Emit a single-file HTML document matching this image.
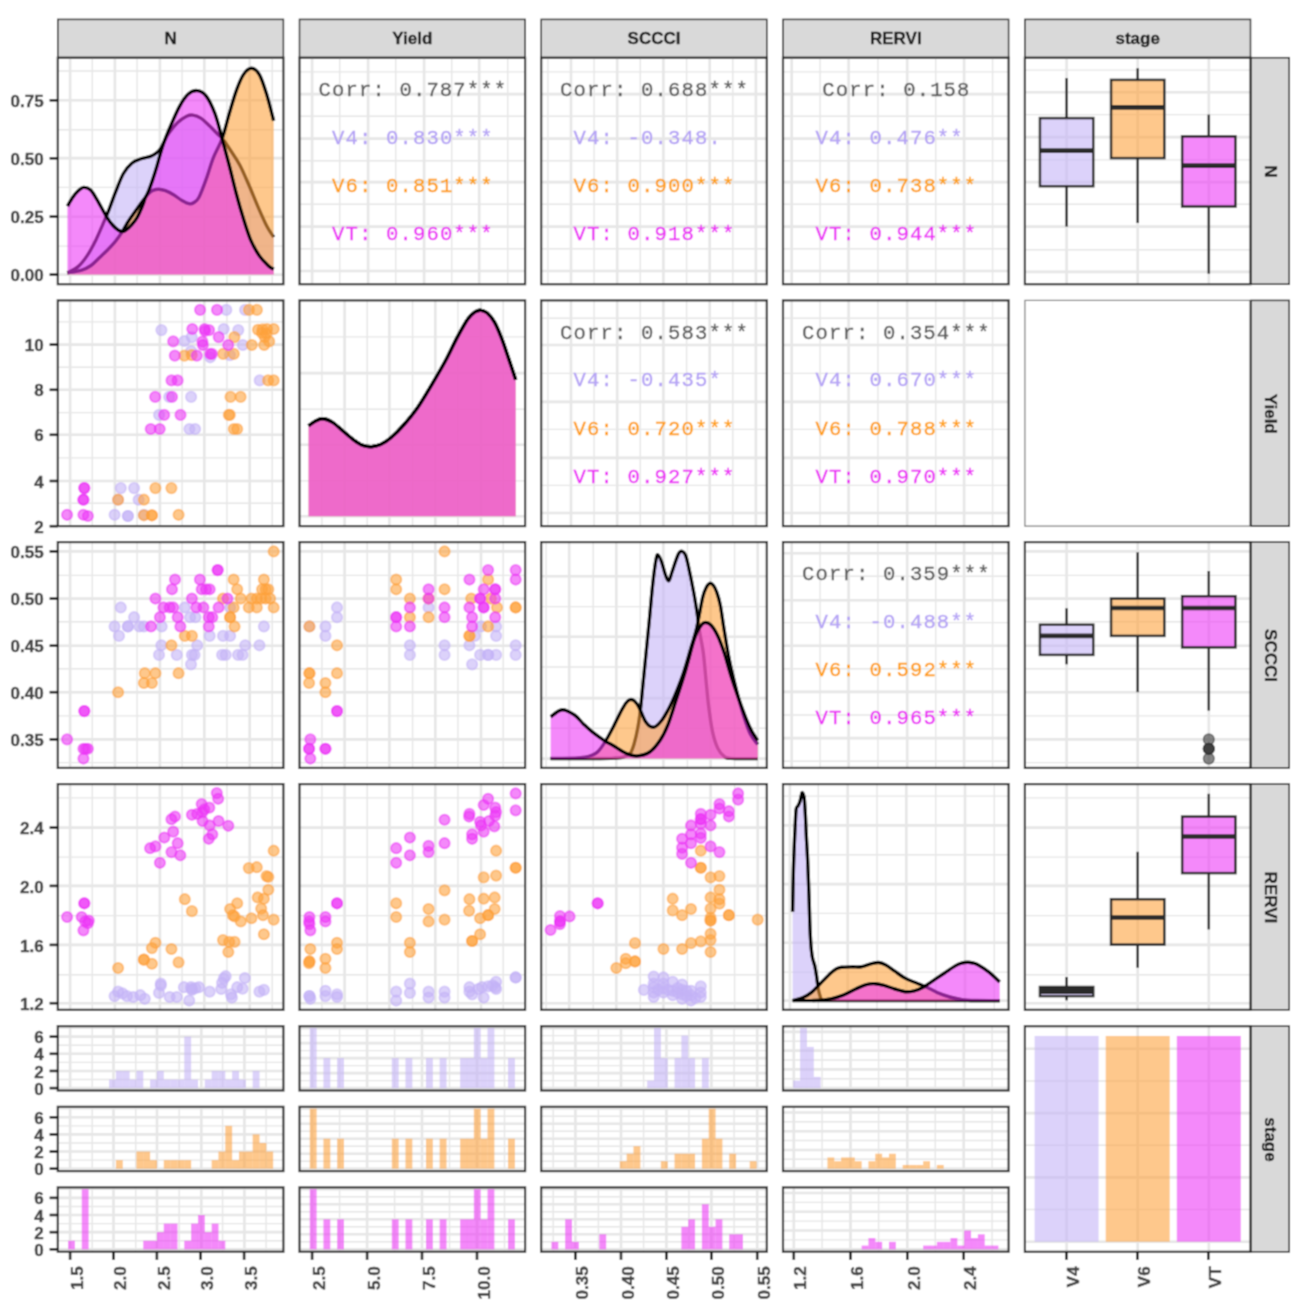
<!DOCTYPE html>
<html><head><meta charset="utf-8"><title>ggpairs</title>
<style>
html,body{margin:0;padding:0;background:#fff;overflow:hidden;}
svg{display:block;} #wrap{width:1308px;height:1305px;}
.st{font-family:"Liberation Sans",sans-serif;font-weight:bold;font-size:17px;fill:#1a1a1a;stroke:#1a1a1a;stroke-width:0.3px;}
.ax{font-family:"Liberation Sans",sans-serif;font-weight:bold;font-size:17px;fill:#444444;stroke:#444444;stroke-width:0.4px;}
.cr{font-family:"Liberation Mono",monospace;font-size:20.6px;letter-spacing:1.14px;white-space:pre;stroke-width:0.3px;}
</style></head><body><div id="wrap">
<svg width="1308" height="1305" viewBox="0 0 1308 1305">
<defs><filter id="bl" x="0" y="0" width="1308" height="1305" filterUnits="userSpaceOnUse"><feConvolveMatrix order="3" kernelMatrix="0.04938 0.12346 0.04938 0.12346 0.30864 0.12346 0.04938 0.12346 0.04938" edgeMode="duplicate" preserveAlpha="false"/></filter></defs>
<g filter="url(#bl)">
<rect x="0" y="0" width="1308" height="1305" fill="#ffffff"/>
<rect x="57.8" y="19.4" width="225.6" height="38.3" fill="#d9d9d9" stroke="#222222" stroke-width="1.5"/>
<text x="170.6" y="44.3" text-anchor="middle" class="st">N</text>
<rect x="299.5" y="19.4" width="225.6" height="38.3" fill="#d9d9d9" stroke="#222222" stroke-width="1.5"/>
<text x="412.3" y="44.3" text-anchor="middle" class="st">Yield</text>
<rect x="541.2" y="19.4" width="225.6" height="38.3" fill="#d9d9d9" stroke="#222222" stroke-width="1.5"/>
<text x="654" y="44.3" text-anchor="middle" class="st">SCCCI</text>
<rect x="783" y="19.4" width="225.6" height="38.3" fill="#d9d9d9" stroke="#222222" stroke-width="1.5"/>
<text x="895.8" y="44.3" text-anchor="middle" class="st">RERVI</text>
<rect x="1024.9" y="19.4" width="225.6" height="38.3" fill="#d9d9d9" stroke="#222222" stroke-width="1.5"/>
<text x="1137.7" y="44.3" text-anchor="middle" class="st">stage</text>
<rect x="1251.0" y="57.7" width="38.2" height="226.5" fill="#d9d9d9" stroke="#222222" stroke-width="1.5"/>
<text transform="translate(1264.5,171.45) rotate(90)" text-anchor="middle" class="st">N</text>
<rect x="1251.0" y="300.4" width="38.2" height="225.7" fill="#d9d9d9" stroke="#222222" stroke-width="1.5"/>
<text transform="translate(1264.5,413.75) rotate(90)" text-anchor="middle" class="st">Yield</text>
<rect x="1251.0" y="542.1" width="38.2" height="225.8" fill="#d9d9d9" stroke="#222222" stroke-width="1.5"/>
<text transform="translate(1264.5,655.5) rotate(90)" text-anchor="middle" class="st">SCCCI</text>
<rect x="1251.0" y="784.1" width="38.2" height="225.7" fill="#d9d9d9" stroke="#222222" stroke-width="1.5"/>
<text transform="translate(1264.5,897.45) rotate(90)" text-anchor="middle" class="st">RERVI</text>
<rect x="1251.0" y="1026.2" width="38.2" height="225.6" fill="#d9d9d9" stroke="#222222" stroke-width="1.5"/>
<text transform="translate(1264.5,1139.5) rotate(90)" text-anchor="middle" class="st">stage</text>
<line x1="92.3" y1="57.7" x2="92.3" y2="284.2" stroke="#e6e6e6" stroke-width="1.4"/>
<line x1="137.1" y1="57.7" x2="137.1" y2="284.2" stroke="#e6e6e6" stroke-width="1.4"/>
<line x1="182.1" y1="57.7" x2="182.1" y2="284.2" stroke="#e6e6e6" stroke-width="1.4"/>
<line x1="226.9" y1="57.7" x2="226.9" y2="284.2" stroke="#e6e6e6" stroke-width="1.4"/>
<line x1="272.2" y1="57.7" x2="272.2" y2="284.2" stroke="#e6e6e6" stroke-width="1.4"/>
<line x1="57.8" y1="71" x2="283.4" y2="71" stroke="#e6e6e6" stroke-width="1.4"/>
<line x1="57.8" y1="129.7" x2="283.4" y2="129.7" stroke="#e6e6e6" stroke-width="1.4"/>
<line x1="57.8" y1="187.4" x2="283.4" y2="187.4" stroke="#e6e6e6" stroke-width="1.4"/>
<line x1="57.8" y1="246.1" x2="283.4" y2="246.1" stroke="#e6e6e6" stroke-width="1.4"/>
<line x1="70.1" y1="57.7" x2="70.1" y2="284.2" stroke="#e6e6e6" stroke-width="2.6"/>
<line x1="114.9" y1="57.7" x2="114.9" y2="284.2" stroke="#e6e6e6" stroke-width="2.6"/>
<line x1="159.9" y1="57.7" x2="159.9" y2="284.2" stroke="#e6e6e6" stroke-width="2.6"/>
<line x1="204.3" y1="57.7" x2="204.3" y2="284.2" stroke="#e6e6e6" stroke-width="2.6"/>
<line x1="249.7" y1="57.7" x2="249.7" y2="284.2" stroke="#e6e6e6" stroke-width="2.6"/>
<line x1="57.8" y1="100.3" x2="283.4" y2="100.3" stroke="#e6e6e6" stroke-width="2.6"/>
<line x1="57.8" y1="158.1" x2="283.4" y2="158.1" stroke="#e6e6e6" stroke-width="2.6"/>
<line x1="57.8" y1="216.8" x2="283.4" y2="216.8" stroke="#e6e6e6" stroke-width="2.6"/>
<line x1="57.8" y1="274.6" x2="283.4" y2="274.6" stroke="#e6e6e6" stroke-width="2.6"/>
<path d="M67.4,274.6 L67.4,272.8 C69.18,271.77 74.83,269.42 78.1,266.6 C81.37,263.78 84.03,260.35 87,255.9 C89.97,251.45 93.23,245.23 95.9,239.9 C98.57,234.57 100.93,228.65 103,223.9 C105.07,219.15 106.23,216.65 108.3,211.4 C110.37,206.15 112.88,198.72 115.4,192.4 C117.92,186.08 120.67,178.37 123.4,173.5 C126.13,168.63 128.98,165.62 131.8,163.2 C134.62,160.78 137.2,160.15 140.3,159 C143.4,157.85 147.7,157.33 150.4,156.3 C153.1,155.27 154.82,154.08 156.5,152.8 C158.18,151.52 159.17,150.57 160.5,148.6 C161.83,146.63 163.12,143.57 164.5,141 C165.88,138.43 166.6,136.27 168.8,133.2 C171,130.13 174.73,125.42 177.7,122.6 C180.67,119.78 184.08,117.55 186.6,116.3 C189.12,115.05 190.43,114.8 192.8,115.1 C195.17,115.4 197.98,116.27 200.8,118.1 C203.62,119.93 207.03,123.58 209.7,126.1 C212.37,128.62 214.58,130.98 216.8,133.2 C219.02,135.42 220.63,136.43 223,139.4 C225.37,142.37 228.18,146.7 231,151 C233.82,155.3 236.93,159.57 239.9,165.2 C242.87,170.83 245.83,177.98 248.8,184.8 C251.77,191.62 254.73,199.28 257.7,206.1 C260.67,212.92 263.93,220.52 266.6,225.7 C269.27,230.88 272.52,235.28 273.7,237.2 L273.7,274.6 Z" fill="#c4b3f7" fill-opacity="0.59"/>
<path d="M67.4,272.8 C69.18,271.77 74.83,269.42 78.1,266.6 C81.37,263.78 84.03,260.35 87,255.9 C89.97,251.45 93.23,245.23 95.9,239.9 C98.57,234.57 100.93,228.65 103,223.9 C105.07,219.15 106.23,216.65 108.3,211.4 C110.37,206.15 112.88,198.72 115.4,192.4 C117.92,186.08 120.67,178.37 123.4,173.5 C126.13,168.63 128.98,165.62 131.8,163.2 C134.62,160.78 137.2,160.15 140.3,159 C143.4,157.85 147.7,157.33 150.4,156.3 C153.1,155.27 154.82,154.08 156.5,152.8 C158.18,151.52 159.17,150.57 160.5,148.6 C161.83,146.63 163.12,143.57 164.5,141 C165.88,138.43 166.6,136.27 168.8,133.2 C171,130.13 174.73,125.42 177.7,122.6 C180.67,119.78 184.08,117.55 186.6,116.3 C189.12,115.05 190.43,114.8 192.8,115.1 C195.17,115.4 197.98,116.27 200.8,118.1 C203.62,119.93 207.03,123.58 209.7,126.1 C212.37,128.62 214.58,130.98 216.8,133.2 C219.02,135.42 220.63,136.43 223,139.4 C225.37,142.37 228.18,146.7 231,151 C233.82,155.3 236.93,159.57 239.9,165.2 C242.87,170.83 245.83,177.98 248.8,184.8 C251.77,191.62 254.73,199.28 257.7,206.1 C260.67,212.92 263.93,220.52 266.6,225.7 C269.27,230.88 272.52,235.28 273.7,237.2" fill="none" stroke="#000" stroke-width="3.4" stroke-linejoin="round"/>
<path d="M67.4,274.6 L67.4,272.8 C69.78,272.35 77.77,271.32 81.7,270.1 C85.63,268.88 88.05,267.57 91,265.5 C93.95,263.43 96.73,260.2 99.4,257.7 C102.07,255.2 104.62,252.88 107,250.5 C109.38,248.12 111.78,245.6 113.7,243.4 C115.62,241.2 117.02,239.33 118.5,237.3 C119.98,235.27 121.18,233.5 122.6,231.2 C124.02,228.9 125.47,226 127,223.5 C128.53,221 130.3,218.42 131.8,216.2 C133.3,213.98 134.58,212.18 136,210.2 C137.42,208.22 138.75,206.4 140.3,204.3 C141.85,202.2 143.9,199.42 145.3,197.6 C146.7,195.78 147.43,194.6 148.7,193.4 C149.97,192.2 151.22,191.1 152.9,190.4 C154.58,189.7 156.7,189.15 158.8,189.2 C160.9,189.25 162.97,189.73 165.5,190.7 C168.03,191.67 171.25,193.37 174,195 C176.75,196.63 179.42,199.03 182,200.5 C184.58,201.97 187.5,203.47 189.5,203.8 C191.5,204.13 192.42,203.6 194,202.5 C195.58,201.4 196.98,201.05 199,197.2 C201.02,193.35 203.73,185.92 206.1,179.4 C208.47,172.88 210.53,164.9 213.2,158.1 C215.87,151.3 219.43,146 222.1,138.6 C224.77,131.2 226.83,121.7 229.2,113.7 C231.57,105.7 233.93,97.12 236.3,90.6 C238.67,84.08 240.88,78.32 243.4,74.6 C245.92,70.88 248.73,68.3 251.4,68.3 C254.07,68.3 256.87,70.3 259.4,74.6 C261.93,78.9 264.22,86.4 266.6,94.1 C268.98,101.8 272.52,116.35 273.7,120.8 L273.7,274.6 Z" fill="#fea13c" fill-opacity="0.59"/>
<path d="M67.4,272.8 C69.78,272.35 77.77,271.32 81.7,270.1 C85.63,268.88 88.05,267.57 91,265.5 C93.95,263.43 96.73,260.2 99.4,257.7 C102.07,255.2 104.62,252.88 107,250.5 C109.38,248.12 111.78,245.6 113.7,243.4 C115.62,241.2 117.02,239.33 118.5,237.3 C119.98,235.27 121.18,233.5 122.6,231.2 C124.02,228.9 125.47,226 127,223.5 C128.53,221 130.3,218.42 131.8,216.2 C133.3,213.98 134.58,212.18 136,210.2 C137.42,208.22 138.75,206.4 140.3,204.3 C141.85,202.2 143.9,199.42 145.3,197.6 C146.7,195.78 147.43,194.6 148.7,193.4 C149.97,192.2 151.22,191.1 152.9,190.4 C154.58,189.7 156.7,189.15 158.8,189.2 C160.9,189.25 162.97,189.73 165.5,190.7 C168.03,191.67 171.25,193.37 174,195 C176.75,196.63 179.42,199.03 182,200.5 C184.58,201.97 187.5,203.47 189.5,203.8 C191.5,204.13 192.42,203.6 194,202.5 C195.58,201.4 196.98,201.05 199,197.2 C201.02,193.35 203.73,185.92 206.1,179.4 C208.47,172.88 210.53,164.9 213.2,158.1 C215.87,151.3 219.43,146 222.1,138.6 C224.77,131.2 226.83,121.7 229.2,113.7 C231.57,105.7 233.93,97.12 236.3,90.6 C238.67,84.08 240.88,78.32 243.4,74.6 C245.92,70.88 248.73,68.3 251.4,68.3 C254.07,68.3 256.87,70.3 259.4,74.6 C261.93,78.9 264.22,86.4 266.6,94.1 C268.98,101.8 272.52,116.35 273.7,120.8" fill="none" stroke="#000" stroke-width="3.4" stroke-linejoin="round"/>
<path d="M67.4,274.6 L67.4,206.1 C68.3,204.62 71.03,199.72 72.8,197.2 C74.57,194.68 76.23,192.63 78,191 C79.77,189.37 81.3,187.55 83.4,187.4 C85.5,187.25 88.22,187.87 90.6,190.1 C92.98,192.33 95.03,196.35 97.7,200.8 C100.37,205.25 104.05,212.68 106.6,216.8 C109.15,220.92 111.02,223.27 113,225.5 C114.98,227.73 116.9,229.18 118.5,230.2 C120.1,231.22 121.27,231.7 122.6,231.6 C123.93,231.5 124.97,230.77 126.5,229.6 C128.03,228.43 130.07,226.57 131.8,224.6 C133.53,222.63 135.48,220.07 136.9,217.8 C138.32,215.53 139.18,213.5 140.3,211 C141.42,208.5 142.77,205 143.6,202.8 C144.43,200.6 144.45,199.82 145.3,197.8 C146.15,195.78 147.43,193.85 148.7,190.7 C149.97,187.55 151.5,183.12 152.9,178.9 C154.3,174.68 155.7,170.15 157.1,165.4 C158.5,160.65 159.9,154.93 161.3,150.4 C162.7,145.87 164.05,142.07 165.5,138.2 C166.95,134.33 167.68,132.47 170,127.2 C172.32,121.93 176.35,112.12 179.4,106.6 C182.45,101.08 185.33,96.77 188.3,94.1 C191.27,91.43 194.23,90.3 197.2,90.6 C200.17,90.9 203.13,92.05 206.1,95.9 C209.07,99.75 212.33,106.58 215,113.7 C217.67,120.82 219.73,130.02 222.1,138.6 C224.47,147.18 226.83,156.02 229.2,165.2 C231.57,174.38 233.93,184.8 236.3,193.7 C238.67,202.6 241.02,210.9 243.4,218.6 C245.78,226.3 247.93,233.68 250.6,239.9 C253.27,246.12 256.45,251.6 259.4,255.9 C262.35,260.2 265.92,263.48 268.3,265.7 C270.68,267.92 272.8,268.62 273.7,269.2 L273.7,274.6 Z" fill="#ec36f6" fill-opacity="0.59"/>
<path d="M67.4,206.1 C68.3,204.62 71.03,199.72 72.8,197.2 C74.57,194.68 76.23,192.63 78,191 C79.77,189.37 81.3,187.55 83.4,187.4 C85.5,187.25 88.22,187.87 90.6,190.1 C92.98,192.33 95.03,196.35 97.7,200.8 C100.37,205.25 104.05,212.68 106.6,216.8 C109.15,220.92 111.02,223.27 113,225.5 C114.98,227.73 116.9,229.18 118.5,230.2 C120.1,231.22 121.27,231.7 122.6,231.6 C123.93,231.5 124.97,230.77 126.5,229.6 C128.03,228.43 130.07,226.57 131.8,224.6 C133.53,222.63 135.48,220.07 136.9,217.8 C138.32,215.53 139.18,213.5 140.3,211 C141.42,208.5 142.77,205 143.6,202.8 C144.43,200.6 144.45,199.82 145.3,197.8 C146.15,195.78 147.43,193.85 148.7,190.7 C149.97,187.55 151.5,183.12 152.9,178.9 C154.3,174.68 155.7,170.15 157.1,165.4 C158.5,160.65 159.9,154.93 161.3,150.4 C162.7,145.87 164.05,142.07 165.5,138.2 C166.95,134.33 167.68,132.47 170,127.2 C172.32,121.93 176.35,112.12 179.4,106.6 C182.45,101.08 185.33,96.77 188.3,94.1 C191.27,91.43 194.23,90.3 197.2,90.6 C200.17,90.9 203.13,92.05 206.1,95.9 C209.07,99.75 212.33,106.58 215,113.7 C217.67,120.82 219.73,130.02 222.1,138.6 C224.47,147.18 226.83,156.02 229.2,165.2 C231.57,174.38 233.93,184.8 236.3,193.7 C238.67,202.6 241.02,210.9 243.4,218.6 C245.78,226.3 247.93,233.68 250.6,239.9 C253.27,246.12 256.45,251.6 259.4,255.9 C262.35,260.2 265.92,263.48 268.3,265.7 C270.68,267.92 272.8,268.62 273.7,269.2" fill="none" stroke="#000" stroke-width="3.4" stroke-linejoin="round"/>
<line x1="321.9" y1="300.4" x2="321.9" y2="526.1" stroke="#e6e6e6" stroke-width="1.4"/>
<line x1="367.2" y1="300.4" x2="367.2" y2="526.1" stroke="#e6e6e6" stroke-width="1.4"/>
<line x1="412.6" y1="300.4" x2="412.6" y2="526.1" stroke="#e6e6e6" stroke-width="1.4"/>
<line x1="457.9" y1="300.4" x2="457.9" y2="526.1" stroke="#e6e6e6" stroke-width="1.4"/>
<line x1="503.2" y1="300.4" x2="503.2" y2="526.1" stroke="#e6e6e6" stroke-width="1.4"/>
<line x1="299.5" y1="336.9" x2="525.1" y2="336.9" stroke="#e6e6e6" stroke-width="1.4"/>
<line x1="299.5" y1="409.3" x2="525.1" y2="409.3" stroke="#e6e6e6" stroke-width="1.4"/>
<line x1="299.5" y1="480.9" x2="525.1" y2="480.9" stroke="#e6e6e6" stroke-width="1.4"/>
<line x1="344.6" y1="300.4" x2="344.6" y2="526.1" stroke="#e6e6e6" stroke-width="2.6"/>
<line x1="389.4" y1="300.4" x2="389.4" y2="526.1" stroke="#e6e6e6" stroke-width="2.6"/>
<line x1="435.3" y1="300.4" x2="435.3" y2="526.1" stroke="#e6e6e6" stroke-width="2.6"/>
<line x1="481" y1="300.4" x2="481" y2="526.1" stroke="#e6e6e6" stroke-width="2.6"/>
<line x1="299.5" y1="373.1" x2="525.1" y2="373.1" stroke="#e6e6e6" stroke-width="2.6"/>
<line x1="299.5" y1="444.7" x2="525.1" y2="444.7" stroke="#e6e6e6" stroke-width="2.6"/>
<line x1="299.5" y1="516.3" x2="525.1" y2="516.3" stroke="#e6e6e6" stroke-width="2.6"/>
<path d="M308.56,516.3 L308.56,425.89 C309.59,425.15 312.41,422.63 314.78,421.44 C317.15,420.26 319.81,418.63 322.78,418.78 C325.74,418.93 329.15,420.26 332.56,422.33 C335.96,424.41 339.67,428.26 343.22,431.22 C346.78,434.19 350.63,437.74 353.89,440.11 C357.15,442.48 359.81,444.35 362.78,445.44 C365.74,446.54 368.7,446.84 371.67,446.69 C374.63,446.54 377.3,446.1 380.56,444.56 C383.81,443.01 387.37,440.7 391.22,437.44 C395.07,434.19 399.22,430.04 403.67,425 C408.11,419.96 413.15,414.04 417.89,407.22 C422.63,400.41 427.37,392.11 432.11,384.11 C436.85,376.11 442.19,366.93 446.33,359.22 C450.48,351.52 453.44,344.56 457,337.89 C460.56,331.22 464.7,323.52 467.67,319.22 C470.63,314.93 472.56,313.59 474.78,312.11 C477,310.63 478.93,310.19 481,310.33 C483.07,310.48 485,311.07 487.22,313 C489.44,314.93 491.96,317.74 494.33,321.89 C496.7,326.04 499.07,331.81 501.44,337.89 C503.81,343.96 506.19,351.37 508.56,358.33 C510.93,365.3 514.48,376.11 515.67,379.67 L515.67,516.3 Z" fill="#c4b3f7" fill-opacity="0.59"/>
<path d="M308.56,425.89 C309.59,425.15 312.41,422.63 314.78,421.44 C317.15,420.26 319.81,418.63 322.78,418.78 C325.74,418.93 329.15,420.26 332.56,422.33 C335.96,424.41 339.67,428.26 343.22,431.22 C346.78,434.19 350.63,437.74 353.89,440.11 C357.15,442.48 359.81,444.35 362.78,445.44 C365.74,446.54 368.7,446.84 371.67,446.69 C374.63,446.54 377.3,446.1 380.56,444.56 C383.81,443.01 387.37,440.7 391.22,437.44 C395.07,434.19 399.22,430.04 403.67,425 C408.11,419.96 413.15,414.04 417.89,407.22 C422.63,400.41 427.37,392.11 432.11,384.11 C436.85,376.11 442.19,366.93 446.33,359.22 C450.48,351.52 453.44,344.56 457,337.89 C460.56,331.22 464.7,323.52 467.67,319.22 C470.63,314.93 472.56,313.59 474.78,312.11 C477,310.63 478.93,310.19 481,310.33 C483.07,310.48 485,311.07 487.22,313 C489.44,314.93 491.96,317.74 494.33,321.89 C496.7,326.04 499.07,331.81 501.44,337.89 C503.81,343.96 506.19,351.37 508.56,358.33 C510.93,365.3 514.48,376.11 515.67,379.67" fill="none" stroke="#000" stroke-width="3.4" stroke-linejoin="round"/>
<path d="M308.56,516.3 L308.56,425.89 C309.59,425.15 312.41,422.63 314.78,421.44 C317.15,420.26 319.81,418.63 322.78,418.78 C325.74,418.93 329.15,420.26 332.56,422.33 C335.96,424.41 339.67,428.26 343.22,431.22 C346.78,434.19 350.63,437.74 353.89,440.11 C357.15,442.48 359.81,444.35 362.78,445.44 C365.74,446.54 368.7,446.84 371.67,446.69 C374.63,446.54 377.3,446.1 380.56,444.56 C383.81,443.01 387.37,440.7 391.22,437.44 C395.07,434.19 399.22,430.04 403.67,425 C408.11,419.96 413.15,414.04 417.89,407.22 C422.63,400.41 427.37,392.11 432.11,384.11 C436.85,376.11 442.19,366.93 446.33,359.22 C450.48,351.52 453.44,344.56 457,337.89 C460.56,331.22 464.7,323.52 467.67,319.22 C470.63,314.93 472.56,313.59 474.78,312.11 C477,310.63 478.93,310.19 481,310.33 C483.07,310.48 485,311.07 487.22,313 C489.44,314.93 491.96,317.74 494.33,321.89 C496.7,326.04 499.07,331.81 501.44,337.89 C503.81,343.96 506.19,351.37 508.56,358.33 C510.93,365.3 514.48,376.11 515.67,379.67 L515.67,516.3 Z" fill="#fea13c" fill-opacity="0.59"/>
<path d="M308.56,425.89 C309.59,425.15 312.41,422.63 314.78,421.44 C317.15,420.26 319.81,418.63 322.78,418.78 C325.74,418.93 329.15,420.26 332.56,422.33 C335.96,424.41 339.67,428.26 343.22,431.22 C346.78,434.19 350.63,437.74 353.89,440.11 C357.15,442.48 359.81,444.35 362.78,445.44 C365.74,446.54 368.7,446.84 371.67,446.69 C374.63,446.54 377.3,446.1 380.56,444.56 C383.81,443.01 387.37,440.7 391.22,437.44 C395.07,434.19 399.22,430.04 403.67,425 C408.11,419.96 413.15,414.04 417.89,407.22 C422.63,400.41 427.37,392.11 432.11,384.11 C436.85,376.11 442.19,366.93 446.33,359.22 C450.48,351.52 453.44,344.56 457,337.89 C460.56,331.22 464.7,323.52 467.67,319.22 C470.63,314.93 472.56,313.59 474.78,312.11 C477,310.63 478.93,310.19 481,310.33 C483.07,310.48 485,311.07 487.22,313 C489.44,314.93 491.96,317.74 494.33,321.89 C496.7,326.04 499.07,331.81 501.44,337.89 C503.81,343.96 506.19,351.37 508.56,358.33 C510.93,365.3 514.48,376.11 515.67,379.67" fill="none" stroke="#000" stroke-width="3.4" stroke-linejoin="round"/>
<path d="M308.56,516.3 L308.56,425.89 C309.59,425.15 312.41,422.63 314.78,421.44 C317.15,420.26 319.81,418.63 322.78,418.78 C325.74,418.93 329.15,420.26 332.56,422.33 C335.96,424.41 339.67,428.26 343.22,431.22 C346.78,434.19 350.63,437.74 353.89,440.11 C357.15,442.48 359.81,444.35 362.78,445.44 C365.74,446.54 368.7,446.84 371.67,446.69 C374.63,446.54 377.3,446.1 380.56,444.56 C383.81,443.01 387.37,440.7 391.22,437.44 C395.07,434.19 399.22,430.04 403.67,425 C408.11,419.96 413.15,414.04 417.89,407.22 C422.63,400.41 427.37,392.11 432.11,384.11 C436.85,376.11 442.19,366.93 446.33,359.22 C450.48,351.52 453.44,344.56 457,337.89 C460.56,331.22 464.7,323.52 467.67,319.22 C470.63,314.93 472.56,313.59 474.78,312.11 C477,310.63 478.93,310.19 481,310.33 C483.07,310.48 485,311.07 487.22,313 C489.44,314.93 491.96,317.74 494.33,321.89 C496.7,326.04 499.07,331.81 501.44,337.89 C503.81,343.96 506.19,351.37 508.56,358.33 C510.93,365.3 514.48,376.11 515.67,379.67 L515.67,516.3 Z" fill="#ec36f6" fill-opacity="0.59"/>
<path d="M308.56,425.89 C309.59,425.15 312.41,422.63 314.78,421.44 C317.15,420.26 319.81,418.63 322.78,418.78 C325.74,418.93 329.15,420.26 332.56,422.33 C335.96,424.41 339.67,428.26 343.22,431.22 C346.78,434.19 350.63,437.74 353.89,440.11 C357.15,442.48 359.81,444.35 362.78,445.44 C365.74,446.54 368.7,446.84 371.67,446.69 C374.63,446.54 377.3,446.1 380.56,444.56 C383.81,443.01 387.37,440.7 391.22,437.44 C395.07,434.19 399.22,430.04 403.67,425 C408.11,419.96 413.15,414.04 417.89,407.22 C422.63,400.41 427.37,392.11 432.11,384.11 C436.85,376.11 442.19,366.93 446.33,359.22 C450.48,351.52 453.44,344.56 457,337.89 C460.56,331.22 464.7,323.52 467.67,319.22 C470.63,314.93 472.56,313.59 474.78,312.11 C477,310.63 478.93,310.19 481,310.33 C483.07,310.48 485,311.07 487.22,313 C489.44,314.93 491.96,317.74 494.33,321.89 C496.7,326.04 499.07,331.81 501.44,337.89 C503.81,343.96 506.19,351.37 508.56,358.33 C510.93,365.3 514.48,376.11 515.67,379.67" fill="none" stroke="#000" stroke-width="3.4" stroke-linejoin="round"/>
<line x1="546.1" y1="542.1" x2="546.1" y2="767.9" stroke="#e6e6e6" stroke-width="1.4"/>
<line x1="593.2" y1="542.1" x2="593.2" y2="767.9" stroke="#e6e6e6" stroke-width="1.4"/>
<line x1="640.3" y1="542.1" x2="640.3" y2="767.9" stroke="#e6e6e6" stroke-width="1.4"/>
<line x1="687.4" y1="542.1" x2="687.4" y2="767.9" stroke="#e6e6e6" stroke-width="1.4"/>
<line x1="734.6" y1="542.1" x2="734.6" y2="767.9" stroke="#e6e6e6" stroke-width="1.4"/>
<line x1="541.2" y1="728.3" x2="766.8" y2="728.3" stroke="#e6e6e6" stroke-width="1.4"/>
<line x1="541.2" y1="667" x2="766.8" y2="667" stroke="#e6e6e6" stroke-width="1.4"/>
<line x1="541.2" y1="606.6" x2="766.8" y2="606.6" stroke="#e6e6e6" stroke-width="1.4"/>
<line x1="569.2" y1="542.1" x2="569.2" y2="767.9" stroke="#e6e6e6" stroke-width="2.6"/>
<line x1="616.3" y1="542.1" x2="616.3" y2="767.9" stroke="#e6e6e6" stroke-width="2.6"/>
<line x1="663.4" y1="542.1" x2="663.4" y2="767.9" stroke="#e6e6e6" stroke-width="2.6"/>
<line x1="710.6" y1="542.1" x2="710.6" y2="767.9" stroke="#e6e6e6" stroke-width="2.6"/>
<line x1="757.7" y1="542.1" x2="757.7" y2="767.9" stroke="#e6e6e6" stroke-width="2.6"/>
<line x1="541.2" y1="758.6" x2="766.8" y2="758.6" stroke="#e6e6e6" stroke-width="2.6"/>
<line x1="541.2" y1="698.1" x2="766.8" y2="698.1" stroke="#e6e6e6" stroke-width="2.6"/>
<line x1="541.2" y1="636.8" x2="766.8" y2="636.8" stroke="#e6e6e6" stroke-width="2.6"/>
<line x1="541.2" y1="576.3" x2="766.8" y2="576.3" stroke="#e6e6e6" stroke-width="2.6"/>
<path d="M550.6,758.6 L550.6,758.6 C558.83,758.58 589.27,758.6 600,758.5 C610.73,758.4 611,758.28 615,758 C619,757.72 621.48,757.55 624,756.8 C626.52,756.05 628.43,755.6 630.1,753.5 C631.77,751.4 632.7,748.58 634,744.2 C635.3,739.82 636.82,733.08 637.9,727.2 C638.98,721.32 639.63,716.3 640.5,708.9 C641.37,701.5 642.22,691.67 643.1,682.8 C643.98,673.93 644.78,665.93 645.8,655.7 C646.82,645.47 648.03,633.45 649.2,621.4 C650.37,609.35 651.62,593.97 652.8,583.4 C653.98,572.83 655.35,562.65 656.3,558 C657.25,553.35 657.6,554.82 658.5,555.5 C659.4,556.18 660.53,558.85 661.7,562.1 C662.87,565.35 664.32,571.9 665.5,575 C666.68,578.1 667.72,581.2 668.8,580.7 C669.88,580.2 670.82,575.4 672,572 C673.18,568.6 674.73,563.47 675.9,560.3 C677.07,557.13 677.97,554.48 679,553 C680.03,551.52 681.02,551.07 682.1,551.4 C683.18,551.73 684.47,552.62 685.5,555 C686.53,557.38 686.93,559.48 688.3,565.7 C689.67,571.92 692.22,584.3 693.7,592.3 C695.18,600.3 696.25,607.33 697.2,613.7 C698.15,620.07 698.38,624 699.4,630.5 C700.42,637 702.22,644.65 703.3,652.7 C704.38,660.75 705.03,670.08 705.9,678.8 C706.77,687.52 707.42,696.28 708.5,705 C709.58,713.72 710.87,723.92 712.4,731.1 C713.93,738.28 715.73,743.9 717.7,748.1 C719.67,752.3 722.03,754.58 724.2,756.3 C726.37,758.02 725.12,758.02 730.7,758.4 C736.28,758.78 753.2,758.57 757.7,758.6 L757.7,758.6 Z" fill="#c4b3f7" fill-opacity="0.59"/>
<path d="M550.6,758.6 C558.83,758.58 589.27,758.6 600,758.5 C610.73,758.4 611,758.28 615,758 C619,757.72 621.48,757.55 624,756.8 C626.52,756.05 628.43,755.6 630.1,753.5 C631.77,751.4 632.7,748.58 634,744.2 C635.3,739.82 636.82,733.08 637.9,727.2 C638.98,721.32 639.63,716.3 640.5,708.9 C641.37,701.5 642.22,691.67 643.1,682.8 C643.98,673.93 644.78,665.93 645.8,655.7 C646.82,645.47 648.03,633.45 649.2,621.4 C650.37,609.35 651.62,593.97 652.8,583.4 C653.98,572.83 655.35,562.65 656.3,558 C657.25,553.35 657.6,554.82 658.5,555.5 C659.4,556.18 660.53,558.85 661.7,562.1 C662.87,565.35 664.32,571.9 665.5,575 C666.68,578.1 667.72,581.2 668.8,580.7 C669.88,580.2 670.82,575.4 672,572 C673.18,568.6 674.73,563.47 675.9,560.3 C677.07,557.13 677.97,554.48 679,553 C680.03,551.52 681.02,551.07 682.1,551.4 C683.18,551.73 684.47,552.62 685.5,555 C686.53,557.38 686.93,559.48 688.3,565.7 C689.67,571.92 692.22,584.3 693.7,592.3 C695.18,600.3 696.25,607.33 697.2,613.7 C698.15,620.07 698.38,624 699.4,630.5 C700.42,637 702.22,644.65 703.3,652.7 C704.38,660.75 705.03,670.08 705.9,678.8 C706.77,687.52 707.42,696.28 708.5,705 C709.58,713.72 710.87,723.92 712.4,731.1 C713.93,738.28 715.73,743.9 717.7,748.1 C719.67,752.3 722.03,754.58 724.2,756.3 C726.37,758.02 725.12,758.02 730.7,758.4 C736.28,758.78 753.2,758.57 757.7,758.6" fill="none" stroke="#000" stroke-width="3.4" stroke-linejoin="round"/>
<path d="M550.6,758.6 L550.6,758.4 C554.67,758.37 569.27,758.4 575,758.2 C580.73,758 582.12,757.73 585,757.2 C587.88,756.67 590.13,755.95 592.3,755 C594.47,754.05 595.85,753.73 598,751.5 C600.15,749.27 602.68,745.65 605.2,741.6 C607.72,737.55 610.48,732.22 613.1,727.2 C615.72,722.18 618.75,715.53 620.9,711.5 C623.05,707.47 624.47,704.97 626,703 C627.53,701.03 628.68,700.03 630.1,699.7 C631.52,699.37 632.98,699.68 634.5,701 C636.02,702.32 637.32,704.1 639.2,707.6 C641.08,711.1 643.4,718.73 645.8,722 C648.2,725.27 651,727.42 653.6,727.2 C656.2,726.98 658.78,723.97 661.4,720.7 C664.02,717.43 666.9,712.18 669.3,707.6 C671.7,703.02 673.4,699.08 675.8,693.2 C678.2,687.32 681.08,680.15 683.7,672.3 C686.32,664.45 689.33,653.52 691.5,646.1 C693.67,638.68 694.85,635.87 696.7,627.8 C698.55,619.73 701.05,604.33 702.6,597.7 C704.15,591.07 704.82,590.38 706,588 C707.18,585.62 708.45,583.82 709.7,583.4 C710.95,582.98 712.32,584.02 713.5,585.5 C714.68,586.98 715.67,589.05 716.8,592.3 C717.93,595.55 719.07,598.72 720.3,605 C721.53,611.28 722.68,620.83 724.2,630 C725.72,639.17 727.22,649.43 729.4,660 C731.58,670.57 734.9,684 737.3,693.4 C739.7,702.8 741.63,709.63 743.8,716.4 C745.97,723.17 747.98,729.32 750.3,734 C752.62,738.68 756.47,742.75 757.7,744.5 L757.7,758.6 Z" fill="#fea13c" fill-opacity="0.59"/>
<path d="M550.6,758.4 C554.67,758.37 569.27,758.4 575,758.2 C580.73,758 582.12,757.73 585,757.2 C587.88,756.67 590.13,755.95 592.3,755 C594.47,754.05 595.85,753.73 598,751.5 C600.15,749.27 602.68,745.65 605.2,741.6 C607.72,737.55 610.48,732.22 613.1,727.2 C615.72,722.18 618.75,715.53 620.9,711.5 C623.05,707.47 624.47,704.97 626,703 C627.53,701.03 628.68,700.03 630.1,699.7 C631.52,699.37 632.98,699.68 634.5,701 C636.02,702.32 637.32,704.1 639.2,707.6 C641.08,711.1 643.4,718.73 645.8,722 C648.2,725.27 651,727.42 653.6,727.2 C656.2,726.98 658.78,723.97 661.4,720.7 C664.02,717.43 666.9,712.18 669.3,707.6 C671.7,703.02 673.4,699.08 675.8,693.2 C678.2,687.32 681.08,680.15 683.7,672.3 C686.32,664.45 689.33,653.52 691.5,646.1 C693.67,638.68 694.85,635.87 696.7,627.8 C698.55,619.73 701.05,604.33 702.6,597.7 C704.15,591.07 704.82,590.38 706,588 C707.18,585.62 708.45,583.82 709.7,583.4 C710.95,582.98 712.32,584.02 713.5,585.5 C714.68,586.98 715.67,589.05 716.8,592.3 C717.93,595.55 719.07,598.72 720.3,605 C721.53,611.28 722.68,620.83 724.2,630 C725.72,639.17 727.22,649.43 729.4,660 C731.58,670.57 734.9,684 737.3,693.4 C739.7,702.8 741.63,709.63 743.8,716.4 C745.97,723.17 747.98,729.32 750.3,734 C752.62,738.68 756.47,742.75 757.7,744.5" fill="none" stroke="#000" stroke-width="3.4" stroke-linejoin="round"/>
<path d="M550.6,758.6 L550.6,716.8 C552.52,715.62 558.1,710 562.1,709.7 C566.1,709.4 571.05,712.63 574.6,715 C578.15,717.37 580.45,721.08 583.4,723.9 C586.35,726.72 588.73,729.08 592.3,731.9 C595.87,734.72 601.33,738.53 604.8,740.8 C608.27,743.07 609.55,743.4 613.1,745.5 C616.65,747.6 622.18,751.65 626.1,753.4 C630.02,755.15 632.67,756.23 636.6,756 C640.53,755.77 645.78,754.62 649.7,752 C653.62,749.38 657.05,744.87 660.1,740.3 C663.15,735.73 665.38,731.13 668,724.6 C670.62,718.07 672.97,709.82 675.8,701.1 C678.63,692.38 681.95,682.55 685,672.3 C688.05,662.05 691.7,647.02 694.1,639.6 C696.5,632.18 697.65,630.63 699.4,627.8 C701.15,624.97 702.65,623.03 704.6,622.6 C706.55,622.17 708.92,623.02 711.1,625.2 C713.28,627.38 715.52,631.12 717.7,635.7 C719.88,640.28 722.03,646.17 724.2,652.7 C726.37,659.23 728.3,667.28 730.7,674.9 C733.1,682.52 735.98,690.98 738.6,698.4 C741.22,705.82 744.22,713.95 746.4,719.4 C748.58,724.85 749.82,727.58 751.7,731.1 C753.58,734.62 756.7,738.93 757.7,740.5 L757.7,758.6 Z" fill="#ec36f6" fill-opacity="0.59"/>
<path d="M550.6,716.8 C552.52,715.62 558.1,710 562.1,709.7 C566.1,709.4 571.05,712.63 574.6,715 C578.15,717.37 580.45,721.08 583.4,723.9 C586.35,726.72 588.73,729.08 592.3,731.9 C595.87,734.72 601.33,738.53 604.8,740.8 C608.27,743.07 609.55,743.4 613.1,745.5 C616.65,747.6 622.18,751.65 626.1,753.4 C630.02,755.15 632.67,756.23 636.6,756 C640.53,755.77 645.78,754.62 649.7,752 C653.62,749.38 657.05,744.87 660.1,740.3 C663.15,735.73 665.38,731.13 668,724.6 C670.62,718.07 672.97,709.82 675.8,701.1 C678.63,692.38 681.95,682.55 685,672.3 C688.05,662.05 691.7,647.02 694.1,639.6 C696.5,632.18 697.65,630.63 699.4,627.8 C701.15,624.97 702.65,623.03 704.6,622.6 C706.55,622.17 708.92,623.02 711.1,625.2 C713.28,627.38 715.52,631.12 717.7,635.7 C719.88,640.28 722.03,646.17 724.2,652.7 C726.37,659.23 728.3,667.28 730.7,674.9 C733.1,682.52 735.98,690.98 738.6,698.4 C741.22,705.82 744.22,713.95 746.4,719.4 C748.58,724.85 749.82,727.58 751.7,731.1 C753.58,734.62 756.7,738.93 757.7,740.5" fill="none" stroke="#000" stroke-width="3.4" stroke-linejoin="round"/>
<line x1="818.3" y1="784.1" x2="818.3" y2="1009.8" stroke="#e6e6e6" stroke-width="1.4"/>
<line x1="877" y1="784.1" x2="877" y2="1009.8" stroke="#e6e6e6" stroke-width="1.4"/>
<line x1="935.7" y1="784.1" x2="935.7" y2="1009.8" stroke="#e6e6e6" stroke-width="1.4"/>
<line x1="994.3" y1="784.1" x2="994.3" y2="1009.8" stroke="#e6e6e6" stroke-width="1.4"/>
<line x1="783" y1="972.1" x2="1008.6" y2="972.1" stroke="#e6e6e6" stroke-width="1.4"/>
<line x1="783" y1="913.4" x2="1008.6" y2="913.4" stroke="#e6e6e6" stroke-width="1.4"/>
<line x1="783" y1="854.8" x2="1008.6" y2="854.8" stroke="#e6e6e6" stroke-width="1.4"/>
<line x1="783" y1="796.1" x2="1008.6" y2="796.1" stroke="#e6e6e6" stroke-width="1.4"/>
<line x1="789.9" y1="784.1" x2="789.9" y2="1009.8" stroke="#e6e6e6" stroke-width="2.6"/>
<line x1="847.7" y1="784.1" x2="847.7" y2="1009.8" stroke="#e6e6e6" stroke-width="2.6"/>
<line x1="906.3" y1="784.1" x2="906.3" y2="1009.8" stroke="#e6e6e6" stroke-width="2.6"/>
<line x1="965" y1="784.1" x2="965" y2="1009.8" stroke="#e6e6e6" stroke-width="2.6"/>
<line x1="783" y1="1000.6" x2="1008.6" y2="1000.6" stroke="#e6e6e6" stroke-width="2.6"/>
<line x1="783" y1="942.8" x2="1008.6" y2="942.8" stroke="#e6e6e6" stroke-width="2.6"/>
<line x1="783" y1="884.1" x2="1008.6" y2="884.1" stroke="#e6e6e6" stroke-width="2.6"/>
<line x1="783" y1="825.4" x2="1008.6" y2="825.4" stroke="#e6e6e6" stroke-width="2.6"/>
<path d="M792.6,1000.6 L792.6,911.7 C792.73,904.73 793.08,881.85 793.4,869.9 C793.72,857.95 794.2,847.42 794.5,840 C794.8,832.58 794.93,830.5 795.2,825.4 C795.47,820.3 795.65,812.65 796.1,809.4 C796.55,806.15 797.3,807.08 797.9,805.9 C798.5,804.72 799.12,804.08 799.7,802.3 C800.28,800.52 800.97,796.82 801.4,795.2 C801.83,793.58 801.85,792.3 802.3,792.6 C802.75,792.9 803.58,793.27 804.1,797 C804.62,800.73 805.03,808.6 805.4,815 C805.77,821.4 805.92,827.73 806.3,835.4 C806.68,843.07 807.25,851 807.7,861 C808.15,871 808.57,883.07 809,895.4 C809.43,907.73 809.78,924.93 810.3,935 C810.82,945.07 811.35,950.65 812.1,955.8 C812.85,960.95 814.05,962.43 814.8,965.9 C815.55,969.37 816.02,972.75 816.6,976.6 C817.18,980.45 817.72,985.75 818.3,989 C818.88,992.25 819.5,994.32 820.1,996.1 C820.7,997.88 820.72,998.95 821.9,999.7 C823.08,1000.45 797.57,1000.45 827.2,1000.6 C856.83,1000.75 970.95,1000.6 999.7,1000.6 L999.7,1000.6 Z" fill="#c4b3f7" fill-opacity="0.59"/>
<path d="M792.6,911.7 C792.73,904.73 793.08,881.85 793.4,869.9 C793.72,857.95 794.2,847.42 794.5,840 C794.8,832.58 794.93,830.5 795.2,825.4 C795.47,820.3 795.65,812.65 796.1,809.4 C796.55,806.15 797.3,807.08 797.9,805.9 C798.5,804.72 799.12,804.08 799.7,802.3 C800.28,800.52 800.97,796.82 801.4,795.2 C801.83,793.58 801.85,792.3 802.3,792.6 C802.75,792.9 803.58,793.27 804.1,797 C804.62,800.73 805.03,808.6 805.4,815 C805.77,821.4 805.92,827.73 806.3,835.4 C806.68,843.07 807.25,851 807.7,861 C808.15,871 808.57,883.07 809,895.4 C809.43,907.73 809.78,924.93 810.3,935 C810.82,945.07 811.35,950.65 812.1,955.8 C812.85,960.95 814.05,962.43 814.8,965.9 C815.55,969.37 816.02,972.75 816.6,976.6 C817.18,980.45 817.72,985.75 818.3,989 C818.88,992.25 819.5,994.32 820.1,996.1 C820.7,997.88 820.72,998.95 821.9,999.7 C823.08,1000.45 797.57,1000.45 827.2,1000.6 C856.83,1000.75 970.95,1000.6 999.7,1000.6" fill="none" stroke="#000" stroke-width="3.4" stroke-linejoin="round"/>
<path d="M792.6,1000.6 L792.6,1000.6 C794.22,1000.15 799.2,999.23 802.3,997.9 C805.4,996.57 808.23,994.97 811.2,992.6 C814.17,990.23 816.83,986.97 820.1,983.7 C823.37,980.43 828.15,975.45 830.8,973 C833.45,970.55 834.23,969.95 836,969 C837.77,968.05 838.72,967.67 841.4,967.3 C844.08,966.93 848.83,966.88 852.1,966.8 C855.37,966.72 858.03,967.25 861,966.8 C863.97,966.35 866.93,964.82 869.9,964.1 C872.87,963.38 876.13,962.35 878.8,962.5 C881.47,962.65 883.23,963.55 885.9,965 C888.57,966.45 891.55,968.98 894.8,971.2 C898.05,973.42 901.85,976.37 905.4,978.3 C908.95,980.23 912.53,981.32 916.1,982.8 C919.67,984.28 923.25,985.57 926.8,987.2 C930.35,988.83 933.55,990.97 937.4,992.6 C941.25,994.23 945.75,995.82 949.9,997 C954.05,998.18 958.12,999.12 962.3,999.7 C966.48,1000.28 968.77,1000.35 975,1000.5 C981.23,1000.65 995.58,1000.58 999.7,1000.6 L999.7,1000.6 Z" fill="#fea13c" fill-opacity="0.59"/>
<path d="M792.6,1000.6 C794.22,1000.15 799.2,999.23 802.3,997.9 C805.4,996.57 808.23,994.97 811.2,992.6 C814.17,990.23 816.83,986.97 820.1,983.7 C823.37,980.43 828.15,975.45 830.8,973 C833.45,970.55 834.23,969.95 836,969 C837.77,968.05 838.72,967.67 841.4,967.3 C844.08,966.93 848.83,966.88 852.1,966.8 C855.37,966.72 858.03,967.25 861,966.8 C863.97,966.35 866.93,964.82 869.9,964.1 C872.87,963.38 876.13,962.35 878.8,962.5 C881.47,962.65 883.23,963.55 885.9,965 C888.57,966.45 891.55,968.98 894.8,971.2 C898.05,973.42 901.85,976.37 905.4,978.3 C908.95,980.23 912.53,981.32 916.1,982.8 C919.67,984.28 923.25,985.57 926.8,987.2 C930.35,988.83 933.55,990.97 937.4,992.6 C941.25,994.23 945.75,995.82 949.9,997 C954.05,998.18 958.12,999.12 962.3,999.7 C966.48,1000.28 968.77,1000.35 975,1000.5 C981.23,1000.65 995.58,1000.58 999.7,1000.6" fill="none" stroke="#000" stroke-width="3.4" stroke-linejoin="round"/>
<path d="M792.6,1000.6 L792.6,1000.6 C796.67,1000.57 810.63,1000.7 817,1000.4 C823.37,1000.1 826.43,999.67 830.8,998.8 C835.17,997.93 839.05,996.83 843.2,995.2 C847.35,993.57 851.85,990.77 855.7,989 C859.55,987.23 863.05,985.48 866.3,984.6 C869.55,983.72 872.23,983.57 875.2,983.7 C878.17,983.83 880.83,984.52 884.1,985.4 C887.37,986.28 891.25,987.95 894.8,989 C898.35,990.05 902.15,991.4 905.4,991.7 C908.65,992 911.33,991.55 914.3,990.8 C917.27,990.05 919.93,988.98 923.2,987.2 C926.47,985.42 930.33,982.47 933.9,980.1 C937.47,977.73 941.05,975.37 944.6,973 C948.15,970.63 952.38,967.53 955.2,965.9 C958.02,964.27 959.42,963.8 961.5,963.2 C963.58,962.6 965.78,962.33 967.7,962.3 C969.62,962.27 971.23,962.55 973,963 C974.77,963.45 975.63,963.48 978.3,965 C980.97,966.52 985.43,969.28 989,972.1 C992.57,974.92 997.92,980.27 999.7,981.9 L999.7,1000.6 Z" fill="#ec36f6" fill-opacity="0.59"/>
<path d="M792.6,1000.6 C796.67,1000.57 810.63,1000.7 817,1000.4 C823.37,1000.1 826.43,999.67 830.8,998.8 C835.17,997.93 839.05,996.83 843.2,995.2 C847.35,993.57 851.85,990.77 855.7,989 C859.55,987.23 863.05,985.48 866.3,984.6 C869.55,983.72 872.23,983.57 875.2,983.7 C878.17,983.83 880.83,984.52 884.1,985.4 C887.37,986.28 891.25,987.95 894.8,989 C898.35,990.05 902.15,991.4 905.4,991.7 C908.65,992 911.33,991.55 914.3,990.8 C917.27,990.05 919.93,988.98 923.2,987.2 C926.47,985.42 930.33,982.47 933.9,980.1 C937.47,977.73 941.05,975.37 944.6,973 C948.15,970.63 952.38,967.53 955.2,965.9 C958.02,964.27 959.42,963.8 961.5,963.2 C963.58,962.6 965.78,962.33 967.7,962.3 C969.62,962.27 971.23,962.55 973,963 C974.77,963.45 975.63,963.48 978.3,965 C980.97,966.52 985.43,969.28 989,972.1 C992.57,974.92 997.92,980.27 999.7,981.9" fill="none" stroke="#000" stroke-width="3.4" stroke-linejoin="round"/>
<line x1="339.7" y1="57.7" x2="339.7" y2="284.2" stroke="#e6e6e6" stroke-width="1.4"/>
<line x1="395.7" y1="57.7" x2="395.7" y2="284.2" stroke="#e6e6e6" stroke-width="1.4"/>
<line x1="451.7" y1="57.7" x2="451.7" y2="284.2" stroke="#e6e6e6" stroke-width="1.4"/>
<line x1="507.7" y1="57.7" x2="507.7" y2="284.2" stroke="#e6e6e6" stroke-width="1.4"/>
<line x1="299.5" y1="71.9" x2="525.1" y2="71.9" stroke="#e6e6e6" stroke-width="1.4"/>
<line x1="299.5" y1="116.3" x2="525.1" y2="116.3" stroke="#e6e6e6" stroke-width="1.4"/>
<line x1="299.5" y1="160.8" x2="525.1" y2="160.8" stroke="#e6e6e6" stroke-width="1.4"/>
<line x1="299.5" y1="204.3" x2="525.1" y2="204.3" stroke="#e6e6e6" stroke-width="1.4"/>
<line x1="299.5" y1="248.8" x2="525.1" y2="248.8" stroke="#e6e6e6" stroke-width="1.4"/>
<line x1="312.1" y1="57.7" x2="312.1" y2="284.2" stroke="#e6e6e6" stroke-width="2.6"/>
<line x1="368.1" y1="57.7" x2="368.1" y2="284.2" stroke="#e6e6e6" stroke-width="2.6"/>
<line x1="424.1" y1="57.7" x2="424.1" y2="284.2" stroke="#e6e6e6" stroke-width="2.6"/>
<line x1="479.2" y1="57.7" x2="479.2" y2="284.2" stroke="#e6e6e6" stroke-width="2.6"/>
<line x1="299.5" y1="94.1" x2="525.1" y2="94.1" stroke="#e6e6e6" stroke-width="2.6"/>
<line x1="299.5" y1="138.6" x2="525.1" y2="138.6" stroke="#e6e6e6" stroke-width="2.6"/>
<line x1="299.5" y1="182.1" x2="525.1" y2="182.1" stroke="#e6e6e6" stroke-width="2.6"/>
<line x1="299.5" y1="226.6" x2="525.1" y2="226.6" stroke="#e6e6e6" stroke-width="2.6"/>
<line x1="299.5" y1="271" x2="525.1" y2="271" stroke="#e6e6e6" stroke-width="2.6"/>
<text x="318.4" y="95.8" class="cr" fill="#5a5a5a" stroke="#5a5a5a">Corr: 0.787***</text>
<text x="331.9" y="143.5" class="cr" fill="#b4a2f5" stroke="#b4a2f5">V4: 0.830***</text>
<text x="331.9" y="191.8" class="cr" fill="#ff9c0a" stroke="#ff9c0a">V6: 0.851***</text>
<text x="331.9" y="239.8" class="cr" fill="#ec2af6" stroke="#ec2af6">VT: 0.960***</text>
<line x1="547.9" y1="57.7" x2="547.9" y2="284.2" stroke="#e6e6e6" stroke-width="1.4"/>
<line x1="594.1" y1="57.7" x2="594.1" y2="284.2" stroke="#e6e6e6" stroke-width="1.4"/>
<line x1="640.3" y1="57.7" x2="640.3" y2="284.2" stroke="#e6e6e6" stroke-width="1.4"/>
<line x1="686.6" y1="57.7" x2="686.6" y2="284.2" stroke="#e6e6e6" stroke-width="1.4"/>
<line x1="732.8" y1="57.7" x2="732.8" y2="284.2" stroke="#e6e6e6" stroke-width="1.4"/>
<line x1="541.2" y1="71.9" x2="766.8" y2="71.9" stroke="#e6e6e6" stroke-width="1.4"/>
<line x1="541.2" y1="116.3" x2="766.8" y2="116.3" stroke="#e6e6e6" stroke-width="1.4"/>
<line x1="541.2" y1="160.8" x2="766.8" y2="160.8" stroke="#e6e6e6" stroke-width="1.4"/>
<line x1="541.2" y1="204.3" x2="766.8" y2="204.3" stroke="#e6e6e6" stroke-width="1.4"/>
<line x1="541.2" y1="248.8" x2="766.8" y2="248.8" stroke="#e6e6e6" stroke-width="1.4"/>
<line x1="571" y1="57.7" x2="571" y2="284.2" stroke="#e6e6e6" stroke-width="2.6"/>
<line x1="617.2" y1="57.7" x2="617.2" y2="284.2" stroke="#e6e6e6" stroke-width="2.6"/>
<line x1="663.4" y1="57.7" x2="663.4" y2="284.2" stroke="#e6e6e6" stroke-width="2.6"/>
<line x1="709.7" y1="57.7" x2="709.7" y2="284.2" stroke="#e6e6e6" stroke-width="2.6"/>
<line x1="755.9" y1="57.7" x2="755.9" y2="284.2" stroke="#e6e6e6" stroke-width="2.6"/>
<line x1="541.2" y1="94.1" x2="766.8" y2="94.1" stroke="#e6e6e6" stroke-width="2.6"/>
<line x1="541.2" y1="138.6" x2="766.8" y2="138.6" stroke="#e6e6e6" stroke-width="2.6"/>
<line x1="541.2" y1="182.1" x2="766.8" y2="182.1" stroke="#e6e6e6" stroke-width="2.6"/>
<line x1="541.2" y1="226.6" x2="766.8" y2="226.6" stroke="#e6e6e6" stroke-width="2.6"/>
<line x1="541.2" y1="271" x2="766.8" y2="271" stroke="#e6e6e6" stroke-width="2.6"/>
<text x="560.1" y="95.8" class="cr" fill="#5a5a5a" stroke="#5a5a5a">Corr: 0.688***</text>
<text x="573.6" y="143.5" class="cr" fill="#b4a2f5" stroke="#b4a2f5">V4: -0.348.</text>
<text x="573.6" y="191.8" class="cr" fill="#ff9c0a" stroke="#ff9c0a">V6: 0.900***</text>
<text x="573.6" y="239.8" class="cr" fill="#ec2af6" stroke="#ec2af6">VT: 0.918***</text>
<line x1="820.1" y1="57.7" x2="820.1" y2="284.2" stroke="#e6e6e6" stroke-width="1.4"/>
<line x1="877.9" y1="57.7" x2="877.9" y2="284.2" stroke="#e6e6e6" stroke-width="1.4"/>
<line x1="935.7" y1="57.7" x2="935.7" y2="284.2" stroke="#e6e6e6" stroke-width="1.4"/>
<line x1="992.6" y1="57.7" x2="992.6" y2="284.2" stroke="#e6e6e6" stroke-width="1.4"/>
<line x1="783" y1="71.9" x2="1008.6" y2="71.9" stroke="#e6e6e6" stroke-width="1.4"/>
<line x1="783" y1="116.3" x2="1008.6" y2="116.3" stroke="#e6e6e6" stroke-width="1.4"/>
<line x1="783" y1="160.8" x2="1008.6" y2="160.8" stroke="#e6e6e6" stroke-width="1.4"/>
<line x1="783" y1="204.3" x2="1008.6" y2="204.3" stroke="#e6e6e6" stroke-width="1.4"/>
<line x1="783" y1="248.8" x2="1008.6" y2="248.8" stroke="#e6e6e6" stroke-width="1.4"/>
<line x1="791.7" y1="57.7" x2="791.7" y2="284.2" stroke="#e6e6e6" stroke-width="2.6"/>
<line x1="848.6" y1="57.7" x2="848.6" y2="284.2" stroke="#e6e6e6" stroke-width="2.6"/>
<line x1="907.2" y1="57.7" x2="907.2" y2="284.2" stroke="#e6e6e6" stroke-width="2.6"/>
<line x1="964.1" y1="57.7" x2="964.1" y2="284.2" stroke="#e6e6e6" stroke-width="2.6"/>
<line x1="783" y1="94.1" x2="1008.6" y2="94.1" stroke="#e6e6e6" stroke-width="2.6"/>
<line x1="783" y1="138.6" x2="1008.6" y2="138.6" stroke="#e6e6e6" stroke-width="2.6"/>
<line x1="783" y1="182.1" x2="1008.6" y2="182.1" stroke="#e6e6e6" stroke-width="2.6"/>
<line x1="783" y1="226.6" x2="1008.6" y2="226.6" stroke="#e6e6e6" stroke-width="2.6"/>
<line x1="783" y1="271" x2="1008.6" y2="271" stroke="#e6e6e6" stroke-width="2.6"/>
<text x="822.15" y="95.8" class="cr" fill="#5a5a5a" stroke="#5a5a5a">Corr: 0.158</text>
<text x="815.4" y="143.5" class="cr" fill="#b4a2f5" stroke="#b4a2f5">V4: 0.476**</text>
<text x="815.4" y="191.8" class="cr" fill="#ff9c0a" stroke="#ff9c0a">V6: 0.738***</text>
<text x="815.4" y="239.8" class="cr" fill="#ec2af6" stroke="#ec2af6">VT: 0.944***</text>
<line x1="547.9" y1="300.4" x2="547.9" y2="526.1" stroke="#e6e6e6" stroke-width="1.4"/>
<line x1="594.1" y1="300.4" x2="594.1" y2="526.1" stroke="#e6e6e6" stroke-width="1.4"/>
<line x1="640.3" y1="300.4" x2="640.3" y2="526.1" stroke="#e6e6e6" stroke-width="1.4"/>
<line x1="686.6" y1="300.4" x2="686.6" y2="526.1" stroke="#e6e6e6" stroke-width="1.4"/>
<line x1="732.8" y1="300.4" x2="732.8" y2="526.1" stroke="#e6e6e6" stroke-width="1.4"/>
<line x1="541.2" y1="318.3" x2="766.8" y2="318.3" stroke="#e6e6e6" stroke-width="1.4"/>
<line x1="541.2" y1="373.4" x2="766.8" y2="373.4" stroke="#e6e6e6" stroke-width="1.4"/>
<line x1="541.2" y1="429.4" x2="766.8" y2="429.4" stroke="#e6e6e6" stroke-width="1.4"/>
<line x1="541.2" y1="485.4" x2="766.8" y2="485.4" stroke="#e6e6e6" stroke-width="1.4"/>
<line x1="571" y1="300.4" x2="571" y2="526.1" stroke="#e6e6e6" stroke-width="2.6"/>
<line x1="617.2" y1="300.4" x2="617.2" y2="526.1" stroke="#e6e6e6" stroke-width="2.6"/>
<line x1="663.4" y1="300.4" x2="663.4" y2="526.1" stroke="#e6e6e6" stroke-width="2.6"/>
<line x1="709.7" y1="300.4" x2="709.7" y2="526.1" stroke="#e6e6e6" stroke-width="2.6"/>
<line x1="755.9" y1="300.4" x2="755.9" y2="526.1" stroke="#e6e6e6" stroke-width="2.6"/>
<line x1="541.2" y1="345" x2="766.8" y2="345" stroke="#e6e6e6" stroke-width="2.6"/>
<line x1="541.2" y1="401.9" x2="766.8" y2="401.9" stroke="#e6e6e6" stroke-width="2.6"/>
<line x1="541.2" y1="457.9" x2="766.8" y2="457.9" stroke="#e6e6e6" stroke-width="2.6"/>
<line x1="541.2" y1="513" x2="766.8" y2="513" stroke="#e6e6e6" stroke-width="2.6"/>
<text x="560.1" y="338.5" class="cr" fill="#5a5a5a" stroke="#5a5a5a">Corr: 0.583***</text>
<text x="573.6" y="386.2" class="cr" fill="#b4a2f5" stroke="#b4a2f5">V4: -0.435*</text>
<text x="573.6" y="434.5" class="cr" fill="#ff9c0a" stroke="#ff9c0a">V6: 0.720***</text>
<text x="573.6" y="482.5" class="cr" fill="#ec2af6" stroke="#ec2af6">VT: 0.927***</text>
<line x1="820.1" y1="300.4" x2="820.1" y2="526.1" stroke="#e6e6e6" stroke-width="1.4"/>
<line x1="877.9" y1="300.4" x2="877.9" y2="526.1" stroke="#e6e6e6" stroke-width="1.4"/>
<line x1="935.7" y1="300.4" x2="935.7" y2="526.1" stroke="#e6e6e6" stroke-width="1.4"/>
<line x1="992.6" y1="300.4" x2="992.6" y2="526.1" stroke="#e6e6e6" stroke-width="1.4"/>
<line x1="783" y1="318.3" x2="1008.6" y2="318.3" stroke="#e6e6e6" stroke-width="1.4"/>
<line x1="783" y1="373.4" x2="1008.6" y2="373.4" stroke="#e6e6e6" stroke-width="1.4"/>
<line x1="783" y1="429.4" x2="1008.6" y2="429.4" stroke="#e6e6e6" stroke-width="1.4"/>
<line x1="783" y1="485.4" x2="1008.6" y2="485.4" stroke="#e6e6e6" stroke-width="1.4"/>
<line x1="791.7" y1="300.4" x2="791.7" y2="526.1" stroke="#e6e6e6" stroke-width="2.6"/>
<line x1="848.6" y1="300.4" x2="848.6" y2="526.1" stroke="#e6e6e6" stroke-width="2.6"/>
<line x1="907.2" y1="300.4" x2="907.2" y2="526.1" stroke="#e6e6e6" stroke-width="2.6"/>
<line x1="964.1" y1="300.4" x2="964.1" y2="526.1" stroke="#e6e6e6" stroke-width="2.6"/>
<line x1="783" y1="345" x2="1008.6" y2="345" stroke="#e6e6e6" stroke-width="2.6"/>
<line x1="783" y1="401.9" x2="1008.6" y2="401.9" stroke="#e6e6e6" stroke-width="2.6"/>
<line x1="783" y1="457.9" x2="1008.6" y2="457.9" stroke="#e6e6e6" stroke-width="2.6"/>
<line x1="783" y1="513" x2="1008.6" y2="513" stroke="#e6e6e6" stroke-width="2.6"/>
<text x="801.9" y="338.5" class="cr" fill="#5a5a5a" stroke="#5a5a5a">Corr: 0.354***</text>
<text x="815.4" y="386.2" class="cr" fill="#b4a2f5" stroke="#b4a2f5">V4: 0.670***</text>
<text x="815.4" y="434.5" class="cr" fill="#ff9c0a" stroke="#ff9c0a">V6: 0.788***</text>
<text x="815.4" y="482.5" class="cr" fill="#ec2af6" stroke="#ec2af6">VT: 0.970***</text>
<line x1="820.1" y1="542.1" x2="820.1" y2="767.9" stroke="#e6e6e6" stroke-width="1.4"/>
<line x1="877.9" y1="542.1" x2="877.9" y2="767.9" stroke="#e6e6e6" stroke-width="1.4"/>
<line x1="935.7" y1="542.1" x2="935.7" y2="767.9" stroke="#e6e6e6" stroke-width="1.4"/>
<line x1="992.6" y1="542.1" x2="992.6" y2="767.9" stroke="#e6e6e6" stroke-width="1.4"/>
<line x1="783" y1="576.3" x2="1008.6" y2="576.3" stroke="#e6e6e6" stroke-width="1.4"/>
<line x1="783" y1="622.6" x2="1008.6" y2="622.6" stroke="#e6e6e6" stroke-width="1.4"/>
<line x1="783" y1="668.8" x2="1008.6" y2="668.8" stroke="#e6e6e6" stroke-width="1.4"/>
<line x1="783" y1="715" x2="1008.6" y2="715" stroke="#e6e6e6" stroke-width="1.4"/>
<line x1="783" y1="761.2" x2="1008.6" y2="761.2" stroke="#e6e6e6" stroke-width="1.4"/>
<line x1="791.7" y1="542.1" x2="791.7" y2="767.9" stroke="#e6e6e6" stroke-width="2.6"/>
<line x1="848.6" y1="542.1" x2="848.6" y2="767.9" stroke="#e6e6e6" stroke-width="2.6"/>
<line x1="907.2" y1="542.1" x2="907.2" y2="767.9" stroke="#e6e6e6" stroke-width="2.6"/>
<line x1="964.1" y1="542.1" x2="964.1" y2="767.9" stroke="#e6e6e6" stroke-width="2.6"/>
<line x1="783" y1="553.2" x2="1008.6" y2="553.2" stroke="#e6e6e6" stroke-width="2.6"/>
<line x1="783" y1="600.3" x2="1008.6" y2="600.3" stroke="#e6e6e6" stroke-width="2.6"/>
<line x1="783" y1="645.7" x2="1008.6" y2="645.7" stroke="#e6e6e6" stroke-width="2.6"/>
<line x1="783" y1="691.9" x2="1008.6" y2="691.9" stroke="#e6e6e6" stroke-width="2.6"/>
<line x1="783" y1="738.1" x2="1008.6" y2="738.1" stroke="#e6e6e6" stroke-width="2.6"/>
<text x="801.9" y="580.2" class="cr" fill="#5a5a5a" stroke="#5a5a5a">Corr: 0.359***</text>
<text x="815.4" y="627.9" class="cr" fill="#b4a2f5" stroke="#b4a2f5">V4: -0.488**</text>
<text x="815.4" y="676.2" class="cr" fill="#ff9c0a" stroke="#ff9c0a">V6: 0.592***</text>
<text x="815.4" y="724.2" class="cr" fill="#ec2af6" stroke="#ec2af6">VT: 0.965***</text>
<line x1="92.3" y1="300.4" x2="92.3" y2="526.1" stroke="#e6e6e6" stroke-width="1.4"/>
<line x1="137.1" y1="300.4" x2="137.1" y2="526.1" stroke="#e6e6e6" stroke-width="1.4"/>
<line x1="182.1" y1="300.4" x2="182.1" y2="526.1" stroke="#e6e6e6" stroke-width="1.4"/>
<line x1="226.9" y1="300.4" x2="226.9" y2="526.1" stroke="#e6e6e6" stroke-width="1.4"/>
<line x1="272.2" y1="300.4" x2="272.2" y2="526.1" stroke="#e6e6e6" stroke-width="1.4"/>
<line x1="57.8" y1="321.9" x2="283.4" y2="321.9" stroke="#e6e6e6" stroke-width="1.4"/>
<line x1="57.8" y1="367.2" x2="283.4" y2="367.2" stroke="#e6e6e6" stroke-width="1.4"/>
<line x1="57.8" y1="412.6" x2="283.4" y2="412.6" stroke="#e6e6e6" stroke-width="1.4"/>
<line x1="57.8" y1="457.9" x2="283.4" y2="457.9" stroke="#e6e6e6" stroke-width="1.4"/>
<line x1="57.8" y1="503.2" x2="283.4" y2="503.2" stroke="#e6e6e6" stroke-width="1.4"/>
<line x1="70.1" y1="300.4" x2="70.1" y2="526.1" stroke="#e6e6e6" stroke-width="2.6"/>
<line x1="114.9" y1="300.4" x2="114.9" y2="526.1" stroke="#e6e6e6" stroke-width="2.6"/>
<line x1="159.9" y1="300.4" x2="159.9" y2="526.1" stroke="#e6e6e6" stroke-width="2.6"/>
<line x1="204.3" y1="300.4" x2="204.3" y2="526.1" stroke="#e6e6e6" stroke-width="2.6"/>
<line x1="249.7" y1="300.4" x2="249.7" y2="526.1" stroke="#e6e6e6" stroke-width="2.6"/>
<line x1="57.8" y1="344.6" x2="283.4" y2="344.6" stroke="#e6e6e6" stroke-width="2.6"/>
<line x1="57.8" y1="389.8" x2="283.4" y2="389.8" stroke="#e6e6e6" stroke-width="2.6"/>
<line x1="57.8" y1="434.8" x2="283.4" y2="434.8" stroke="#e6e6e6" stroke-width="2.6"/>
<line x1="57.8" y1="481" x2="283.4" y2="481" stroke="#e6e6e6" stroke-width="2.6"/>
<circle cx="226.3" cy="309.9" r="5.2" fill="#c4b3f7" fill-opacity="0.59" stroke="#c4b3f7" stroke-opacity="0.59" stroke-width="1.8"/>
<circle cx="245.1" cy="309.9" r="5.2" fill="#c4b3f7" fill-opacity="0.59" stroke="#c4b3f7" stroke-opacity="0.59" stroke-width="1.8"/>
<circle cx="127.9" cy="516" r="5.2" fill="#c4b3f7" fill-opacity="0.59" stroke="#c4b3f7" stroke-opacity="0.59" stroke-width="1.8"/>
<circle cx="161.4" cy="330.1" r="5.2" fill="#c4b3f7" fill-opacity="0.59" stroke="#c4b3f7" stroke-opacity="0.59" stroke-width="1.8"/>
<circle cx="223.7" cy="329" r="5.2" fill="#c4b3f7" fill-opacity="0.59" stroke="#c4b3f7" stroke-opacity="0.59" stroke-width="1.8"/>
<circle cx="238.3" cy="330.1" r="5.2" fill="#c4b3f7" fill-opacity="0.59" stroke="#c4b3f7" stroke-opacity="0.59" stroke-width="1.8"/>
<circle cx="184.4" cy="341" r="5.2" fill="#c4b3f7" fill-opacity="0.59" stroke="#c4b3f7" stroke-opacity="0.59" stroke-width="1.8"/>
<circle cx="191.7" cy="337.1" r="5.2" fill="#c4b3f7" fill-opacity="0.59" stroke="#c4b3f7" stroke-opacity="0.59" stroke-width="1.8"/>
<circle cx="242.8" cy="345" r="5.2" fill="#c4b3f7" fill-opacity="0.59" stroke="#c4b3f7" stroke-opacity="0.59" stroke-width="1.8"/>
<circle cx="191.1" cy="351.1" r="5.2" fill="#c4b3f7" fill-opacity="0.59" stroke="#c4b3f7" stroke-opacity="0.59" stroke-width="1.8"/>
<circle cx="210.2" cy="357.3" r="5.2" fill="#c4b3f7" fill-opacity="0.59" stroke="#c4b3f7" stroke-opacity="0.59" stroke-width="1.8"/>
<circle cx="229.9" cy="355.1" r="5.2" fill="#c4b3f7" fill-opacity="0.59" stroke="#c4b3f7" stroke-opacity="0.59" stroke-width="1.8"/>
<circle cx="259.7" cy="380.4" r="5.2" fill="#c4b3f7" fill-opacity="0.59" stroke="#c4b3f7" stroke-opacity="0.59" stroke-width="1.8"/>
<circle cx="169.2" cy="396.9" r="5.2" fill="#c4b3f7" fill-opacity="0.59" stroke="#c4b3f7" stroke-opacity="0.59" stroke-width="1.8"/>
<circle cx="191.1" cy="396.9" r="5.2" fill="#c4b3f7" fill-opacity="0.59" stroke="#c4b3f7" stroke-opacity="0.59" stroke-width="1.8"/>
<circle cx="159.1" cy="414.9" r="5.2" fill="#c4b3f7" fill-opacity="0.59" stroke="#c4b3f7" stroke-opacity="0.59" stroke-width="1.8"/>
<circle cx="189.4" cy="429" r="5.2" fill="#c4b3f7" fill-opacity="0.59" stroke="#c4b3f7" stroke-opacity="0.59" stroke-width="1.8"/>
<circle cx="195.1" cy="429" r="5.2" fill="#c4b3f7" fill-opacity="0.59" stroke="#c4b3f7" stroke-opacity="0.59" stroke-width="1.8"/>
<circle cx="120.8" cy="488.1" r="5.2" fill="#c4b3f7" fill-opacity="0.59" stroke="#c4b3f7" stroke-opacity="0.59" stroke-width="1.8"/>
<circle cx="134.1" cy="488.1" r="5.2" fill="#c4b3f7" fill-opacity="0.59" stroke="#c4b3f7" stroke-opacity="0.59" stroke-width="1.8"/>
<circle cx="118.1" cy="499.7" r="5.2" fill="#c4b3f7" fill-opacity="0.59" stroke="#c4b3f7" stroke-opacity="0.59" stroke-width="1.8"/>
<circle cx="138.6" cy="499.7" r="5.2" fill="#c4b3f7" fill-opacity="0.59" stroke="#c4b3f7" stroke-opacity="0.59" stroke-width="1.8"/>
<circle cx="114.6" cy="514.8" r="5.2" fill="#c4b3f7" fill-opacity="0.59" stroke="#c4b3f7" stroke-opacity="0.59" stroke-width="1.8"/>
<circle cx="127.9" cy="516" r="5.2" fill="#c4b3f7" fill-opacity="0.59" stroke="#c4b3f7" stroke-opacity="0.59" stroke-width="1.8"/>
<circle cx="143.9" cy="514.8" r="5.2" fill="#c4b3f7" fill-opacity="0.59" stroke="#c4b3f7" stroke-opacity="0.59" stroke-width="1.8"/>
<circle cx="249" cy="309.9" r="5.2" fill="#fea13c" fill-opacity="0.59" stroke="#fea13c" stroke-opacity="0.59" stroke-width="1.8"/>
<circle cx="256.9" cy="309.9" r="5.2" fill="#fea13c" fill-opacity="0.59" stroke="#fea13c" stroke-opacity="0.59" stroke-width="1.8"/>
<circle cx="151.9" cy="515.3" r="5.2" fill="#fea13c" fill-opacity="0.59" stroke="#fea13c" stroke-opacity="0.59" stroke-width="1.8"/>
<circle cx="258" cy="329.8" r="5.2" fill="#fea13c" fill-opacity="0.59" stroke="#fea13c" stroke-opacity="0.59" stroke-width="1.8"/>
<circle cx="262.5" cy="329.4" r="5.2" fill="#fea13c" fill-opacity="0.59" stroke="#fea13c" stroke-opacity="0.59" stroke-width="1.8"/>
<circle cx="267" cy="329" r="5.2" fill="#fea13c" fill-opacity="0.59" stroke="#fea13c" stroke-opacity="0.59" stroke-width="1.8"/>
<circle cx="273.7" cy="329" r="5.2" fill="#fea13c" fill-opacity="0.59" stroke="#fea13c" stroke-opacity="0.59" stroke-width="1.8"/>
<circle cx="234.4" cy="337.1" r="5.2" fill="#fea13c" fill-opacity="0.59" stroke="#fea13c" stroke-opacity="0.59" stroke-width="1.8"/>
<circle cx="264.7" cy="337.1" r="5.2" fill="#fea13c" fill-opacity="0.59" stroke="#fea13c" stroke-opacity="0.59" stroke-width="1.8"/>
<circle cx="269.2" cy="341.4" r="5.2" fill="#fea13c" fill-opacity="0.59" stroke="#fea13c" stroke-opacity="0.59" stroke-width="1.8"/>
<circle cx="264.2" cy="345" r="5.2" fill="#fea13c" fill-opacity="0.59" stroke="#fea13c" stroke-opacity="0.59" stroke-width="1.8"/>
<circle cx="251.8" cy="345" r="5.2" fill="#fea13c" fill-opacity="0.59" stroke="#fea13c" stroke-opacity="0.59" stroke-width="1.8"/>
<circle cx="184.4" cy="355.6" r="5.2" fill="#fea13c" fill-opacity="0.59" stroke="#fea13c" stroke-opacity="0.59" stroke-width="1.8"/>
<circle cx="191.7" cy="355.1" r="5.2" fill="#fea13c" fill-opacity="0.59" stroke="#fea13c" stroke-opacity="0.59" stroke-width="1.8"/>
<circle cx="223.2" cy="353.9" r="5.2" fill="#fea13c" fill-opacity="0.59" stroke="#fea13c" stroke-opacity="0.59" stroke-width="1.8"/>
<circle cx="233.8" cy="353.9" r="5.2" fill="#fea13c" fill-opacity="0.59" stroke="#fea13c" stroke-opacity="0.59" stroke-width="1.8"/>
<circle cx="268.1" cy="380.4" r="5.2" fill="#fea13c" fill-opacity="0.59" stroke="#fea13c" stroke-opacity="0.59" stroke-width="1.8"/>
<circle cx="273.7" cy="380.4" r="5.2" fill="#fea13c" fill-opacity="0.59" stroke="#fea13c" stroke-opacity="0.59" stroke-width="1.8"/>
<circle cx="230.5" cy="396.9" r="5.2" fill="#fea13c" fill-opacity="0.59" stroke="#fea13c" stroke-opacity="0.59" stroke-width="1.8"/>
<circle cx="240.6" cy="396.9" r="5.2" fill="#fea13c" fill-opacity="0.59" stroke="#fea13c" stroke-opacity="0.59" stroke-width="1.8"/>
<circle cx="228.8" cy="414.9" r="5.2" fill="#fea13c" fill-opacity="0.59" stroke="#fea13c" stroke-opacity="0.59" stroke-width="1.8"/>
<circle cx="229.8" cy="414.9" r="5.2" fill="#fea13c" fill-opacity="0.59" stroke="#fea13c" stroke-opacity="0.59" stroke-width="1.8"/>
<circle cx="233.8" cy="429" r="5.2" fill="#fea13c" fill-opacity="0.59" stroke="#fea13c" stroke-opacity="0.59" stroke-width="1.8"/>
<circle cx="237.2" cy="429" r="5.2" fill="#fea13c" fill-opacity="0.59" stroke="#fea13c" stroke-opacity="0.59" stroke-width="1.8"/>
<circle cx="155.4" cy="488.1" r="5.2" fill="#fea13c" fill-opacity="0.59" stroke="#fea13c" stroke-opacity="0.59" stroke-width="1.8"/>
<circle cx="171.4" cy="488.1" r="5.2" fill="#fea13c" fill-opacity="0.59" stroke="#fea13c" stroke-opacity="0.59" stroke-width="1.8"/>
<circle cx="118.1" cy="499.7" r="5.2" fill="#fea13c" fill-opacity="0.59" stroke="#fea13c" stroke-opacity="0.59" stroke-width="1.8"/>
<circle cx="143.9" cy="499.7" r="5.2" fill="#fea13c" fill-opacity="0.59" stroke="#fea13c" stroke-opacity="0.59" stroke-width="1.8"/>
<circle cx="143.9" cy="515.3" r="5.2" fill="#fea13c" fill-opacity="0.59" stroke="#fea13c" stroke-opacity="0.59" stroke-width="1.8"/>
<circle cx="151.9" cy="515.3" r="5.2" fill="#fea13c" fill-opacity="0.59" stroke="#fea13c" stroke-opacity="0.59" stroke-width="1.8"/>
<circle cx="178.6" cy="514.8" r="5.2" fill="#fea13c" fill-opacity="0.59" stroke="#fea13c" stroke-opacity="0.59" stroke-width="1.8"/>
<circle cx="266.5" cy="333.5" r="5.2" fill="#fea13c" fill-opacity="0.59" stroke="#fea13c" stroke-opacity="0.59" stroke-width="1.8"/>
<circle cx="262" cy="333" r="5.2" fill="#fea13c" fill-opacity="0.59" stroke="#fea13c" stroke-opacity="0.59" stroke-width="1.8"/>
<circle cx="200.1" cy="309.9" r="5.2" fill="#ec36f6" fill-opacity="0.59" stroke="#ec36f6" stroke-opacity="0.59" stroke-width="1.8"/>
<circle cx="217" cy="309.9" r="5.2" fill="#ec36f6" fill-opacity="0.59" stroke="#ec36f6" stroke-opacity="0.59" stroke-width="1.8"/>
<circle cx="83.4" cy="499.7" r="5.2" fill="#ec36f6" fill-opacity="0.59" stroke="#ec36f6" stroke-opacity="0.59" stroke-width="1.8"/>
<circle cx="192.3" cy="329" r="5.2" fill="#ec36f6" fill-opacity="0.59" stroke="#ec36f6" stroke-opacity="0.59" stroke-width="1.8"/>
<circle cx="204.6" cy="329" r="5.2" fill="#ec36f6" fill-opacity="0.59" stroke="#ec36f6" stroke-opacity="0.59" stroke-width="1.8"/>
<circle cx="209.1" cy="330.1" r="5.2" fill="#ec36f6" fill-opacity="0.59" stroke="#ec36f6" stroke-opacity="0.59" stroke-width="1.8"/>
<circle cx="218.7" cy="337.1" r="5.2" fill="#ec36f6" fill-opacity="0.59" stroke="#ec36f6" stroke-opacity="0.59" stroke-width="1.8"/>
<circle cx="173.2" cy="341.4" r="5.2" fill="#ec36f6" fill-opacity="0.59" stroke="#ec36f6" stroke-opacity="0.59" stroke-width="1.8"/>
<circle cx="202.4" cy="341.6" r="5.2" fill="#ec36f6" fill-opacity="0.59" stroke="#ec36f6" stroke-opacity="0.59" stroke-width="1.8"/>
<circle cx="202.9" cy="345" r="5.2" fill="#ec36f6" fill-opacity="0.59" stroke="#ec36f6" stroke-opacity="0.59" stroke-width="1.8"/>
<circle cx="228.2" cy="345" r="5.2" fill="#ec36f6" fill-opacity="0.59" stroke="#ec36f6" stroke-opacity="0.59" stroke-width="1.8"/>
<circle cx="174.8" cy="355.6" r="5.2" fill="#ec36f6" fill-opacity="0.59" stroke="#ec36f6" stroke-opacity="0.59" stroke-width="1.8"/>
<circle cx="196.8" cy="355.6" r="5.2" fill="#ec36f6" fill-opacity="0.59" stroke="#ec36f6" stroke-opacity="0.59" stroke-width="1.8"/>
<circle cx="210.2" cy="353.9" r="5.2" fill="#ec36f6" fill-opacity="0.59" stroke="#ec36f6" stroke-opacity="0.59" stroke-width="1.8"/>
<circle cx="211.9" cy="353.9" r="5.2" fill="#ec36f6" fill-opacity="0.59" stroke="#ec36f6" stroke-opacity="0.59" stroke-width="1.8"/>
<circle cx="171.5" cy="380.4" r="5.2" fill="#ec36f6" fill-opacity="0.59" stroke="#ec36f6" stroke-opacity="0.59" stroke-width="1.8"/>
<circle cx="177.6" cy="380.4" r="5.2" fill="#ec36f6" fill-opacity="0.59" stroke="#ec36f6" stroke-opacity="0.59" stroke-width="1.8"/>
<circle cx="155.2" cy="396.9" r="5.2" fill="#ec36f6" fill-opacity="0.59" stroke="#ec36f6" stroke-opacity="0.59" stroke-width="1.8"/>
<circle cx="172" cy="396.9" r="5.2" fill="#ec36f6" fill-opacity="0.59" stroke="#ec36f6" stroke-opacity="0.59" stroke-width="1.8"/>
<circle cx="164.2" cy="414.9" r="5.2" fill="#ec36f6" fill-opacity="0.59" stroke="#ec36f6" stroke-opacity="0.59" stroke-width="1.8"/>
<circle cx="180.5" cy="414.9" r="5.2" fill="#ec36f6" fill-opacity="0.59" stroke="#ec36f6" stroke-opacity="0.59" stroke-width="1.8"/>
<circle cx="150.7" cy="429" r="5.2" fill="#ec36f6" fill-opacity="0.59" stroke="#ec36f6" stroke-opacity="0.59" stroke-width="1.8"/>
<circle cx="159.7" cy="429" r="5.2" fill="#ec36f6" fill-opacity="0.59" stroke="#ec36f6" stroke-opacity="0.59" stroke-width="1.8"/>
<circle cx="84.3" cy="488.1" r="5.2" fill="#ec36f6" fill-opacity="0.59" stroke="#ec36f6" stroke-opacity="0.59" stroke-width="1.8"/>
<circle cx="83.4" cy="499.7" r="5.2" fill="#ec36f6" fill-opacity="0.59" stroke="#ec36f6" stroke-opacity="0.59" stroke-width="1.8"/>
<circle cx="67.1" cy="514.8" r="5.2" fill="#ec36f6" fill-opacity="0.59" stroke="#ec36f6" stroke-opacity="0.59" stroke-width="1.8"/>
<circle cx="83.4" cy="514.8" r="5.2" fill="#ec36f6" fill-opacity="0.59" stroke="#ec36f6" stroke-opacity="0.59" stroke-width="1.8"/>
<circle cx="87.9" cy="516" r="5.2" fill="#ec36f6" fill-opacity="0.59" stroke="#ec36f6" stroke-opacity="0.59" stroke-width="1.8"/>
<circle cx="84.3" cy="488.1" r="5.2" fill="#ec36f6" fill-opacity="0.59" stroke="#ec36f6" stroke-opacity="0.59" stroke-width="1.8"/>
<circle cx="205" cy="331" r="5.2" fill="#ec36f6" fill-opacity="0.59" stroke="#ec36f6" stroke-opacity="0.59" stroke-width="1.8"/>
<line x1="92.3" y1="542.1" x2="92.3" y2="767.9" stroke="#e6e6e6" stroke-width="1.4"/>
<line x1="137.1" y1="542.1" x2="137.1" y2="767.9" stroke="#e6e6e6" stroke-width="1.4"/>
<line x1="182.1" y1="542.1" x2="182.1" y2="767.9" stroke="#e6e6e6" stroke-width="1.4"/>
<line x1="226.9" y1="542.1" x2="226.9" y2="767.9" stroke="#e6e6e6" stroke-width="1.4"/>
<line x1="272.2" y1="542.1" x2="272.2" y2="767.9" stroke="#e6e6e6" stroke-width="1.4"/>
<line x1="57.8" y1="575.4" x2="283.4" y2="575.4" stroke="#e6e6e6" stroke-width="1.4"/>
<line x1="57.8" y1="621.7" x2="283.4" y2="621.7" stroke="#e6e6e6" stroke-width="1.4"/>
<line x1="57.8" y1="668.8" x2="283.4" y2="668.8" stroke="#e6e6e6" stroke-width="1.4"/>
<line x1="57.8" y1="715.9" x2="283.4" y2="715.9" stroke="#e6e6e6" stroke-width="1.4"/>
<line x1="57.8" y1="762.6" x2="283.4" y2="762.6" stroke="#e6e6e6" stroke-width="1.4"/>
<line x1="70.1" y1="542.1" x2="70.1" y2="767.9" stroke="#e6e6e6" stroke-width="2.6"/>
<line x1="114.9" y1="542.1" x2="114.9" y2="767.9" stroke="#e6e6e6" stroke-width="2.6"/>
<line x1="159.9" y1="542.1" x2="159.9" y2="767.9" stroke="#e6e6e6" stroke-width="2.6"/>
<line x1="204.3" y1="542.1" x2="204.3" y2="767.9" stroke="#e6e6e6" stroke-width="2.6"/>
<line x1="249.7" y1="542.1" x2="249.7" y2="767.9" stroke="#e6e6e6" stroke-width="2.6"/>
<line x1="57.8" y1="551.4" x2="283.4" y2="551.4" stroke="#e6e6e6" stroke-width="2.6"/>
<line x1="57.8" y1="598.6" x2="283.4" y2="598.6" stroke="#e6e6e6" stroke-width="2.6"/>
<line x1="57.8" y1="645.7" x2="283.4" y2="645.7" stroke="#e6e6e6" stroke-width="2.6"/>
<line x1="57.8" y1="692.2" x2="283.4" y2="692.2" stroke="#e6e6e6" stroke-width="2.6"/>
<line x1="57.8" y1="739.4" x2="283.4" y2="739.4" stroke="#e6e6e6" stroke-width="2.6"/>
<circle cx="120.78" cy="607.44" r="5.2" fill="#c4b3f7" fill-opacity="0.59" stroke="#c4b3f7" stroke-opacity="0.59" stroke-width="1.8"/>
<circle cx="184.78" cy="607.44" r="5.2" fill="#c4b3f7" fill-opacity="0.59" stroke="#c4b3f7" stroke-opacity="0.59" stroke-width="1.8"/>
<circle cx="230.11" cy="607.44" r="5.2" fill="#c4b3f7" fill-opacity="0.59" stroke="#c4b3f7" stroke-opacity="0.59" stroke-width="1.8"/>
<circle cx="134.11" cy="617.22" r="5.2" fill="#c4b3f7" fill-opacity="0.59" stroke="#c4b3f7" stroke-opacity="0.59" stroke-width="1.8"/>
<circle cx="190.11" cy="617.22" r="5.2" fill="#c4b3f7" fill-opacity="0.59" stroke="#c4b3f7" stroke-opacity="0.59" stroke-width="1.8"/>
<circle cx="195.44" cy="617.22" r="5.2" fill="#c4b3f7" fill-opacity="0.59" stroke="#c4b3f7" stroke-opacity="0.59" stroke-width="1.8"/>
<circle cx="114.56" cy="626.47" r="5.2" fill="#c4b3f7" fill-opacity="0.59" stroke="#c4b3f7" stroke-opacity="0.59" stroke-width="1.8"/>
<circle cx="127.89" cy="626.47" r="5.2" fill="#c4b3f7" fill-opacity="0.59" stroke="#c4b3f7" stroke-opacity="0.59" stroke-width="1.8"/>
<circle cx="139.44" cy="626.47" r="5.2" fill="#c4b3f7" fill-opacity="0.59" stroke="#c4b3f7" stroke-opacity="0.59" stroke-width="1.8"/>
<circle cx="143.89" cy="626.47" r="5.2" fill="#c4b3f7" fill-opacity="0.59" stroke="#c4b3f7" stroke-opacity="0.59" stroke-width="1.8"/>
<circle cx="161.67" cy="626.47" r="5.2" fill="#c4b3f7" fill-opacity="0.59" stroke="#c4b3f7" stroke-opacity="0.59" stroke-width="1.8"/>
<circle cx="263.89" cy="626.47" r="5.2" fill="#c4b3f7" fill-opacity="0.59" stroke="#c4b3f7" stroke-opacity="0.59" stroke-width="1.8"/>
<circle cx="119" cy="635.89" r="5.2" fill="#c4b3f7" fill-opacity="0.59" stroke="#c4b3f7" stroke-opacity="0.59" stroke-width="1.8"/>
<circle cx="209.67" cy="635.89" r="5.2" fill="#c4b3f7" fill-opacity="0.59" stroke="#c4b3f7" stroke-opacity="0.59" stroke-width="1.8"/>
<circle cx="223" cy="635.89" r="5.2" fill="#c4b3f7" fill-opacity="0.59" stroke="#c4b3f7" stroke-opacity="0.59" stroke-width="1.8"/>
<circle cx="230.11" cy="635.89" r="5.2" fill="#c4b3f7" fill-opacity="0.59" stroke="#c4b3f7" stroke-opacity="0.59" stroke-width="1.8"/>
<circle cx="161.31" cy="645.31" r="5.2" fill="#c4b3f7" fill-opacity="0.59" stroke="#c4b3f7" stroke-opacity="0.59" stroke-width="1.8"/>
<circle cx="197.22" cy="645.31" r="5.2" fill="#c4b3f7" fill-opacity="0.59" stroke="#c4b3f7" stroke-opacity="0.59" stroke-width="1.8"/>
<circle cx="245.22" cy="645.31" r="5.2" fill="#c4b3f7" fill-opacity="0.59" stroke="#c4b3f7" stroke-opacity="0.59" stroke-width="1.8"/>
<circle cx="259.44" cy="645.31" r="5.2" fill="#c4b3f7" fill-opacity="0.59" stroke="#c4b3f7" stroke-opacity="0.59" stroke-width="1.8"/>
<circle cx="159" cy="654.91" r="5.2" fill="#c4b3f7" fill-opacity="0.59" stroke="#c4b3f7" stroke-opacity="0.59" stroke-width="1.8"/>
<circle cx="176.78" cy="654.91" r="5.2" fill="#c4b3f7" fill-opacity="0.59" stroke="#c4b3f7" stroke-opacity="0.59" stroke-width="1.8"/>
<circle cx="191.89" cy="654.91" r="5.2" fill="#c4b3f7" fill-opacity="0.59" stroke="#c4b3f7" stroke-opacity="0.59" stroke-width="1.8"/>
<circle cx="194.56" cy="654.91" r="5.2" fill="#c4b3f7" fill-opacity="0.59" stroke="#c4b3f7" stroke-opacity="0.59" stroke-width="1.8"/>
<circle cx="222.11" cy="654.91" r="5.2" fill="#c4b3f7" fill-opacity="0.59" stroke="#c4b3f7" stroke-opacity="0.59" stroke-width="1.8"/>
<circle cx="225.67" cy="654.91" r="5.2" fill="#c4b3f7" fill-opacity="0.59" stroke="#c4b3f7" stroke-opacity="0.59" stroke-width="1.8"/>
<circle cx="238.11" cy="654.91" r="5.2" fill="#c4b3f7" fill-opacity="0.59" stroke="#c4b3f7" stroke-opacity="0.59" stroke-width="1.8"/>
<circle cx="242.56" cy="654.91" r="5.2" fill="#c4b3f7" fill-opacity="0.59" stroke="#c4b3f7" stroke-opacity="0.59" stroke-width="1.8"/>
<circle cx="191" cy="664.33" r="5.2" fill="#c4b3f7" fill-opacity="0.59" stroke="#c4b3f7" stroke-opacity="0.59" stroke-width="1.8"/>
<circle cx="127.89" cy="626.47" r="5.2" fill="#c4b3f7" fill-opacity="0.59" stroke="#c4b3f7" stroke-opacity="0.59" stroke-width="1.8"/>
<circle cx="273.67" cy="551.44" r="5.2" fill="#fea13c" fill-opacity="0.59" stroke="#fea13c" stroke-opacity="0.59" stroke-width="1.8"/>
<circle cx="233.67" cy="579.53" r="5.2" fill="#fea13c" fill-opacity="0.59" stroke="#fea13c" stroke-opacity="0.59" stroke-width="1.8"/>
<circle cx="263.89" cy="579.53" r="5.2" fill="#fea13c" fill-opacity="0.59" stroke="#fea13c" stroke-opacity="0.59" stroke-width="1.8"/>
<circle cx="237.22" cy="589.31" r="5.2" fill="#fea13c" fill-opacity="0.59" stroke="#fea13c" stroke-opacity="0.59" stroke-width="1.8"/>
<circle cx="262.11" cy="589.31" r="5.2" fill="#fea13c" fill-opacity="0.59" stroke="#fea13c" stroke-opacity="0.59" stroke-width="1.8"/>
<circle cx="265.67" cy="589.31" r="5.2" fill="#fea13c" fill-opacity="0.59" stroke="#fea13c" stroke-opacity="0.59" stroke-width="1.8"/>
<circle cx="268.33" cy="589.31" r="5.2" fill="#fea13c" fill-opacity="0.59" stroke="#fea13c" stroke-opacity="0.59" stroke-width="1.8"/>
<circle cx="223" cy="598.56" r="5.2" fill="#fea13c" fill-opacity="0.59" stroke="#fea13c" stroke-opacity="0.59" stroke-width="1.8"/>
<circle cx="240.78" cy="598.56" r="5.2" fill="#fea13c" fill-opacity="0.59" stroke="#fea13c" stroke-opacity="0.59" stroke-width="1.8"/>
<circle cx="251.44" cy="598.56" r="5.2" fill="#fea13c" fill-opacity="0.59" stroke="#fea13c" stroke-opacity="0.59" stroke-width="1.8"/>
<circle cx="256.78" cy="598.56" r="5.2" fill="#fea13c" fill-opacity="0.59" stroke="#fea13c" stroke-opacity="0.59" stroke-width="1.8"/>
<circle cx="261.22" cy="598.56" r="5.2" fill="#fea13c" fill-opacity="0.59" stroke="#fea13c" stroke-opacity="0.59" stroke-width="1.8"/>
<circle cx="265.67" cy="598.56" r="5.2" fill="#fea13c" fill-opacity="0.59" stroke="#fea13c" stroke-opacity="0.59" stroke-width="1.8"/>
<circle cx="270.11" cy="598.56" r="5.2" fill="#fea13c" fill-opacity="0.59" stroke="#fea13c" stroke-opacity="0.59" stroke-width="1.8"/>
<circle cx="233.67" cy="607.44" r="5.2" fill="#fea13c" fill-opacity="0.59" stroke="#fea13c" stroke-opacity="0.59" stroke-width="1.8"/>
<circle cx="248.78" cy="607.44" r="5.2" fill="#fea13c" fill-opacity="0.59" stroke="#fea13c" stroke-opacity="0.59" stroke-width="1.8"/>
<circle cx="256.78" cy="607.44" r="5.2" fill="#fea13c" fill-opacity="0.59" stroke="#fea13c" stroke-opacity="0.59" stroke-width="1.8"/>
<circle cx="273.67" cy="607.44" r="5.2" fill="#fea13c" fill-opacity="0.59" stroke="#fea13c" stroke-opacity="0.59" stroke-width="1.8"/>
<circle cx="230.11" cy="617.22" r="5.2" fill="#fea13c" fill-opacity="0.59" stroke="#fea13c" stroke-opacity="0.59" stroke-width="1.8"/>
<circle cx="230.11" cy="617.22" r="5.2" fill="#fea13c" fill-opacity="0.59" stroke="#fea13c" stroke-opacity="0.59" stroke-width="1.8"/>
<circle cx="234.56" cy="626.47" r="5.2" fill="#fea13c" fill-opacity="0.59" stroke="#fea13c" stroke-opacity="0.59" stroke-width="1.8"/>
<circle cx="184.78" cy="635.89" r="5.2" fill="#fea13c" fill-opacity="0.59" stroke="#fea13c" stroke-opacity="0.59" stroke-width="1.8"/>
<circle cx="191.89" cy="635.89" r="5.2" fill="#fea13c" fill-opacity="0.59" stroke="#fea13c" stroke-opacity="0.59" stroke-width="1.8"/>
<circle cx="171.44" cy="645.31" r="5.2" fill="#fea13c" fill-opacity="0.59" stroke="#fea13c" stroke-opacity="0.59" stroke-width="1.8"/>
<circle cx="144.78" cy="673.22" r="5.2" fill="#fea13c" fill-opacity="0.59" stroke="#fea13c" stroke-opacity="0.59" stroke-width="1.8"/>
<circle cx="155.44" cy="673.22" r="5.2" fill="#fea13c" fill-opacity="0.59" stroke="#fea13c" stroke-opacity="0.59" stroke-width="1.8"/>
<circle cx="178.56" cy="673.22" r="5.2" fill="#fea13c" fill-opacity="0.59" stroke="#fea13c" stroke-opacity="0.59" stroke-width="1.8"/>
<circle cx="143.89" cy="683" r="5.2" fill="#fea13c" fill-opacity="0.59" stroke="#fea13c" stroke-opacity="0.59" stroke-width="1.8"/>
<circle cx="151.89" cy="683" r="5.2" fill="#fea13c" fill-opacity="0.59" stroke="#fea13c" stroke-opacity="0.59" stroke-width="1.8"/>
<circle cx="118.11" cy="692.24" r="5.2" fill="#fea13c" fill-opacity="0.59" stroke="#fea13c" stroke-opacity="0.59" stroke-width="1.8"/>
<circle cx="217.67" cy="570.11" r="5.2" fill="#ec36f6" fill-opacity="0.59" stroke="#ec36f6" stroke-opacity="0.59" stroke-width="1.8"/>
<circle cx="217.67" cy="570.11" r="5.2" fill="#ec36f6" fill-opacity="0.59" stroke="#ec36f6" stroke-opacity="0.59" stroke-width="1.8"/>
<circle cx="175" cy="579.53" r="5.2" fill="#ec36f6" fill-opacity="0.59" stroke="#ec36f6" stroke-opacity="0.59" stroke-width="1.8"/>
<circle cx="199.89" cy="579.53" r="5.2" fill="#ec36f6" fill-opacity="0.59" stroke="#ec36f6" stroke-opacity="0.59" stroke-width="1.8"/>
<circle cx="171.98" cy="589.31" r="5.2" fill="#ec36f6" fill-opacity="0.59" stroke="#ec36f6" stroke-opacity="0.59" stroke-width="1.8"/>
<circle cx="201.67" cy="589.31" r="5.2" fill="#ec36f6" fill-opacity="0.59" stroke="#ec36f6" stroke-opacity="0.59" stroke-width="1.8"/>
<circle cx="206.11" cy="589.31" r="5.2" fill="#ec36f6" fill-opacity="0.59" stroke="#ec36f6" stroke-opacity="0.59" stroke-width="1.8"/>
<circle cx="209.67" cy="589.31" r="5.2" fill="#ec36f6" fill-opacity="0.59" stroke="#ec36f6" stroke-opacity="0.59" stroke-width="1.8"/>
<circle cx="155.44" cy="598.56" r="5.2" fill="#ec36f6" fill-opacity="0.59" stroke="#ec36f6" stroke-opacity="0.59" stroke-width="1.8"/>
<circle cx="191.89" cy="598.56" r="5.2" fill="#ec36f6" fill-opacity="0.59" stroke="#ec36f6" stroke-opacity="0.59" stroke-width="1.8"/>
<circle cx="227.44" cy="598.56" r="5.2" fill="#ec36f6" fill-opacity="0.59" stroke="#ec36f6" stroke-opacity="0.59" stroke-width="1.8"/>
<circle cx="163.44" cy="607.44" r="5.2" fill="#ec36f6" fill-opacity="0.59" stroke="#ec36f6" stroke-opacity="0.59" stroke-width="1.8"/>
<circle cx="169.67" cy="607.44" r="5.2" fill="#ec36f6" fill-opacity="0.59" stroke="#ec36f6" stroke-opacity="0.59" stroke-width="1.8"/>
<circle cx="173.22" cy="607.44" r="5.2" fill="#ec36f6" fill-opacity="0.59" stroke="#ec36f6" stroke-opacity="0.59" stroke-width="1.8"/>
<circle cx="196.33" cy="607.44" r="5.2" fill="#ec36f6" fill-opacity="0.59" stroke="#ec36f6" stroke-opacity="0.59" stroke-width="1.8"/>
<circle cx="203.44" cy="607.44" r="5.2" fill="#ec36f6" fill-opacity="0.59" stroke="#ec36f6" stroke-opacity="0.59" stroke-width="1.8"/>
<circle cx="218.56" cy="607.44" r="5.2" fill="#ec36f6" fill-opacity="0.59" stroke="#ec36f6" stroke-opacity="0.59" stroke-width="1.8"/>
<circle cx="159.89" cy="617.22" r="5.2" fill="#ec36f6" fill-opacity="0.59" stroke="#ec36f6" stroke-opacity="0.59" stroke-width="1.8"/>
<circle cx="177.67" cy="617.22" r="5.2" fill="#ec36f6" fill-opacity="0.59" stroke="#ec36f6" stroke-opacity="0.59" stroke-width="1.8"/>
<circle cx="208.78" cy="617.22" r="5.2" fill="#ec36f6" fill-opacity="0.59" stroke="#ec36f6" stroke-opacity="0.59" stroke-width="1.8"/>
<circle cx="212.33" cy="617.22" r="5.2" fill="#ec36f6" fill-opacity="0.59" stroke="#ec36f6" stroke-opacity="0.59" stroke-width="1.8"/>
<circle cx="151" cy="626.47" r="5.2" fill="#ec36f6" fill-opacity="0.59" stroke="#ec36f6" stroke-opacity="0.59" stroke-width="1.8"/>
<circle cx="180.33" cy="626.47" r="5.2" fill="#ec36f6" fill-opacity="0.59" stroke="#ec36f6" stroke-opacity="0.59" stroke-width="1.8"/>
<circle cx="208.78" cy="626.47" r="5.2" fill="#ec36f6" fill-opacity="0.59" stroke="#ec36f6" stroke-opacity="0.59" stroke-width="1.8"/>
<circle cx="84.33" cy="711.09" r="5.2" fill="#ec36f6" fill-opacity="0.59" stroke="#ec36f6" stroke-opacity="0.59" stroke-width="1.8"/>
<circle cx="84.33" cy="711.09" r="5.2" fill="#ec36f6" fill-opacity="0.59" stroke="#ec36f6" stroke-opacity="0.59" stroke-width="1.8"/>
<circle cx="67.09" cy="739.36" r="5.2" fill="#ec36f6" fill-opacity="0.59" stroke="#ec36f6" stroke-opacity="0.59" stroke-width="1.8"/>
<circle cx="83.44" cy="748.78" r="5.2" fill="#ec36f6" fill-opacity="0.59" stroke="#ec36f6" stroke-opacity="0.59" stroke-width="1.8"/>
<circle cx="87.89" cy="748.78" r="5.2" fill="#ec36f6" fill-opacity="0.59" stroke="#ec36f6" stroke-opacity="0.59" stroke-width="1.8"/>
<circle cx="85.58" cy="748.78" r="5.2" fill="#ec36f6" fill-opacity="0.59" stroke="#ec36f6" stroke-opacity="0.59" stroke-width="1.8"/>
<circle cx="83.44" cy="758.56" r="5.2" fill="#ec36f6" fill-opacity="0.59" stroke="#ec36f6" stroke-opacity="0.59" stroke-width="1.8"/>
<line x1="321.9" y1="542.1" x2="321.9" y2="767.9" stroke="#e6e6e6" stroke-width="1.4"/>
<line x1="367.2" y1="542.1" x2="367.2" y2="767.9" stroke="#e6e6e6" stroke-width="1.4"/>
<line x1="412.6" y1="542.1" x2="412.6" y2="767.9" stroke="#e6e6e6" stroke-width="1.4"/>
<line x1="457.9" y1="542.1" x2="457.9" y2="767.9" stroke="#e6e6e6" stroke-width="1.4"/>
<line x1="503.2" y1="542.1" x2="503.2" y2="767.9" stroke="#e6e6e6" stroke-width="1.4"/>
<line x1="299.5" y1="575.4" x2="525.1" y2="575.4" stroke="#e6e6e6" stroke-width="1.4"/>
<line x1="299.5" y1="621.7" x2="525.1" y2="621.7" stroke="#e6e6e6" stroke-width="1.4"/>
<line x1="299.5" y1="668.8" x2="525.1" y2="668.8" stroke="#e6e6e6" stroke-width="1.4"/>
<line x1="299.5" y1="715.9" x2="525.1" y2="715.9" stroke="#e6e6e6" stroke-width="1.4"/>
<line x1="299.5" y1="762.6" x2="525.1" y2="762.6" stroke="#e6e6e6" stroke-width="1.4"/>
<line x1="344.6" y1="542.1" x2="344.6" y2="767.9" stroke="#e6e6e6" stroke-width="2.6"/>
<line x1="389.4" y1="542.1" x2="389.4" y2="767.9" stroke="#e6e6e6" stroke-width="2.6"/>
<line x1="435.3" y1="542.1" x2="435.3" y2="767.9" stroke="#e6e6e6" stroke-width="2.6"/>
<line x1="481" y1="542.1" x2="481" y2="767.9" stroke="#e6e6e6" stroke-width="2.6"/>
<line x1="299.5" y1="551.4" x2="525.1" y2="551.4" stroke="#e6e6e6" stroke-width="2.6"/>
<line x1="299.5" y1="598.6" x2="525.1" y2="598.6" stroke="#e6e6e6" stroke-width="2.6"/>
<line x1="299.5" y1="645.7" x2="525.1" y2="645.7" stroke="#e6e6e6" stroke-width="2.6"/>
<line x1="299.5" y1="692.2" x2="525.1" y2="692.2" stroke="#e6e6e6" stroke-width="2.6"/>
<line x1="299.5" y1="739.4" x2="525.1" y2="739.4" stroke="#e6e6e6" stroke-width="2.6"/>
<circle cx="337" cy="607.44" r="5.2" fill="#c4b3f7" fill-opacity="0.59" stroke="#c4b3f7" stroke-opacity="0.59" stroke-width="1.8"/>
<circle cx="428.56" cy="607.44" r="5.2" fill="#c4b3f7" fill-opacity="0.59" stroke="#c4b3f7" stroke-opacity="0.59" stroke-width="1.8"/>
<circle cx="337" cy="617.22" r="5.2" fill="#c4b3f7" fill-opacity="0.59" stroke="#c4b3f7" stroke-opacity="0.59" stroke-width="1.8"/>
<circle cx="309.44" cy="626.47" r="5.2" fill="#c4b3f7" fill-opacity="0.59" stroke="#c4b3f7" stroke-opacity="0.59" stroke-width="1.8"/>
<circle cx="325.44" cy="626.47" r="5.2" fill="#c4b3f7" fill-opacity="0.59" stroke="#c4b3f7" stroke-opacity="0.59" stroke-width="1.8"/>
<circle cx="481" cy="626.47" r="5.2" fill="#c4b3f7" fill-opacity="0.59" stroke="#c4b3f7" stroke-opacity="0.59" stroke-width="1.8"/>
<circle cx="496.11" cy="626.47" r="5.2" fill="#c4b3f7" fill-opacity="0.59" stroke="#c4b3f7" stroke-opacity="0.59" stroke-width="1.8"/>
<circle cx="325.44" cy="635.89" r="5.2" fill="#c4b3f7" fill-opacity="0.59" stroke="#c4b3f7" stroke-opacity="0.59" stroke-width="1.8"/>
<circle cx="474.78" cy="635.89" r="5.2" fill="#c4b3f7" fill-opacity="0.59" stroke="#c4b3f7" stroke-opacity="0.59" stroke-width="1.8"/>
<circle cx="496.11" cy="635.89" r="5.2" fill="#c4b3f7" fill-opacity="0.59" stroke="#c4b3f7" stroke-opacity="0.59" stroke-width="1.8"/>
<circle cx="409.89" cy="645.31" r="5.2" fill="#c4b3f7" fill-opacity="0.59" stroke="#c4b3f7" stroke-opacity="0.59" stroke-width="1.8"/>
<circle cx="444.56" cy="645.31" r="5.2" fill="#c4b3f7" fill-opacity="0.59" stroke="#c4b3f7" stroke-opacity="0.59" stroke-width="1.8"/>
<circle cx="469.44" cy="645.31" r="5.2" fill="#c4b3f7" fill-opacity="0.59" stroke="#c4b3f7" stroke-opacity="0.59" stroke-width="1.8"/>
<circle cx="515.67" cy="645.31" r="5.2" fill="#c4b3f7" fill-opacity="0.59" stroke="#c4b3f7" stroke-opacity="0.59" stroke-width="1.8"/>
<circle cx="409.89" cy="654.91" r="5.2" fill="#c4b3f7" fill-opacity="0.59" stroke="#c4b3f7" stroke-opacity="0.59" stroke-width="1.8"/>
<circle cx="444.56" cy="654.91" r="5.2" fill="#c4b3f7" fill-opacity="0.59" stroke="#c4b3f7" stroke-opacity="0.59" stroke-width="1.8"/>
<circle cx="480.11" cy="654.91" r="5.2" fill="#c4b3f7" fill-opacity="0.59" stroke="#c4b3f7" stroke-opacity="0.59" stroke-width="1.8"/>
<circle cx="488.11" cy="654.91" r="5.2" fill="#c4b3f7" fill-opacity="0.59" stroke="#c4b3f7" stroke-opacity="0.59" stroke-width="1.8"/>
<circle cx="496.11" cy="654.91" r="5.2" fill="#c4b3f7" fill-opacity="0.59" stroke="#c4b3f7" stroke-opacity="0.59" stroke-width="1.8"/>
<circle cx="515.67" cy="654.91" r="5.2" fill="#c4b3f7" fill-opacity="0.59" stroke="#c4b3f7" stroke-opacity="0.59" stroke-width="1.8"/>
<circle cx="472.11" cy="664.33" r="5.2" fill="#c4b3f7" fill-opacity="0.59" stroke="#c4b3f7" stroke-opacity="0.59" stroke-width="1.8"/>
<circle cx="488.11" cy="654.91" r="5.2" fill="#c4b3f7" fill-opacity="0.59" stroke="#c4b3f7" stroke-opacity="0.59" stroke-width="1.8"/>
<circle cx="444.56" cy="551.44" r="5.2" fill="#fea13c" fill-opacity="0.59" stroke="#fea13c" stroke-opacity="0.59" stroke-width="1.8"/>
<circle cx="396.2" cy="579.53" r="5.2" fill="#fea13c" fill-opacity="0.59" stroke="#fea13c" stroke-opacity="0.59" stroke-width="1.8"/>
<circle cx="488.11" cy="579.53" r="5.2" fill="#fea13c" fill-opacity="0.59" stroke="#fea13c" stroke-opacity="0.59" stroke-width="1.8"/>
<circle cx="396.2" cy="589.31" r="5.2" fill="#fea13c" fill-opacity="0.59" stroke="#fea13c" stroke-opacity="0.59" stroke-width="1.8"/>
<circle cx="444.56" cy="589.31" r="5.2" fill="#fea13c" fill-opacity="0.59" stroke="#fea13c" stroke-opacity="0.59" stroke-width="1.8"/>
<circle cx="409.89" cy="598.56" r="5.2" fill="#fea13c" fill-opacity="0.59" stroke="#fea13c" stroke-opacity="0.59" stroke-width="1.8"/>
<circle cx="471.22" cy="598.56" r="5.2" fill="#fea13c" fill-opacity="0.59" stroke="#fea13c" stroke-opacity="0.59" stroke-width="1.8"/>
<circle cx="490.78" cy="598.56" r="5.2" fill="#fea13c" fill-opacity="0.59" stroke="#fea13c" stroke-opacity="0.59" stroke-width="1.8"/>
<circle cx="428.56" cy="598.56" r="5.2" fill="#fea13c" fill-opacity="0.59" stroke="#fea13c" stroke-opacity="0.59" stroke-width="1.8"/>
<circle cx="497" cy="607.44" r="5.2" fill="#fea13c" fill-opacity="0.59" stroke="#fea13c" stroke-opacity="0.59" stroke-width="1.8"/>
<circle cx="515.67" cy="607.44" r="5.2" fill="#fea13c" fill-opacity="0.59" stroke="#fea13c" stroke-opacity="0.59" stroke-width="1.8"/>
<circle cx="515.67" cy="607.44" r="5.2" fill="#fea13c" fill-opacity="0.59" stroke="#fea13c" stroke-opacity="0.59" stroke-width="1.8"/>
<circle cx="409.89" cy="617.22" r="5.2" fill="#fea13c" fill-opacity="0.59" stroke="#fea13c" stroke-opacity="0.59" stroke-width="1.8"/>
<circle cx="428.56" cy="617.22" r="5.2" fill="#fea13c" fill-opacity="0.59" stroke="#fea13c" stroke-opacity="0.59" stroke-width="1.8"/>
<circle cx="309.44" cy="626.47" r="5.2" fill="#fea13c" fill-opacity="0.59" stroke="#fea13c" stroke-opacity="0.59" stroke-width="1.8"/>
<circle cx="488.11" cy="626.47" r="5.2" fill="#fea13c" fill-opacity="0.59" stroke="#fea13c" stroke-opacity="0.59" stroke-width="1.8"/>
<circle cx="469.44" cy="635.89" r="5.2" fill="#fea13c" fill-opacity="0.59" stroke="#fea13c" stroke-opacity="0.59" stroke-width="1.8"/>
<circle cx="469.44" cy="635.89" r="5.2" fill="#fea13c" fill-opacity="0.59" stroke="#fea13c" stroke-opacity="0.59" stroke-width="1.8"/>
<circle cx="337" cy="645.31" r="5.2" fill="#fea13c" fill-opacity="0.59" stroke="#fea13c" stroke-opacity="0.59" stroke-width="1.8"/>
<circle cx="309.44" cy="673.22" r="5.2" fill="#fea13c" fill-opacity="0.59" stroke="#fea13c" stroke-opacity="0.59" stroke-width="1.8"/>
<circle cx="309.44" cy="673.22" r="5.2" fill="#fea13c" fill-opacity="0.59" stroke="#fea13c" stroke-opacity="0.59" stroke-width="1.8"/>
<circle cx="337" cy="673.22" r="5.2" fill="#fea13c" fill-opacity="0.59" stroke="#fea13c" stroke-opacity="0.59" stroke-width="1.8"/>
<circle cx="309.09" cy="683" r="5.2" fill="#fea13c" fill-opacity="0.59" stroke="#fea13c" stroke-opacity="0.59" stroke-width="1.8"/>
<circle cx="325.44" cy="683" r="5.2" fill="#fea13c" fill-opacity="0.59" stroke="#fea13c" stroke-opacity="0.59" stroke-width="1.8"/>
<circle cx="325.44" cy="692.24" r="5.2" fill="#fea13c" fill-opacity="0.59" stroke="#fea13c" stroke-opacity="0.59" stroke-width="1.8"/>
<circle cx="488.11" cy="570.11" r="5.2" fill="#ec36f6" fill-opacity="0.59" stroke="#ec36f6" stroke-opacity="0.59" stroke-width="1.8"/>
<circle cx="515.67" cy="570.11" r="5.2" fill="#ec36f6" fill-opacity="0.59" stroke="#ec36f6" stroke-opacity="0.59" stroke-width="1.8"/>
<circle cx="469.44" cy="579.53" r="5.2" fill="#ec36f6" fill-opacity="0.59" stroke="#ec36f6" stroke-opacity="0.59" stroke-width="1.8"/>
<circle cx="515.67" cy="579.53" r="5.2" fill="#ec36f6" fill-opacity="0.59" stroke="#ec36f6" stroke-opacity="0.59" stroke-width="1.8"/>
<circle cx="428.56" cy="589.31" r="5.2" fill="#ec36f6" fill-opacity="0.59" stroke="#ec36f6" stroke-opacity="0.59" stroke-width="1.8"/>
<circle cx="483.67" cy="589.31" r="5.2" fill="#ec36f6" fill-opacity="0.59" stroke="#ec36f6" stroke-opacity="0.59" stroke-width="1.8"/>
<circle cx="495.22" cy="589.31" r="5.2" fill="#ec36f6" fill-opacity="0.59" stroke="#ec36f6" stroke-opacity="0.59" stroke-width="1.8"/>
<circle cx="495.22" cy="589.31" r="5.2" fill="#ec36f6" fill-opacity="0.59" stroke="#ec36f6" stroke-opacity="0.59" stroke-width="1.8"/>
<circle cx="428.56" cy="598.56" r="5.2" fill="#ec36f6" fill-opacity="0.59" stroke="#ec36f6" stroke-opacity="0.59" stroke-width="1.8"/>
<circle cx="480.11" cy="598.56" r="5.2" fill="#ec36f6" fill-opacity="0.59" stroke="#ec36f6" stroke-opacity="0.59" stroke-width="1.8"/>
<circle cx="480.11" cy="598.56" r="5.2" fill="#ec36f6" fill-opacity="0.59" stroke="#ec36f6" stroke-opacity="0.59" stroke-width="1.8"/>
<circle cx="495.22" cy="598.56" r="5.2" fill="#ec36f6" fill-opacity="0.59" stroke="#ec36f6" stroke-opacity="0.59" stroke-width="1.8"/>
<circle cx="409.89" cy="607.44" r="5.2" fill="#ec36f6" fill-opacity="0.59" stroke="#ec36f6" stroke-opacity="0.59" stroke-width="1.8"/>
<circle cx="444.56" cy="607.44" r="5.2" fill="#ec36f6" fill-opacity="0.59" stroke="#ec36f6" stroke-opacity="0.59" stroke-width="1.8"/>
<circle cx="469.44" cy="607.44" r="5.2" fill="#ec36f6" fill-opacity="0.59" stroke="#ec36f6" stroke-opacity="0.59" stroke-width="1.8"/>
<circle cx="483.67" cy="607.44" r="5.2" fill="#ec36f6" fill-opacity="0.59" stroke="#ec36f6" stroke-opacity="0.59" stroke-width="1.8"/>
<circle cx="483.67" cy="607.44" r="5.2" fill="#ec36f6" fill-opacity="0.59" stroke="#ec36f6" stroke-opacity="0.59" stroke-width="1.8"/>
<circle cx="396.2" cy="617.22" r="5.2" fill="#ec36f6" fill-opacity="0.59" stroke="#ec36f6" stroke-opacity="0.59" stroke-width="1.8"/>
<circle cx="396.2" cy="617.22" r="5.2" fill="#ec36f6" fill-opacity="0.59" stroke="#ec36f6" stroke-opacity="0.59" stroke-width="1.8"/>
<circle cx="444.56" cy="617.22" r="5.2" fill="#ec36f6" fill-opacity="0.59" stroke="#ec36f6" stroke-opacity="0.59" stroke-width="1.8"/>
<circle cx="472.11" cy="617.22" r="5.2" fill="#ec36f6" fill-opacity="0.59" stroke="#ec36f6" stroke-opacity="0.59" stroke-width="1.8"/>
<circle cx="495.22" cy="617.22" r="5.2" fill="#ec36f6" fill-opacity="0.59" stroke="#ec36f6" stroke-opacity="0.59" stroke-width="1.8"/>
<circle cx="396.2" cy="626.47" r="5.2" fill="#ec36f6" fill-opacity="0.59" stroke="#ec36f6" stroke-opacity="0.59" stroke-width="1.8"/>
<circle cx="409.89" cy="626.47" r="5.2" fill="#ec36f6" fill-opacity="0.59" stroke="#ec36f6" stroke-opacity="0.59" stroke-width="1.8"/>
<circle cx="472.11" cy="626.47" r="5.2" fill="#ec36f6" fill-opacity="0.59" stroke="#ec36f6" stroke-opacity="0.59" stroke-width="1.8"/>
<circle cx="337" cy="711.09" r="5.2" fill="#ec36f6" fill-opacity="0.59" stroke="#ec36f6" stroke-opacity="0.59" stroke-width="1.8"/>
<circle cx="337" cy="711.09" r="5.2" fill="#ec36f6" fill-opacity="0.59" stroke="#ec36f6" stroke-opacity="0.59" stroke-width="1.8"/>
<circle cx="310.33" cy="739.36" r="5.2" fill="#ec36f6" fill-opacity="0.59" stroke="#ec36f6" stroke-opacity="0.59" stroke-width="1.8"/>
<circle cx="309.09" cy="748.78" r="5.2" fill="#ec36f6" fill-opacity="0.59" stroke="#ec36f6" stroke-opacity="0.59" stroke-width="1.8"/>
<circle cx="309.09" cy="748.78" r="5.2" fill="#ec36f6" fill-opacity="0.59" stroke="#ec36f6" stroke-opacity="0.59" stroke-width="1.8"/>
<circle cx="325.44" cy="748.78" r="5.2" fill="#ec36f6" fill-opacity="0.59" stroke="#ec36f6" stroke-opacity="0.59" stroke-width="1.8"/>
<circle cx="325.44" cy="748.78" r="5.2" fill="#ec36f6" fill-opacity="0.59" stroke="#ec36f6" stroke-opacity="0.59" stroke-width="1.8"/>
<circle cx="310.33" cy="758.56" r="5.2" fill="#ec36f6" fill-opacity="0.59" stroke="#ec36f6" stroke-opacity="0.59" stroke-width="1.8"/>
<line x1="92.3" y1="784.1" x2="92.3" y2="1009.8" stroke="#e6e6e6" stroke-width="1.4"/>
<line x1="137.1" y1="784.1" x2="137.1" y2="1009.8" stroke="#e6e6e6" stroke-width="1.4"/>
<line x1="182.1" y1="784.1" x2="182.1" y2="1009.8" stroke="#e6e6e6" stroke-width="1.4"/>
<line x1="226.9" y1="784.1" x2="226.9" y2="1009.8" stroke="#e6e6e6" stroke-width="1.4"/>
<line x1="272.2" y1="784.1" x2="272.2" y2="1009.8" stroke="#e6e6e6" stroke-width="1.4"/>
<line x1="57.8" y1="797.9" x2="283.4" y2="797.9" stroke="#e6e6e6" stroke-width="1.4"/>
<line x1="57.8" y1="857.1" x2="283.4" y2="857.1" stroke="#e6e6e6" stroke-width="1.4"/>
<line x1="57.8" y1="915.6" x2="283.4" y2="915.6" stroke="#e6e6e6" stroke-width="1.4"/>
<line x1="57.8" y1="974.8" x2="283.4" y2="974.8" stroke="#e6e6e6" stroke-width="1.4"/>
<line x1="70.1" y1="784.1" x2="70.1" y2="1009.8" stroke="#e6e6e6" stroke-width="2.6"/>
<line x1="114.9" y1="784.1" x2="114.9" y2="1009.8" stroke="#e6e6e6" stroke-width="2.6"/>
<line x1="159.9" y1="784.1" x2="159.9" y2="1009.8" stroke="#e6e6e6" stroke-width="2.6"/>
<line x1="204.3" y1="784.1" x2="204.3" y2="1009.8" stroke="#e6e6e6" stroke-width="2.6"/>
<line x1="249.7" y1="784.1" x2="249.7" y2="1009.8" stroke="#e6e6e6" stroke-width="2.6"/>
<line x1="57.8" y1="827.6" x2="283.4" y2="827.6" stroke="#e6e6e6" stroke-width="2.6"/>
<line x1="57.8" y1="885.9" x2="283.4" y2="885.9" stroke="#e6e6e6" stroke-width="2.6"/>
<line x1="57.8" y1="944.9" x2="283.4" y2="944.9" stroke="#e6e6e6" stroke-width="2.6"/>
<line x1="57.8" y1="1003.2" x2="283.4" y2="1003.2" stroke="#e6e6e6" stroke-width="2.6"/>
<circle cx="225.67" cy="976.2" r="5.2" fill="#c4b3f7" fill-opacity="0.59" stroke="#c4b3f7" stroke-opacity="0.59" stroke-width="1.8"/>
<circle cx="244.87" cy="977.98" r="5.2" fill="#c4b3f7" fill-opacity="0.59" stroke="#c4b3f7" stroke-opacity="0.59" stroke-width="1.8"/>
<circle cx="222.11" cy="982.78" r="5.2" fill="#c4b3f7" fill-opacity="0.59" stroke="#c4b3f7" stroke-opacity="0.59" stroke-width="1.8"/>
<circle cx="160.78" cy="983.67" r="5.2" fill="#c4b3f7" fill-opacity="0.59" stroke="#c4b3f7" stroke-opacity="0.59" stroke-width="1.8"/>
<circle cx="183.89" cy="987.22" r="5.2" fill="#c4b3f7" fill-opacity="0.59" stroke="#c4b3f7" stroke-opacity="0.59" stroke-width="1.8"/>
<circle cx="191" cy="987.22" r="5.2" fill="#c4b3f7" fill-opacity="0.59" stroke="#c4b3f7" stroke-opacity="0.59" stroke-width="1.8"/>
<circle cx="195.44" cy="988.11" r="5.2" fill="#c4b3f7" fill-opacity="0.59" stroke="#c4b3f7" stroke-opacity="0.59" stroke-width="1.8"/>
<circle cx="199" cy="987.22" r="5.2" fill="#c4b3f7" fill-opacity="0.59" stroke="#c4b3f7" stroke-opacity="0.59" stroke-width="1.8"/>
<circle cx="191.89" cy="989.89" r="5.2" fill="#c4b3f7" fill-opacity="0.59" stroke="#c4b3f7" stroke-opacity="0.59" stroke-width="1.8"/>
<circle cx="209.67" cy="991.67" r="5.2" fill="#c4b3f7" fill-opacity="0.59" stroke="#c4b3f7" stroke-opacity="0.59" stroke-width="1.8"/>
<circle cx="221.22" cy="989" r="5.2" fill="#c4b3f7" fill-opacity="0.59" stroke="#c4b3f7" stroke-opacity="0.59" stroke-width="1.8"/>
<circle cx="237.22" cy="987.22" r="5.2" fill="#c4b3f7" fill-opacity="0.59" stroke="#c4b3f7" stroke-opacity="0.59" stroke-width="1.8"/>
<circle cx="242.56" cy="988.64" r="5.2" fill="#c4b3f7" fill-opacity="0.59" stroke="#c4b3f7" stroke-opacity="0.59" stroke-width="1.8"/>
<circle cx="259.44" cy="991.67" r="5.2" fill="#c4b3f7" fill-opacity="0.59" stroke="#c4b3f7" stroke-opacity="0.59" stroke-width="1.8"/>
<circle cx="263.89" cy="989.89" r="5.2" fill="#c4b3f7" fill-opacity="0.59" stroke="#c4b3f7" stroke-opacity="0.59" stroke-width="1.8"/>
<circle cx="118.11" cy="991.67" r="5.2" fill="#c4b3f7" fill-opacity="0.59" stroke="#c4b3f7" stroke-opacity="0.59" stroke-width="1.8"/>
<circle cx="114.56" cy="996.11" r="5.2" fill="#c4b3f7" fill-opacity="0.59" stroke="#c4b3f7" stroke-opacity="0.59" stroke-width="1.8"/>
<circle cx="122.56" cy="993.44" r="5.2" fill="#c4b3f7" fill-opacity="0.59" stroke="#c4b3f7" stroke-opacity="0.59" stroke-width="1.8"/>
<circle cx="127" cy="996.11" r="5.2" fill="#c4b3f7" fill-opacity="0.59" stroke="#c4b3f7" stroke-opacity="0.59" stroke-width="1.8"/>
<circle cx="133.22" cy="997" r="5.2" fill="#c4b3f7" fill-opacity="0.59" stroke="#c4b3f7" stroke-opacity="0.59" stroke-width="1.8"/>
<circle cx="140.33" cy="995.22" r="5.2" fill="#c4b3f7" fill-opacity="0.59" stroke="#c4b3f7" stroke-opacity="0.59" stroke-width="1.8"/>
<circle cx="144.78" cy="998.78" r="5.2" fill="#c4b3f7" fill-opacity="0.59" stroke="#c4b3f7" stroke-opacity="0.59" stroke-width="1.8"/>
<circle cx="159" cy="992.91" r="5.2" fill="#c4b3f7" fill-opacity="0.59" stroke="#c4b3f7" stroke-opacity="0.59" stroke-width="1.8"/>
<circle cx="169.67" cy="997" r="5.2" fill="#c4b3f7" fill-opacity="0.59" stroke="#c4b3f7" stroke-opacity="0.59" stroke-width="1.8"/>
<circle cx="176.78" cy="997" r="5.2" fill="#c4b3f7" fill-opacity="0.59" stroke="#c4b3f7" stroke-opacity="0.59" stroke-width="1.8"/>
<circle cx="189.22" cy="1000.56" r="5.2" fill="#c4b3f7" fill-opacity="0.59" stroke="#c4b3f7" stroke-opacity="0.59" stroke-width="1.8"/>
<circle cx="231" cy="994.33" r="5.2" fill="#c4b3f7" fill-opacity="0.59" stroke="#c4b3f7" stroke-opacity="0.59" stroke-width="1.8"/>
<circle cx="231.89" cy="997.53" r="5.2" fill="#c4b3f7" fill-opacity="0.59" stroke="#c4b3f7" stroke-opacity="0.59" stroke-width="1.8"/>
<circle cx="160.78" cy="985.44" r="5.2" fill="#c4b3f7" fill-opacity="0.59" stroke="#c4b3f7" stroke-opacity="0.59" stroke-width="1.8"/>
<circle cx="191.89" cy="989" r="5.2" fill="#c4b3f7" fill-opacity="0.59" stroke="#c4b3f7" stroke-opacity="0.59" stroke-width="1.8"/>
<circle cx="223.89" cy="978.33" r="5.2" fill="#c4b3f7" fill-opacity="0.59" stroke="#c4b3f7" stroke-opacity="0.59" stroke-width="1.8"/>
<circle cx="273.67" cy="850.69" r="5.2" fill="#fea13c" fill-opacity="0.59" stroke="#fea13c" stroke-opacity="0.59" stroke-width="1.8"/>
<circle cx="248.78" cy="868.11" r="5.2" fill="#fea13c" fill-opacity="0.59" stroke="#fea13c" stroke-opacity="0.59" stroke-width="1.8"/>
<circle cx="256.78" cy="867.22" r="5.2" fill="#fea13c" fill-opacity="0.59" stroke="#fea13c" stroke-opacity="0.59" stroke-width="1.8"/>
<circle cx="266.56" cy="876.11" r="5.2" fill="#fea13c" fill-opacity="0.59" stroke="#fea13c" stroke-opacity="0.59" stroke-width="1.8"/>
<circle cx="268.33" cy="877" r="5.2" fill="#fea13c" fill-opacity="0.59" stroke="#fea13c" stroke-opacity="0.59" stroke-width="1.8"/>
<circle cx="268.33" cy="889.8" r="5.2" fill="#fea13c" fill-opacity="0.59" stroke="#fea13c" stroke-opacity="0.59" stroke-width="1.8"/>
<circle cx="184.78" cy="899.22" r="5.2" fill="#fea13c" fill-opacity="0.59" stroke="#fea13c" stroke-opacity="0.59" stroke-width="1.8"/>
<circle cx="257.67" cy="897.44" r="5.2" fill="#fea13c" fill-opacity="0.59" stroke="#fea13c" stroke-opacity="0.59" stroke-width="1.8"/>
<circle cx="263.89" cy="898.69" r="5.2" fill="#fea13c" fill-opacity="0.59" stroke="#fea13c" stroke-opacity="0.59" stroke-width="1.8"/>
<circle cx="237.22" cy="903.31" r="5.2" fill="#fea13c" fill-opacity="0.59" stroke="#fea13c" stroke-opacity="0.59" stroke-width="1.8"/>
<circle cx="230.11" cy="909" r="5.2" fill="#fea13c" fill-opacity="0.59" stroke="#fea13c" stroke-opacity="0.59" stroke-width="1.8"/>
<circle cx="191.89" cy="911.13" r="5.2" fill="#fea13c" fill-opacity="0.59" stroke="#fea13c" stroke-opacity="0.59" stroke-width="1.8"/>
<circle cx="261.22" cy="908.64" r="5.2" fill="#fea13c" fill-opacity="0.59" stroke="#fea13c" stroke-opacity="0.59" stroke-width="1.8"/>
<circle cx="232.78" cy="915.22" r="5.2" fill="#fea13c" fill-opacity="0.59" stroke="#fea13c" stroke-opacity="0.59" stroke-width="1.8"/>
<circle cx="234.56" cy="916.47" r="5.2" fill="#fea13c" fill-opacity="0.59" stroke="#fea13c" stroke-opacity="0.59" stroke-width="1.8"/>
<circle cx="263" cy="915.22" r="5.2" fill="#fea13c" fill-opacity="0.59" stroke="#fea13c" stroke-opacity="0.59" stroke-width="1.8"/>
<circle cx="240.78" cy="921.44" r="5.2" fill="#fea13c" fill-opacity="0.59" stroke="#fea13c" stroke-opacity="0.59" stroke-width="1.8"/>
<circle cx="251.44" cy="918.24" r="5.2" fill="#fea13c" fill-opacity="0.59" stroke="#fea13c" stroke-opacity="0.59" stroke-width="1.8"/>
<circle cx="273.67" cy="919.67" r="5.2" fill="#fea13c" fill-opacity="0.59" stroke="#fea13c" stroke-opacity="0.59" stroke-width="1.8"/>
<circle cx="263.89" cy="934.24" r="5.2" fill="#fea13c" fill-opacity="0.59" stroke="#fea13c" stroke-opacity="0.59" stroke-width="1.8"/>
<circle cx="223" cy="940.11" r="5.2" fill="#fea13c" fill-opacity="0.59" stroke="#fea13c" stroke-opacity="0.59" stroke-width="1.8"/>
<circle cx="229.22" cy="941.89" r="5.2" fill="#fea13c" fill-opacity="0.59" stroke="#fea13c" stroke-opacity="0.59" stroke-width="1.8"/>
<circle cx="234.56" cy="941.89" r="5.2" fill="#fea13c" fill-opacity="0.59" stroke="#fea13c" stroke-opacity="0.59" stroke-width="1.8"/>
<circle cx="228.33" cy="952.02" r="5.2" fill="#fea13c" fill-opacity="0.59" stroke="#fea13c" stroke-opacity="0.59" stroke-width="1.8"/>
<circle cx="155.44" cy="942.78" r="5.2" fill="#fea13c" fill-opacity="0.59" stroke="#fea13c" stroke-opacity="0.59" stroke-width="1.8"/>
<circle cx="151.89" cy="948.11" r="5.2" fill="#fea13c" fill-opacity="0.59" stroke="#fea13c" stroke-opacity="0.59" stroke-width="1.8"/>
<circle cx="171.44" cy="949" r="5.2" fill="#fea13c" fill-opacity="0.59" stroke="#fea13c" stroke-opacity="0.59" stroke-width="1.8"/>
<circle cx="143.89" cy="959.67" r="5.2" fill="#fea13c" fill-opacity="0.59" stroke="#fea13c" stroke-opacity="0.59" stroke-width="1.8"/>
<circle cx="143.89" cy="959.67" r="5.2" fill="#fea13c" fill-opacity="0.59" stroke="#fea13c" stroke-opacity="0.59" stroke-width="1.8"/>
<circle cx="151.89" cy="963.76" r="5.2" fill="#fea13c" fill-opacity="0.59" stroke="#fea13c" stroke-opacity="0.59" stroke-width="1.8"/>
<circle cx="178.56" cy="962.33" r="5.2" fill="#fea13c" fill-opacity="0.59" stroke="#fea13c" stroke-opacity="0.59" stroke-width="1.8"/>
<circle cx="118.11" cy="968.02" r="5.2" fill="#fea13c" fill-opacity="0.59" stroke="#fea13c" stroke-opacity="0.59" stroke-width="1.8"/>
<circle cx="216.78" cy="793.09" r="5.2" fill="#ec36f6" fill-opacity="0.59" stroke="#ec36f6" stroke-opacity="0.59" stroke-width="1.8"/>
<circle cx="218.2" cy="798.78" r="5.2" fill="#ec36f6" fill-opacity="0.59" stroke="#ec36f6" stroke-opacity="0.59" stroke-width="1.8"/>
<circle cx="201.67" cy="804.11" r="5.2" fill="#ec36f6" fill-opacity="0.59" stroke="#ec36f6" stroke-opacity="0.59" stroke-width="1.8"/>
<circle cx="209.31" cy="807.67" r="5.2" fill="#ec36f6" fill-opacity="0.59" stroke="#ec36f6" stroke-opacity="0.59" stroke-width="1.8"/>
<circle cx="204.33" cy="809.44" r="5.2" fill="#ec36f6" fill-opacity="0.59" stroke="#ec36f6" stroke-opacity="0.59" stroke-width="1.8"/>
<circle cx="191.89" cy="814.78" r="5.2" fill="#ec36f6" fill-opacity="0.59" stroke="#ec36f6" stroke-opacity="0.59" stroke-width="1.8"/>
<circle cx="197.22" cy="813.89" r="5.2" fill="#ec36f6" fill-opacity="0.59" stroke="#ec36f6" stroke-opacity="0.59" stroke-width="1.8"/>
<circle cx="202.56" cy="812.11" r="5.2" fill="#ec36f6" fill-opacity="0.59" stroke="#ec36f6" stroke-opacity="0.59" stroke-width="1.8"/>
<circle cx="175" cy="816.56" r="5.2" fill="#ec36f6" fill-opacity="0.59" stroke="#ec36f6" stroke-opacity="0.59" stroke-width="1.8"/>
<circle cx="171.44" cy="819.22" r="5.2" fill="#ec36f6" fill-opacity="0.59" stroke="#ec36f6" stroke-opacity="0.59" stroke-width="1.8"/>
<circle cx="202.56" cy="821" r="5.2" fill="#ec36f6" fill-opacity="0.59" stroke="#ec36f6" stroke-opacity="0.59" stroke-width="1.8"/>
<circle cx="218.56" cy="821" r="5.2" fill="#ec36f6" fill-opacity="0.59" stroke="#ec36f6" stroke-opacity="0.59" stroke-width="1.8"/>
<circle cx="209.67" cy="825.44" r="5.2" fill="#ec36f6" fill-opacity="0.59" stroke="#ec36f6" stroke-opacity="0.59" stroke-width="1.8"/>
<circle cx="228.33" cy="825.8" r="5.2" fill="#ec36f6" fill-opacity="0.59" stroke="#ec36f6" stroke-opacity="0.59" stroke-width="1.8"/>
<circle cx="173.22" cy="831.67" r="5.2" fill="#ec36f6" fill-opacity="0.59" stroke="#ec36f6" stroke-opacity="0.59" stroke-width="1.8"/>
<circle cx="212.33" cy="834.33" r="5.2" fill="#ec36f6" fill-opacity="0.59" stroke="#ec36f6" stroke-opacity="0.59" stroke-width="1.8"/>
<circle cx="208.78" cy="838.78" r="5.2" fill="#ec36f6" fill-opacity="0.59" stroke="#ec36f6" stroke-opacity="0.59" stroke-width="1.8"/>
<circle cx="164.33" cy="837.53" r="5.2" fill="#ec36f6" fill-opacity="0.59" stroke="#ec36f6" stroke-opacity="0.59" stroke-width="1.8"/>
<circle cx="177.67" cy="843.22" r="5.2" fill="#ec36f6" fill-opacity="0.59" stroke="#ec36f6" stroke-opacity="0.59" stroke-width="1.8"/>
<circle cx="150.11" cy="848.2" r="5.2" fill="#ec36f6" fill-opacity="0.59" stroke="#ec36f6" stroke-opacity="0.59" stroke-width="1.8"/>
<circle cx="155.44" cy="846.42" r="5.2" fill="#ec36f6" fill-opacity="0.59" stroke="#ec36f6" stroke-opacity="0.59" stroke-width="1.8"/>
<circle cx="171.44" cy="852.11" r="5.2" fill="#ec36f6" fill-opacity="0.59" stroke="#ec36f6" stroke-opacity="0.59" stroke-width="1.8"/>
<circle cx="180.33" cy="855.31" r="5.2" fill="#ec36f6" fill-opacity="0.59" stroke="#ec36f6" stroke-opacity="0.59" stroke-width="1.8"/>
<circle cx="159.89" cy="862.78" r="5.2" fill="#ec36f6" fill-opacity="0.59" stroke="#ec36f6" stroke-opacity="0.59" stroke-width="1.8"/>
<circle cx="84.33" cy="903.31" r="5.2" fill="#ec36f6" fill-opacity="0.59" stroke="#ec36f6" stroke-opacity="0.59" stroke-width="1.8"/>
<circle cx="84.33" cy="903.31" r="5.2" fill="#ec36f6" fill-opacity="0.59" stroke="#ec36f6" stroke-opacity="0.59" stroke-width="1.8"/>
<circle cx="67.09" cy="917" r="5.2" fill="#ec36f6" fill-opacity="0.59" stroke="#ec36f6" stroke-opacity="0.59" stroke-width="1.8"/>
<circle cx="81.67" cy="917" r="5.2" fill="#ec36f6" fill-opacity="0.59" stroke="#ec36f6" stroke-opacity="0.59" stroke-width="1.8"/>
<circle cx="85.22" cy="921.44" r="5.2" fill="#ec36f6" fill-opacity="0.59" stroke="#ec36f6" stroke-opacity="0.59" stroke-width="1.8"/>
<circle cx="87.89" cy="923.22" r="5.2" fill="#ec36f6" fill-opacity="0.59" stroke="#ec36f6" stroke-opacity="0.59" stroke-width="1.8"/>
<circle cx="88.78" cy="920.56" r="5.2" fill="#ec36f6" fill-opacity="0.59" stroke="#ec36f6" stroke-opacity="0.59" stroke-width="1.8"/>
<circle cx="83.44" cy="930.33" r="5.2" fill="#ec36f6" fill-opacity="0.59" stroke="#ec36f6" stroke-opacity="0.59" stroke-width="1.8"/>
<line x1="321.9" y1="784.1" x2="321.9" y2="1009.8" stroke="#e6e6e6" stroke-width="1.4"/>
<line x1="367.2" y1="784.1" x2="367.2" y2="1009.8" stroke="#e6e6e6" stroke-width="1.4"/>
<line x1="412.6" y1="784.1" x2="412.6" y2="1009.8" stroke="#e6e6e6" stroke-width="1.4"/>
<line x1="457.9" y1="784.1" x2="457.9" y2="1009.8" stroke="#e6e6e6" stroke-width="1.4"/>
<line x1="503.2" y1="784.1" x2="503.2" y2="1009.8" stroke="#e6e6e6" stroke-width="1.4"/>
<line x1="299.5" y1="797.9" x2="525.1" y2="797.9" stroke="#e6e6e6" stroke-width="1.4"/>
<line x1="299.5" y1="857.1" x2="525.1" y2="857.1" stroke="#e6e6e6" stroke-width="1.4"/>
<line x1="299.5" y1="915.6" x2="525.1" y2="915.6" stroke="#e6e6e6" stroke-width="1.4"/>
<line x1="299.5" y1="974.8" x2="525.1" y2="974.8" stroke="#e6e6e6" stroke-width="1.4"/>
<line x1="344.6" y1="784.1" x2="344.6" y2="1009.8" stroke="#e6e6e6" stroke-width="2.6"/>
<line x1="389.4" y1="784.1" x2="389.4" y2="1009.8" stroke="#e6e6e6" stroke-width="2.6"/>
<line x1="435.3" y1="784.1" x2="435.3" y2="1009.8" stroke="#e6e6e6" stroke-width="2.6"/>
<line x1="481" y1="784.1" x2="481" y2="1009.8" stroke="#e6e6e6" stroke-width="2.6"/>
<line x1="299.5" y1="827.6" x2="525.1" y2="827.6" stroke="#e6e6e6" stroke-width="2.6"/>
<line x1="299.5" y1="885.9" x2="525.1" y2="885.9" stroke="#e6e6e6" stroke-width="2.6"/>
<line x1="299.5" y1="944.9" x2="525.1" y2="944.9" stroke="#e6e6e6" stroke-width="2.6"/>
<line x1="299.5" y1="1003.2" x2="525.1" y2="1003.2" stroke="#e6e6e6" stroke-width="2.6"/>
<circle cx="515.67" cy="977.44" r="5.2" fill="#c4b3f7" fill-opacity="0.59" stroke="#c4b3f7" stroke-opacity="0.59" stroke-width="1.8"/>
<circle cx="515.67" cy="977.44" r="5.2" fill="#c4b3f7" fill-opacity="0.59" stroke="#c4b3f7" stroke-opacity="0.59" stroke-width="1.8"/>
<circle cx="496.11" cy="981.89" r="5.2" fill="#c4b3f7" fill-opacity="0.59" stroke="#c4b3f7" stroke-opacity="0.59" stroke-width="1.8"/>
<circle cx="409.89" cy="983.67" r="5.2" fill="#c4b3f7" fill-opacity="0.59" stroke="#c4b3f7" stroke-opacity="0.59" stroke-width="1.8"/>
<circle cx="469.44" cy="987.22" r="5.2" fill="#c4b3f7" fill-opacity="0.59" stroke="#c4b3f7" stroke-opacity="0.59" stroke-width="1.8"/>
<circle cx="481.89" cy="987.22" r="5.2" fill="#c4b3f7" fill-opacity="0.59" stroke="#c4b3f7" stroke-opacity="0.59" stroke-width="1.8"/>
<circle cx="488.11" cy="986.33" r="5.2" fill="#c4b3f7" fill-opacity="0.59" stroke="#c4b3f7" stroke-opacity="0.59" stroke-width="1.8"/>
<circle cx="495.22" cy="987.22" r="5.2" fill="#c4b3f7" fill-opacity="0.59" stroke="#c4b3f7" stroke-opacity="0.59" stroke-width="1.8"/>
<circle cx="469.44" cy="991.67" r="5.2" fill="#c4b3f7" fill-opacity="0.59" stroke="#c4b3f7" stroke-opacity="0.59" stroke-width="1.8"/>
<circle cx="472.11" cy="994.33" r="5.2" fill="#c4b3f7" fill-opacity="0.59" stroke="#c4b3f7" stroke-opacity="0.59" stroke-width="1.8"/>
<circle cx="483.67" cy="997.53" r="5.2" fill="#c4b3f7" fill-opacity="0.59" stroke="#c4b3f7" stroke-opacity="0.59" stroke-width="1.8"/>
<circle cx="496.11" cy="989" r="5.2" fill="#c4b3f7" fill-opacity="0.59" stroke="#c4b3f7" stroke-opacity="0.59" stroke-width="1.8"/>
<circle cx="396.2" cy="991.67" r="5.2" fill="#c4b3f7" fill-opacity="0.59" stroke="#c4b3f7" stroke-opacity="0.59" stroke-width="1.8"/>
<circle cx="409.89" cy="992.91" r="5.2" fill="#c4b3f7" fill-opacity="0.59" stroke="#c4b3f7" stroke-opacity="0.59" stroke-width="1.8"/>
<circle cx="428.56" cy="991.67" r="5.2" fill="#c4b3f7" fill-opacity="0.59" stroke="#c4b3f7" stroke-opacity="0.59" stroke-width="1.8"/>
<circle cx="428.56" cy="997.53" r="5.2" fill="#c4b3f7" fill-opacity="0.59" stroke="#c4b3f7" stroke-opacity="0.59" stroke-width="1.8"/>
<circle cx="444.56" cy="991.67" r="5.2" fill="#c4b3f7" fill-opacity="0.59" stroke="#c4b3f7" stroke-opacity="0.59" stroke-width="1.8"/>
<circle cx="444.56" cy="997.53" r="5.2" fill="#c4b3f7" fill-opacity="0.59" stroke="#c4b3f7" stroke-opacity="0.59" stroke-width="1.8"/>
<circle cx="396.2" cy="1000.56" r="5.2" fill="#c4b3f7" fill-opacity="0.59" stroke="#c4b3f7" stroke-opacity="0.59" stroke-width="1.8"/>
<circle cx="325.44" cy="990.78" r="5.2" fill="#c4b3f7" fill-opacity="0.59" stroke="#c4b3f7" stroke-opacity="0.59" stroke-width="1.8"/>
<circle cx="325.44" cy="996.11" r="5.2" fill="#c4b3f7" fill-opacity="0.59" stroke="#c4b3f7" stroke-opacity="0.59" stroke-width="1.8"/>
<circle cx="337" cy="994.33" r="5.2" fill="#c4b3f7" fill-opacity="0.59" stroke="#c4b3f7" stroke-opacity="0.59" stroke-width="1.8"/>
<circle cx="337" cy="997" r="5.2" fill="#c4b3f7" fill-opacity="0.59" stroke="#c4b3f7" stroke-opacity="0.59" stroke-width="1.8"/>
<circle cx="309.44" cy="996.11" r="5.2" fill="#c4b3f7" fill-opacity="0.59" stroke="#c4b3f7" stroke-opacity="0.59" stroke-width="1.8"/>
<circle cx="309.44" cy="996.11" r="5.2" fill="#c4b3f7" fill-opacity="0.59" stroke="#c4b3f7" stroke-opacity="0.59" stroke-width="1.8"/>
<circle cx="310.33" cy="998.78" r="5.2" fill="#c4b3f7" fill-opacity="0.59" stroke="#c4b3f7" stroke-opacity="0.59" stroke-width="1.8"/>
<circle cx="492.56" cy="985.44" r="5.2" fill="#c4b3f7" fill-opacity="0.59" stroke="#c4b3f7" stroke-opacity="0.59" stroke-width="1.8"/>
<circle cx="478.33" cy="989" r="5.2" fill="#c4b3f7" fill-opacity="0.59" stroke="#c4b3f7" stroke-opacity="0.59" stroke-width="1.8"/>
<circle cx="496.11" cy="850.69" r="5.2" fill="#fea13c" fill-opacity="0.59" stroke="#fea13c" stroke-opacity="0.59" stroke-width="1.8"/>
<circle cx="515.67" cy="867.76" r="5.2" fill="#fea13c" fill-opacity="0.59" stroke="#fea13c" stroke-opacity="0.59" stroke-width="1.8"/>
<circle cx="515.67" cy="867.76" r="5.2" fill="#fea13c" fill-opacity="0.59" stroke="#fea13c" stroke-opacity="0.59" stroke-width="1.8"/>
<circle cx="483.67" cy="877.36" r="5.2" fill="#fea13c" fill-opacity="0.59" stroke="#fea13c" stroke-opacity="0.59" stroke-width="1.8"/>
<circle cx="496.11" cy="875.58" r="5.2" fill="#fea13c" fill-opacity="0.59" stroke="#fea13c" stroke-opacity="0.59" stroke-width="1.8"/>
<circle cx="444.56" cy="890.33" r="5.2" fill="#fea13c" fill-opacity="0.59" stroke="#fea13c" stroke-opacity="0.59" stroke-width="1.8"/>
<circle cx="469.44" cy="899.22" r="5.2" fill="#fea13c" fill-opacity="0.59" stroke="#fea13c" stroke-opacity="0.59" stroke-width="1.8"/>
<circle cx="483.67" cy="898.69" r="5.2" fill="#fea13c" fill-opacity="0.59" stroke="#fea13c" stroke-opacity="0.59" stroke-width="1.8"/>
<circle cx="494.69" cy="897.44" r="5.2" fill="#fea13c" fill-opacity="0.59" stroke="#fea13c" stroke-opacity="0.59" stroke-width="1.8"/>
<circle cx="396.2" cy="903.31" r="5.2" fill="#fea13c" fill-opacity="0.59" stroke="#fea13c" stroke-opacity="0.59" stroke-width="1.8"/>
<circle cx="428.56" cy="909" r="5.2" fill="#fea13c" fill-opacity="0.59" stroke="#fea13c" stroke-opacity="0.59" stroke-width="1.8"/>
<circle cx="494.69" cy="909" r="5.2" fill="#fea13c" fill-opacity="0.59" stroke="#fea13c" stroke-opacity="0.59" stroke-width="1.8"/>
<circle cx="469.09" cy="910.78" r="5.2" fill="#fea13c" fill-opacity="0.59" stroke="#fea13c" stroke-opacity="0.59" stroke-width="1.8"/>
<circle cx="480.11" cy="918.24" r="5.2" fill="#fea13c" fill-opacity="0.59" stroke="#fea13c" stroke-opacity="0.59" stroke-width="1.8"/>
<circle cx="488.11" cy="915.22" r="5.2" fill="#fea13c" fill-opacity="0.59" stroke="#fea13c" stroke-opacity="0.59" stroke-width="1.8"/>
<circle cx="488.11" cy="915.22" r="5.2" fill="#fea13c" fill-opacity="0.59" stroke="#fea13c" stroke-opacity="0.59" stroke-width="1.8"/>
<circle cx="396.2" cy="917" r="5.2" fill="#fea13c" fill-opacity="0.59" stroke="#fea13c" stroke-opacity="0.59" stroke-width="1.8"/>
<circle cx="428.56" cy="921.44" r="5.2" fill="#fea13c" fill-opacity="0.59" stroke="#fea13c" stroke-opacity="0.59" stroke-width="1.8"/>
<circle cx="444.56" cy="919.67" r="5.2" fill="#fea13c" fill-opacity="0.59" stroke="#fea13c" stroke-opacity="0.59" stroke-width="1.8"/>
<circle cx="480.11" cy="934.24" r="5.2" fill="#fea13c" fill-opacity="0.59" stroke="#fea13c" stroke-opacity="0.59" stroke-width="1.8"/>
<circle cx="472.11" cy="941" r="5.2" fill="#fea13c" fill-opacity="0.59" stroke="#fea13c" stroke-opacity="0.59" stroke-width="1.8"/>
<circle cx="472.11" cy="941" r="5.2" fill="#fea13c" fill-opacity="0.59" stroke="#fea13c" stroke-opacity="0.59" stroke-width="1.8"/>
<circle cx="409.89" cy="942.78" r="5.2" fill="#fea13c" fill-opacity="0.59" stroke="#fea13c" stroke-opacity="0.59" stroke-width="1.8"/>
<circle cx="409.89" cy="952.02" r="5.2" fill="#fea13c" fill-opacity="0.59" stroke="#fea13c" stroke-opacity="0.59" stroke-width="1.8"/>
<circle cx="337" cy="942.78" r="5.2" fill="#fea13c" fill-opacity="0.59" stroke="#fea13c" stroke-opacity="0.59" stroke-width="1.8"/>
<circle cx="337" cy="949" r="5.2" fill="#fea13c" fill-opacity="0.59" stroke="#fea13c" stroke-opacity="0.59" stroke-width="1.8"/>
<circle cx="310.33" cy="949" r="5.2" fill="#fea13c" fill-opacity="0.59" stroke="#fea13c" stroke-opacity="0.59" stroke-width="1.8"/>
<circle cx="309.44" cy="961.44" r="5.2" fill="#fea13c" fill-opacity="0.59" stroke="#fea13c" stroke-opacity="0.59" stroke-width="1.8"/>
<circle cx="309.44" cy="961.44" r="5.2" fill="#fea13c" fill-opacity="0.59" stroke="#fea13c" stroke-opacity="0.59" stroke-width="1.8"/>
<circle cx="309.09" cy="963.22" r="5.2" fill="#fea13c" fill-opacity="0.59" stroke="#fea13c" stroke-opacity="0.59" stroke-width="1.8"/>
<circle cx="325.44" cy="958.78" r="5.2" fill="#fea13c" fill-opacity="0.59" stroke="#fea13c" stroke-opacity="0.59" stroke-width="1.8"/>
<circle cx="325.44" cy="968.02" r="5.2" fill="#fea13c" fill-opacity="0.59" stroke="#fea13c" stroke-opacity="0.59" stroke-width="1.8"/>
<circle cx="515.67" cy="793.44" r="5.2" fill="#ec36f6" fill-opacity="0.59" stroke="#ec36f6" stroke-opacity="0.59" stroke-width="1.8"/>
<circle cx="488.11" cy="798.78" r="5.2" fill="#ec36f6" fill-opacity="0.59" stroke="#ec36f6" stroke-opacity="0.59" stroke-width="1.8"/>
<circle cx="483.67" cy="805" r="5.2" fill="#ec36f6" fill-opacity="0.59" stroke="#ec36f6" stroke-opacity="0.59" stroke-width="1.8"/>
<circle cx="495.22" cy="807.67" r="5.2" fill="#ec36f6" fill-opacity="0.59" stroke="#ec36f6" stroke-opacity="0.59" stroke-width="1.8"/>
<circle cx="496.11" cy="812.11" r="5.2" fill="#ec36f6" fill-opacity="0.59" stroke="#ec36f6" stroke-opacity="0.59" stroke-width="1.8"/>
<circle cx="495.22" cy="815.67" r="5.2" fill="#ec36f6" fill-opacity="0.59" stroke="#ec36f6" stroke-opacity="0.59" stroke-width="1.8"/>
<circle cx="515.67" cy="810.33" r="5.2" fill="#ec36f6" fill-opacity="0.59" stroke="#ec36f6" stroke-opacity="0.59" stroke-width="1.8"/>
<circle cx="444.56" cy="819.76" r="5.2" fill="#ec36f6" fill-opacity="0.59" stroke="#ec36f6" stroke-opacity="0.59" stroke-width="1.8"/>
<circle cx="469.44" cy="813.89" r="5.2" fill="#ec36f6" fill-opacity="0.59" stroke="#ec36f6" stroke-opacity="0.59" stroke-width="1.8"/>
<circle cx="469.09" cy="816.56" r="5.2" fill="#ec36f6" fill-opacity="0.59" stroke="#ec36f6" stroke-opacity="0.59" stroke-width="1.8"/>
<circle cx="480.11" cy="821.89" r="5.2" fill="#ec36f6" fill-opacity="0.59" stroke="#ec36f6" stroke-opacity="0.59" stroke-width="1.8"/>
<circle cx="481" cy="825.44" r="5.2" fill="#ec36f6" fill-opacity="0.59" stroke="#ec36f6" stroke-opacity="0.59" stroke-width="1.8"/>
<circle cx="489" cy="821" r="5.2" fill="#ec36f6" fill-opacity="0.59" stroke="#ec36f6" stroke-opacity="0.59" stroke-width="1.8"/>
<circle cx="483.67" cy="831.67" r="5.2" fill="#ec36f6" fill-opacity="0.59" stroke="#ec36f6" stroke-opacity="0.59" stroke-width="1.8"/>
<circle cx="494.33" cy="826.33" r="5.2" fill="#ec36f6" fill-opacity="0.59" stroke="#ec36f6" stroke-opacity="0.59" stroke-width="1.8"/>
<circle cx="472.11" cy="834.33" r="5.2" fill="#ec36f6" fill-opacity="0.59" stroke="#ec36f6" stroke-opacity="0.59" stroke-width="1.8"/>
<circle cx="472.11" cy="838.78" r="5.2" fill="#ec36f6" fill-opacity="0.59" stroke="#ec36f6" stroke-opacity="0.59" stroke-width="1.8"/>
<circle cx="409.89" cy="837.53" r="5.2" fill="#ec36f6" fill-opacity="0.59" stroke="#ec36f6" stroke-opacity="0.59" stroke-width="1.8"/>
<circle cx="444.56" cy="843.22" r="5.2" fill="#ec36f6" fill-opacity="0.59" stroke="#ec36f6" stroke-opacity="0.59" stroke-width="1.8"/>
<circle cx="396.2" cy="848.2" r="5.2" fill="#ec36f6" fill-opacity="0.59" stroke="#ec36f6" stroke-opacity="0.59" stroke-width="1.8"/>
<circle cx="428.56" cy="845.89" r="5.2" fill="#ec36f6" fill-opacity="0.59" stroke="#ec36f6" stroke-opacity="0.59" stroke-width="1.8"/>
<circle cx="428.56" cy="852.11" r="5.2" fill="#ec36f6" fill-opacity="0.59" stroke="#ec36f6" stroke-opacity="0.59" stroke-width="1.8"/>
<circle cx="409.89" cy="855.31" r="5.2" fill="#ec36f6" fill-opacity="0.59" stroke="#ec36f6" stroke-opacity="0.59" stroke-width="1.8"/>
<circle cx="396.2" cy="862.78" r="5.2" fill="#ec36f6" fill-opacity="0.59" stroke="#ec36f6" stroke-opacity="0.59" stroke-width="1.8"/>
<circle cx="337" cy="903.31" r="5.2" fill="#ec36f6" fill-opacity="0.59" stroke="#ec36f6" stroke-opacity="0.59" stroke-width="1.8"/>
<circle cx="337" cy="903.31" r="5.2" fill="#ec36f6" fill-opacity="0.59" stroke="#ec36f6" stroke-opacity="0.59" stroke-width="1.8"/>
<circle cx="309.44" cy="917" r="5.2" fill="#ec36f6" fill-opacity="0.59" stroke="#ec36f6" stroke-opacity="0.59" stroke-width="1.8"/>
<circle cx="309.09" cy="921.44" r="5.2" fill="#ec36f6" fill-opacity="0.59" stroke="#ec36f6" stroke-opacity="0.59" stroke-width="1.8"/>
<circle cx="309.44" cy="924.11" r="5.2" fill="#ec36f6" fill-opacity="0.59" stroke="#ec36f6" stroke-opacity="0.59" stroke-width="1.8"/>
<circle cx="310.33" cy="930.33" r="5.2" fill="#ec36f6" fill-opacity="0.59" stroke="#ec36f6" stroke-opacity="0.59" stroke-width="1.8"/>
<circle cx="325.44" cy="917" r="5.2" fill="#ec36f6" fill-opacity="0.59" stroke="#ec36f6" stroke-opacity="0.59" stroke-width="1.8"/>
<circle cx="325.44" cy="921.44" r="5.2" fill="#ec36f6" fill-opacity="0.59" stroke="#ec36f6" stroke-opacity="0.59" stroke-width="1.8"/>
<line x1="546.1" y1="784.1" x2="546.1" y2="1009.8" stroke="#e6e6e6" stroke-width="1.4"/>
<line x1="593.2" y1="784.1" x2="593.2" y2="1009.8" stroke="#e6e6e6" stroke-width="1.4"/>
<line x1="640.3" y1="784.1" x2="640.3" y2="1009.8" stroke="#e6e6e6" stroke-width="1.4"/>
<line x1="687.4" y1="784.1" x2="687.4" y2="1009.8" stroke="#e6e6e6" stroke-width="1.4"/>
<line x1="734.6" y1="784.1" x2="734.6" y2="1009.8" stroke="#e6e6e6" stroke-width="1.4"/>
<line x1="541.2" y1="797.9" x2="766.8" y2="797.9" stroke="#e6e6e6" stroke-width="1.4"/>
<line x1="541.2" y1="857.1" x2="766.8" y2="857.1" stroke="#e6e6e6" stroke-width="1.4"/>
<line x1="541.2" y1="915.6" x2="766.8" y2="915.6" stroke="#e6e6e6" stroke-width="1.4"/>
<line x1="541.2" y1="974.8" x2="766.8" y2="974.8" stroke="#e6e6e6" stroke-width="1.4"/>
<line x1="569.2" y1="784.1" x2="569.2" y2="1009.8" stroke="#e6e6e6" stroke-width="2.6"/>
<line x1="616.3" y1="784.1" x2="616.3" y2="1009.8" stroke="#e6e6e6" stroke-width="2.6"/>
<line x1="663.4" y1="784.1" x2="663.4" y2="1009.8" stroke="#e6e6e6" stroke-width="2.6"/>
<line x1="710.6" y1="784.1" x2="710.6" y2="1009.8" stroke="#e6e6e6" stroke-width="2.6"/>
<line x1="757.7" y1="784.1" x2="757.7" y2="1009.8" stroke="#e6e6e6" stroke-width="2.6"/>
<line x1="541.2" y1="827.6" x2="766.8" y2="827.6" stroke="#e6e6e6" stroke-width="2.6"/>
<line x1="541.2" y1="885.9" x2="766.8" y2="885.9" stroke="#e6e6e6" stroke-width="2.6"/>
<line x1="541.2" y1="944.9" x2="766.8" y2="944.9" stroke="#e6e6e6" stroke-width="2.6"/>
<line x1="541.2" y1="1003.2" x2="766.8" y2="1003.2" stroke="#e6e6e6" stroke-width="2.6"/>
<circle cx="653.67" cy="976.56" r="5.2" fill="#c4b3f7" fill-opacity="0.59" stroke="#c4b3f7" stroke-opacity="0.59" stroke-width="1.8"/>
<circle cx="663.44" cy="977.44" r="5.2" fill="#c4b3f7" fill-opacity="0.59" stroke="#c4b3f7" stroke-opacity="0.59" stroke-width="1.8"/>
<circle cx="672.69" cy="981.89" r="5.2" fill="#c4b3f7" fill-opacity="0.59" stroke="#c4b3f7" stroke-opacity="0.59" stroke-width="1.8"/>
<circle cx="682.11" cy="984.56" r="5.2" fill="#c4b3f7" fill-opacity="0.59" stroke="#c4b3f7" stroke-opacity="0.59" stroke-width="1.8"/>
<circle cx="700.78" cy="986.33" r="5.2" fill="#c4b3f7" fill-opacity="0.59" stroke="#c4b3f7" stroke-opacity="0.59" stroke-width="1.8"/>
<circle cx="643.89" cy="989.89" r="5.2" fill="#c4b3f7" fill-opacity="0.59" stroke="#c4b3f7" stroke-opacity="0.59" stroke-width="1.8"/>
<circle cx="653.67" cy="987.22" r="5.2" fill="#c4b3f7" fill-opacity="0.59" stroke="#c4b3f7" stroke-opacity="0.59" stroke-width="1.8"/>
<circle cx="653.67" cy="992.56" r="5.2" fill="#c4b3f7" fill-opacity="0.59" stroke="#c4b3f7" stroke-opacity="0.59" stroke-width="1.8"/>
<circle cx="653.67" cy="997" r="5.2" fill="#c4b3f7" fill-opacity="0.59" stroke="#c4b3f7" stroke-opacity="0.59" stroke-width="1.8"/>
<circle cx="663.44" cy="988.11" r="5.2" fill="#c4b3f7" fill-opacity="0.59" stroke="#c4b3f7" stroke-opacity="0.59" stroke-width="1.8"/>
<circle cx="663.44" cy="992.56" r="5.2" fill="#c4b3f7" fill-opacity="0.59" stroke="#c4b3f7" stroke-opacity="0.59" stroke-width="1.8"/>
<circle cx="672.69" cy="990.78" r="5.2" fill="#c4b3f7" fill-opacity="0.59" stroke="#c4b3f7" stroke-opacity="0.59" stroke-width="1.8"/>
<circle cx="672.69" cy="995.22" r="5.2" fill="#c4b3f7" fill-opacity="0.59" stroke="#c4b3f7" stroke-opacity="0.59" stroke-width="1.8"/>
<circle cx="682.11" cy="989.89" r="5.2" fill="#c4b3f7" fill-opacity="0.59" stroke="#c4b3f7" stroke-opacity="0.59" stroke-width="1.8"/>
<circle cx="682.11" cy="994.33" r="5.2" fill="#c4b3f7" fill-opacity="0.59" stroke="#c4b3f7" stroke-opacity="0.59" stroke-width="1.8"/>
<circle cx="682.11" cy="998.78" r="5.2" fill="#c4b3f7" fill-opacity="0.59" stroke="#c4b3f7" stroke-opacity="0.59" stroke-width="1.8"/>
<circle cx="691" cy="990.78" r="5.2" fill="#c4b3f7" fill-opacity="0.59" stroke="#c4b3f7" stroke-opacity="0.59" stroke-width="1.8"/>
<circle cx="691" cy="995.22" r="5.2" fill="#c4b3f7" fill-opacity="0.59" stroke="#c4b3f7" stroke-opacity="0.59" stroke-width="1.8"/>
<circle cx="691" cy="1000.56" r="5.2" fill="#c4b3f7" fill-opacity="0.59" stroke="#c4b3f7" stroke-opacity="0.59" stroke-width="1.8"/>
<circle cx="700.78" cy="992.56" r="5.2" fill="#c4b3f7" fill-opacity="0.59" stroke="#c4b3f7" stroke-opacity="0.59" stroke-width="1.8"/>
<circle cx="700.78" cy="997" r="5.2" fill="#c4b3f7" fill-opacity="0.59" stroke="#c4b3f7" stroke-opacity="0.59" stroke-width="1.8"/>
<circle cx="653.67" cy="983.67" r="5.2" fill="#c4b3f7" fill-opacity="0.59" stroke="#c4b3f7" stroke-opacity="0.59" stroke-width="1.8"/>
<circle cx="663.44" cy="983.67" r="5.2" fill="#c4b3f7" fill-opacity="0.59" stroke="#c4b3f7" stroke-opacity="0.59" stroke-width="1.8"/>
<circle cx="677.67" cy="992.56" r="5.2" fill="#c4b3f7" fill-opacity="0.59" stroke="#c4b3f7" stroke-opacity="0.59" stroke-width="1.8"/>
<circle cx="686.56" cy="996.11" r="5.2" fill="#c4b3f7" fill-opacity="0.59" stroke="#c4b3f7" stroke-opacity="0.59" stroke-width="1.8"/>
<circle cx="695.44" cy="997.89" r="5.2" fill="#c4b3f7" fill-opacity="0.59" stroke="#c4b3f7" stroke-opacity="0.59" stroke-width="1.8"/>
<circle cx="658.11" cy="989.89" r="5.2" fill="#c4b3f7" fill-opacity="0.59" stroke="#c4b3f7" stroke-opacity="0.59" stroke-width="1.8"/>
<circle cx="667.89" cy="989.89" r="5.2" fill="#c4b3f7" fill-opacity="0.59" stroke="#c4b3f7" stroke-opacity="0.59" stroke-width="1.8"/>
<circle cx="677.67" cy="988.11" r="5.2" fill="#c4b3f7" fill-opacity="0.59" stroke="#c4b3f7" stroke-opacity="0.59" stroke-width="1.8"/>
<circle cx="686.56" cy="990.78" r="5.2" fill="#c4b3f7" fill-opacity="0.59" stroke="#c4b3f7" stroke-opacity="0.59" stroke-width="1.8"/>
<circle cx="700.78" cy="850.69" r="5.2" fill="#fea13c" fill-opacity="0.59" stroke="#fea13c" stroke-opacity="0.59" stroke-width="1.8"/>
<circle cx="700.78" cy="867.76" r="5.2" fill="#fea13c" fill-opacity="0.59" stroke="#fea13c" stroke-opacity="0.59" stroke-width="1.8"/>
<circle cx="700.78" cy="867.76" r="5.2" fill="#fea13c" fill-opacity="0.59" stroke="#fea13c" stroke-opacity="0.59" stroke-width="1.8"/>
<circle cx="710.56" cy="877.36" r="5.2" fill="#fea13c" fill-opacity="0.59" stroke="#fea13c" stroke-opacity="0.59" stroke-width="1.8"/>
<circle cx="719.44" cy="876.11" r="5.2" fill="#fea13c" fill-opacity="0.59" stroke="#fea13c" stroke-opacity="0.59" stroke-width="1.8"/>
<circle cx="719.44" cy="889.8" r="5.2" fill="#fea13c" fill-opacity="0.59" stroke="#fea13c" stroke-opacity="0.59" stroke-width="1.8"/>
<circle cx="710.56" cy="897.44" r="5.2" fill="#fea13c" fill-opacity="0.59" stroke="#fea13c" stroke-opacity="0.59" stroke-width="1.8"/>
<circle cx="719.44" cy="899.22" r="5.2" fill="#fea13c" fill-opacity="0.59" stroke="#fea13c" stroke-opacity="0.59" stroke-width="1.8"/>
<circle cx="719.44" cy="903.67" r="5.2" fill="#fea13c" fill-opacity="0.59" stroke="#fea13c" stroke-opacity="0.59" stroke-width="1.8"/>
<circle cx="672.69" cy="898.69" r="5.2" fill="#fea13c" fill-opacity="0.59" stroke="#fea13c" stroke-opacity="0.59" stroke-width="1.8"/>
<circle cx="672.69" cy="910.42" r="5.2" fill="#fea13c" fill-opacity="0.59" stroke="#fea13c" stroke-opacity="0.59" stroke-width="1.8"/>
<circle cx="682.11" cy="915.22" r="5.2" fill="#fea13c" fill-opacity="0.59" stroke="#fea13c" stroke-opacity="0.59" stroke-width="1.8"/>
<circle cx="691" cy="909" r="5.2" fill="#fea13c" fill-opacity="0.59" stroke="#fea13c" stroke-opacity="0.59" stroke-width="1.8"/>
<circle cx="710.56" cy="908.64" r="5.2" fill="#fea13c" fill-opacity="0.59" stroke="#fea13c" stroke-opacity="0.59" stroke-width="1.8"/>
<circle cx="710.56" cy="917.89" r="5.2" fill="#fea13c" fill-opacity="0.59" stroke="#fea13c" stroke-opacity="0.59" stroke-width="1.8"/>
<circle cx="710.56" cy="920.56" r="5.2" fill="#fea13c" fill-opacity="0.59" stroke="#fea13c" stroke-opacity="0.59" stroke-width="1.8"/>
<circle cx="710.56" cy="920.56" r="5.2" fill="#fea13c" fill-opacity="0.59" stroke="#fea13c" stroke-opacity="0.59" stroke-width="1.8"/>
<circle cx="728.87" cy="915.22" r="5.2" fill="#fea13c" fill-opacity="0.59" stroke="#fea13c" stroke-opacity="0.59" stroke-width="1.8"/>
<circle cx="728.87" cy="915.22" r="5.2" fill="#fea13c" fill-opacity="0.59" stroke="#fea13c" stroke-opacity="0.59" stroke-width="1.8"/>
<circle cx="757.67" cy="919.67" r="5.2" fill="#fea13c" fill-opacity="0.59" stroke="#fea13c" stroke-opacity="0.59" stroke-width="1.8"/>
<circle cx="710.56" cy="933.89" r="5.2" fill="#fea13c" fill-opacity="0.59" stroke="#fea13c" stroke-opacity="0.59" stroke-width="1.8"/>
<circle cx="710.56" cy="940.11" r="5.2" fill="#fea13c" fill-opacity="0.59" stroke="#fea13c" stroke-opacity="0.59" stroke-width="1.8"/>
<circle cx="700.78" cy="941.36" r="5.2" fill="#fea13c" fill-opacity="0.59" stroke="#fea13c" stroke-opacity="0.59" stroke-width="1.8"/>
<circle cx="691" cy="943.13" r="5.2" fill="#fea13c" fill-opacity="0.59" stroke="#fea13c" stroke-opacity="0.59" stroke-width="1.8"/>
<circle cx="682.11" cy="949" r="5.2" fill="#fea13c" fill-opacity="0.59" stroke="#fea13c" stroke-opacity="0.59" stroke-width="1.8"/>
<circle cx="663.44" cy="949" r="5.2" fill="#fea13c" fill-opacity="0.59" stroke="#fea13c" stroke-opacity="0.59" stroke-width="1.8"/>
<circle cx="710.56" cy="952.02" r="5.2" fill="#fea13c" fill-opacity="0.59" stroke="#fea13c" stroke-opacity="0.59" stroke-width="1.8"/>
<circle cx="635" cy="943.13" r="5.2" fill="#fea13c" fill-opacity="0.59" stroke="#fea13c" stroke-opacity="0.59" stroke-width="1.8"/>
<circle cx="635" cy="961.44" r="5.2" fill="#fea13c" fill-opacity="0.59" stroke="#fea13c" stroke-opacity="0.59" stroke-width="1.8"/>
<circle cx="635" cy="961.44" r="5.2" fill="#fea13c" fill-opacity="0.59" stroke="#fea13c" stroke-opacity="0.59" stroke-width="1.8"/>
<circle cx="625.76" cy="958.78" r="5.2" fill="#fea13c" fill-opacity="0.59" stroke="#fea13c" stroke-opacity="0.59" stroke-width="1.8"/>
<circle cx="625.76" cy="963.22" r="5.2" fill="#fea13c" fill-opacity="0.59" stroke="#fea13c" stroke-opacity="0.59" stroke-width="1.8"/>
<circle cx="616.33" cy="968.02" r="5.2" fill="#fea13c" fill-opacity="0.59" stroke="#fea13c" stroke-opacity="0.59" stroke-width="1.8"/>
<circle cx="738.11" cy="793.44" r="5.2" fill="#ec36f6" fill-opacity="0.59" stroke="#ec36f6" stroke-opacity="0.59" stroke-width="1.8"/>
<circle cx="738.11" cy="799.67" r="5.2" fill="#ec36f6" fill-opacity="0.59" stroke="#ec36f6" stroke-opacity="0.59" stroke-width="1.8"/>
<circle cx="719.44" cy="804.11" r="5.2" fill="#ec36f6" fill-opacity="0.59" stroke="#ec36f6" stroke-opacity="0.59" stroke-width="1.8"/>
<circle cx="719.44" cy="808.56" r="5.2" fill="#ec36f6" fill-opacity="0.59" stroke="#ec36f6" stroke-opacity="0.59" stroke-width="1.8"/>
<circle cx="728.87" cy="811.22" r="5.2" fill="#ec36f6" fill-opacity="0.59" stroke="#ec36f6" stroke-opacity="0.59" stroke-width="1.8"/>
<circle cx="728.87" cy="816.56" r="5.2" fill="#ec36f6" fill-opacity="0.59" stroke="#ec36f6" stroke-opacity="0.59" stroke-width="1.8"/>
<circle cx="700.78" cy="813.89" r="5.2" fill="#ec36f6" fill-opacity="0.59" stroke="#ec36f6" stroke-opacity="0.59" stroke-width="1.8"/>
<circle cx="710.56" cy="814.78" r="5.2" fill="#ec36f6" fill-opacity="0.59" stroke="#ec36f6" stroke-opacity="0.59" stroke-width="1.8"/>
<circle cx="700.78" cy="819.22" r="5.2" fill="#ec36f6" fill-opacity="0.59" stroke="#ec36f6" stroke-opacity="0.59" stroke-width="1.8"/>
<circle cx="700.78" cy="819.22" r="5.2" fill="#ec36f6" fill-opacity="0.59" stroke="#ec36f6" stroke-opacity="0.59" stroke-width="1.8"/>
<circle cx="700.78" cy="823.67" r="5.2" fill="#ec36f6" fill-opacity="0.59" stroke="#ec36f6" stroke-opacity="0.59" stroke-width="1.8"/>
<circle cx="710.56" cy="825.44" r="5.2" fill="#ec36f6" fill-opacity="0.59" stroke="#ec36f6" stroke-opacity="0.59" stroke-width="1.8"/>
<circle cx="691" cy="825.44" r="5.2" fill="#ec36f6" fill-opacity="0.59" stroke="#ec36f6" stroke-opacity="0.59" stroke-width="1.8"/>
<circle cx="691" cy="834.33" r="5.2" fill="#ec36f6" fill-opacity="0.59" stroke="#ec36f6" stroke-opacity="0.59" stroke-width="1.8"/>
<circle cx="700.78" cy="833.44" r="5.2" fill="#ec36f6" fill-opacity="0.59" stroke="#ec36f6" stroke-opacity="0.59" stroke-width="1.8"/>
<circle cx="700.78" cy="837.89" r="5.2" fill="#ec36f6" fill-opacity="0.59" stroke="#ec36f6" stroke-opacity="0.59" stroke-width="1.8"/>
<circle cx="682.11" cy="838.78" r="5.2" fill="#ec36f6" fill-opacity="0.59" stroke="#ec36f6" stroke-opacity="0.59" stroke-width="1.8"/>
<circle cx="691" cy="843.22" r="5.2" fill="#ec36f6" fill-opacity="0.59" stroke="#ec36f6" stroke-opacity="0.59" stroke-width="1.8"/>
<circle cx="682.11" cy="847.67" r="5.2" fill="#ec36f6" fill-opacity="0.59" stroke="#ec36f6" stroke-opacity="0.59" stroke-width="1.8"/>
<circle cx="682.11" cy="853.89" r="5.2" fill="#ec36f6" fill-opacity="0.59" stroke="#ec36f6" stroke-opacity="0.59" stroke-width="1.8"/>
<circle cx="710.56" cy="846.42" r="5.2" fill="#ec36f6" fill-opacity="0.59" stroke="#ec36f6" stroke-opacity="0.59" stroke-width="1.8"/>
<circle cx="719.44" cy="852.11" r="5.2" fill="#ec36f6" fill-opacity="0.59" stroke="#ec36f6" stroke-opacity="0.59" stroke-width="1.8"/>
<circle cx="691" cy="862.78" r="5.2" fill="#ec36f6" fill-opacity="0.59" stroke="#ec36f6" stroke-opacity="0.59" stroke-width="1.8"/>
<circle cx="597.67" cy="903.31" r="5.2" fill="#ec36f6" fill-opacity="0.59" stroke="#ec36f6" stroke-opacity="0.59" stroke-width="1.8"/>
<circle cx="597.67" cy="903.31" r="5.2" fill="#ec36f6" fill-opacity="0.59" stroke="#ec36f6" stroke-opacity="0.59" stroke-width="1.8"/>
<circle cx="559.98" cy="916.11" r="5.2" fill="#ec36f6" fill-opacity="0.59" stroke="#ec36f6" stroke-opacity="0.59" stroke-width="1.8"/>
<circle cx="569.58" cy="916.47" r="5.2" fill="#ec36f6" fill-opacity="0.59" stroke="#ec36f6" stroke-opacity="0.59" stroke-width="1.8"/>
<circle cx="559.98" cy="921.44" r="5.2" fill="#ec36f6" fill-opacity="0.59" stroke="#ec36f6" stroke-opacity="0.59" stroke-width="1.8"/>
<circle cx="559.98" cy="921.44" r="5.2" fill="#ec36f6" fill-opacity="0.59" stroke="#ec36f6" stroke-opacity="0.59" stroke-width="1.8"/>
<circle cx="559.98" cy="924.11" r="5.2" fill="#ec36f6" fill-opacity="0.59" stroke="#ec36f6" stroke-opacity="0.59" stroke-width="1.8"/>
<circle cx="550.56" cy="929.98" r="5.2" fill="#ec36f6" fill-opacity="0.59" stroke="#ec36f6" stroke-opacity="0.59" stroke-width="1.8"/>
<line x1="1024.9" y1="249.7" x2="1250.5" y2="249.7" stroke="#e6e6e6" stroke-width="1.4"/>
<line x1="1024.9" y1="204.3" x2="1250.5" y2="204.3" stroke="#e6e6e6" stroke-width="1.4"/>
<line x1="1024.9" y1="159.9" x2="1250.5" y2="159.9" stroke="#e6e6e6" stroke-width="1.4"/>
<line x1="1024.9" y1="114.6" x2="1250.5" y2="114.6" stroke="#e6e6e6" stroke-width="1.4"/>
<line x1="1024.9" y1="70.1" x2="1250.5" y2="70.1" stroke="#e6e6e6" stroke-width="1.4"/>
<line x1="1066.6" y1="57.7" x2="1066.6" y2="284.2" stroke="#e6e6e6" stroke-width="2.6"/>
<line x1="1137.7" y1="57.7" x2="1137.7" y2="284.2" stroke="#e6e6e6" stroke-width="2.6"/>
<line x1="1208.8" y1="57.7" x2="1208.8" y2="284.2" stroke="#e6e6e6" stroke-width="2.6"/>
<line x1="1024.9" y1="271.9" x2="1250.5" y2="271.9" stroke="#e6e6e6" stroke-width="2.6"/>
<line x1="1024.9" y1="226.6" x2="1250.5" y2="226.6" stroke="#e6e6e6" stroke-width="2.6"/>
<line x1="1024.9" y1="182.1" x2="1250.5" y2="182.1" stroke="#e6e6e6" stroke-width="2.6"/>
<line x1="1024.9" y1="137.1" x2="1250.5" y2="137.1" stroke="#e6e6e6" stroke-width="2.6"/>
<line x1="1024.9" y1="92.3" x2="1250.5" y2="92.3" stroke="#e6e6e6" stroke-width="2.6"/>
<line x1="1066.6" y1="78.1" x2="1066.6" y2="118.1" stroke="#2a2a2a" stroke-width="2.5"/>
<line x1="1066.6" y1="186.2" x2="1066.6" y2="226.6" stroke="#2a2a2a" stroke-width="2.5"/>
<rect x="1039.95" y="118.1" width="53.3" height="68.1" fill="#c4b3f7" fill-opacity="0.59" stroke="#2a2a2a" stroke-width="2.5"/>
<line x1="1039.95" y1="150.6" x2="1093.25" y2="150.6" stroke="#2a2a2a" stroke-width="4.6"/>
<line x1="1137.7" y1="68.3" x2="1137.7" y2="79.9" stroke="#2a2a2a" stroke-width="2.5"/>
<line x1="1137.7" y1="158.1" x2="1137.7" y2="223" stroke="#2a2a2a" stroke-width="2.5"/>
<rect x="1111.05" y="79.9" width="53.3" height="78.2" fill="#fea13c" fill-opacity="0.59" stroke="#2a2a2a" stroke-width="2.5"/>
<line x1="1111.05" y1="107.4" x2="1164.35" y2="107.4" stroke="#2a2a2a" stroke-width="4.6"/>
<line x1="1208.8" y1="114.6" x2="1208.8" y2="136.4" stroke="#2a2a2a" stroke-width="2.5"/>
<line x1="1208.8" y1="206.5" x2="1208.8" y2="273.7" stroke="#2a2a2a" stroke-width="2.5"/>
<rect x="1182.15" y="136.4" width="53.3" height="70.1" fill="#ec36f6" fill-opacity="0.59" stroke="#2a2a2a" stroke-width="2.5"/>
<line x1="1182.15" y1="165.6" x2="1235.45" y2="165.6" stroke="#2a2a2a" stroke-width="4.6"/>
<line x1="1024.9" y1="575.4" x2="1250.5" y2="575.4" stroke="#e6e6e6" stroke-width="1.4"/>
<line x1="1024.9" y1="621.7" x2="1250.5" y2="621.7" stroke="#e6e6e6" stroke-width="1.4"/>
<line x1="1024.9" y1="668.8" x2="1250.5" y2="668.8" stroke="#e6e6e6" stroke-width="1.4"/>
<line x1="1024.9" y1="715.9" x2="1250.5" y2="715.9" stroke="#e6e6e6" stroke-width="1.4"/>
<line x1="1024.9" y1="762.6" x2="1250.5" y2="762.6" stroke="#e6e6e6" stroke-width="1.4"/>
<line x1="1066.6" y1="542.1" x2="1066.6" y2="767.9" stroke="#e6e6e6" stroke-width="2.6"/>
<line x1="1137.7" y1="542.1" x2="1137.7" y2="767.9" stroke="#e6e6e6" stroke-width="2.6"/>
<line x1="1208.8" y1="542.1" x2="1208.8" y2="767.9" stroke="#e6e6e6" stroke-width="2.6"/>
<line x1="1024.9" y1="551.4" x2="1250.5" y2="551.4" stroke="#e6e6e6" stroke-width="2.6"/>
<line x1="1024.9" y1="598.6" x2="1250.5" y2="598.6" stroke="#e6e6e6" stroke-width="2.6"/>
<line x1="1024.9" y1="645.7" x2="1250.5" y2="645.7" stroke="#e6e6e6" stroke-width="2.6"/>
<line x1="1024.9" y1="692.2" x2="1250.5" y2="692.2" stroke="#e6e6e6" stroke-width="2.6"/>
<line x1="1024.9" y1="739.4" x2="1250.5" y2="739.4" stroke="#e6e6e6" stroke-width="2.6"/>
<line x1="1066.6" y1="608.3" x2="1066.6" y2="624.7" stroke="#2a2a2a" stroke-width="2.5"/>
<line x1="1066.6" y1="654.9" x2="1066.6" y2="664.3" stroke="#2a2a2a" stroke-width="2.5"/>
<rect x="1039.95" y="624.7" width="53.3" height="30.2" fill="#c4b3f7" fill-opacity="0.59" stroke="#2a2a2a" stroke-width="2.5"/>
<line x1="1039.95" y1="635.9" x2="1093.25" y2="635.9" stroke="#2a2a2a" stroke-width="4.6"/>
<line x1="1137.7" y1="552.3" x2="1137.7" y2="598.6" stroke="#2a2a2a" stroke-width="2.5"/>
<line x1="1137.7" y1="635.9" x2="1137.7" y2="692.2" stroke="#2a2a2a" stroke-width="2.5"/>
<rect x="1111.05" y="598.6" width="53.3" height="37.3" fill="#fea13c" fill-opacity="0.59" stroke="#2a2a2a" stroke-width="2.5"/>
<line x1="1111.05" y1="608" x2="1164.35" y2="608" stroke="#2a2a2a" stroke-width="4.6"/>
<line x1="1208.8" y1="571" x2="1208.8" y2="596.2" stroke="#2a2a2a" stroke-width="2.5"/>
<line x1="1208.8" y1="647.4" x2="1208.8" y2="710.6" stroke="#2a2a2a" stroke-width="2.5"/>
<rect x="1182.15" y="596.2" width="53.3" height="51.2" fill="#ec36f6" fill-opacity="0.59" stroke="#2a2a2a" stroke-width="2.5"/>
<line x1="1182.15" y1="608" x2="1235.45" y2="608" stroke="#2a2a2a" stroke-width="4.6"/>
<circle cx="1208.8" cy="739.4" r="5.4" fill="#333" fill-opacity="0.59" stroke="#333" stroke-opacity="0.59" stroke-width="1.4"/>
<circle cx="1208.8" cy="748.8" r="5.4" fill="#333" fill-opacity="0.59" stroke="#333" stroke-opacity="0.59" stroke-width="1.4"/>
<circle cx="1208.8" cy="748.8" r="5.4" fill="#333" fill-opacity="0.59" stroke="#333" stroke-opacity="0.59" stroke-width="1.4"/>
<circle cx="1208.8" cy="748.8" r="5.4" fill="#333" fill-opacity="0.59" stroke="#333" stroke-opacity="0.59" stroke-width="1.4"/>
<circle cx="1208.8" cy="758.6" r="5.4" fill="#333" fill-opacity="0.59" stroke="#333" stroke-opacity="0.59" stroke-width="1.4"/>
<line x1="1024.9" y1="797.9" x2="1250.5" y2="797.9" stroke="#e6e6e6" stroke-width="1.4"/>
<line x1="1024.9" y1="857.1" x2="1250.5" y2="857.1" stroke="#e6e6e6" stroke-width="1.4"/>
<line x1="1024.9" y1="915.6" x2="1250.5" y2="915.6" stroke="#e6e6e6" stroke-width="1.4"/>
<line x1="1024.9" y1="974.8" x2="1250.5" y2="974.8" stroke="#e6e6e6" stroke-width="1.4"/>
<line x1="1066.6" y1="784.1" x2="1066.6" y2="1009.8" stroke="#e6e6e6" stroke-width="2.6"/>
<line x1="1137.7" y1="784.1" x2="1137.7" y2="1009.8" stroke="#e6e6e6" stroke-width="2.6"/>
<line x1="1208.8" y1="784.1" x2="1208.8" y2="1009.8" stroke="#e6e6e6" stroke-width="2.6"/>
<line x1="1024.9" y1="827.6" x2="1250.5" y2="827.6" stroke="#e6e6e6" stroke-width="2.6"/>
<line x1="1024.9" y1="885.9" x2="1250.5" y2="885.9" stroke="#e6e6e6" stroke-width="2.6"/>
<line x1="1024.9" y1="944.9" x2="1250.5" y2="944.9" stroke="#e6e6e6" stroke-width="2.6"/>
<line x1="1024.9" y1="1003.2" x2="1250.5" y2="1003.2" stroke="#e6e6e6" stroke-width="2.6"/>
<line x1="1066.6" y1="977" x2="1066.6" y2="987" stroke="#2a2a2a" stroke-width="2.5"/>
<line x1="1066.6" y1="996.1" x2="1066.6" y2="1000.3" stroke="#2a2a2a" stroke-width="2.5"/>
<rect x="1039.95" y="987" width="53.3" height="9.1" fill="#c4b3f7" fill-opacity="0.59" stroke="#2a2a2a" stroke-width="2.5"/>
<line x1="1039.95" y1="991" x2="1093.25" y2="991" stroke="#2a2a2a" stroke-width="6.2"/>
<line x1="1137.7" y1="851.8" x2="1137.7" y2="899.2" stroke="#2a2a2a" stroke-width="2.5"/>
<line x1="1137.7" y1="944.6" x2="1137.7" y2="967.7" stroke="#2a2a2a" stroke-width="2.5"/>
<rect x="1111.05" y="899.2" width="53.3" height="45.4" fill="#fea13c" fill-opacity="0.59" stroke="#2a2a2a" stroke-width="2.5"/>
<line x1="1111.05" y1="917.5" x2="1164.35" y2="917.5" stroke="#2a2a2a" stroke-width="4.6"/>
<line x1="1208.8" y1="793.8" x2="1208.8" y2="816.6" stroke="#2a2a2a" stroke-width="2.5"/>
<line x1="1208.8" y1="873.1" x2="1208.8" y2="929.4" stroke="#2a2a2a" stroke-width="2.5"/>
<rect x="1182.15" y="816.6" width="53.3" height="56.5" fill="#ec36f6" fill-opacity="0.59" stroke="#2a2a2a" stroke-width="2.5"/>
<line x1="1182.15" y1="836.5" x2="1235.45" y2="836.5" stroke="#2a2a2a" stroke-width="4.6"/>
<line x1="92.2" y1="1026.2" x2="92.2" y2="1090.5" stroke="#e6e6e6" stroke-width="1.4"/>
<line x1="135.7" y1="1026.2" x2="135.7" y2="1090.5" stroke="#e6e6e6" stroke-width="1.4"/>
<line x1="179.2" y1="1026.2" x2="179.2" y2="1090.5" stroke="#e6e6e6" stroke-width="1.4"/>
<line x1="222.6" y1="1026.2" x2="222.6" y2="1090.5" stroke="#e6e6e6" stroke-width="1.4"/>
<line x1="266.1" y1="1026.2" x2="266.1" y2="1090.5" stroke="#e6e6e6" stroke-width="1.4"/>
<line x1="57.8" y1="1079.53" x2="283.4" y2="1079.53" stroke="#e6e6e6" stroke-width="1.4"/>
<line x1="57.8" y1="1062.39" x2="283.4" y2="1062.39" stroke="#e6e6e6" stroke-width="1.4"/>
<line x1="57.8" y1="1045.24" x2="283.4" y2="1045.24" stroke="#e6e6e6" stroke-width="1.4"/>
<line x1="57.8" y1="1028.1" x2="283.4" y2="1028.1" stroke="#e6e6e6" stroke-width="1.4"/>
<line x1="70.1" y1="1026.2" x2="70.1" y2="1090.5" stroke="#e6e6e6" stroke-width="2.6"/>
<line x1="113.5" y1="1026.2" x2="113.5" y2="1090.5" stroke="#e6e6e6" stroke-width="2.6"/>
<line x1="157" y1="1026.2" x2="157" y2="1090.5" stroke="#e6e6e6" stroke-width="2.6"/>
<line x1="201.3" y1="1026.2" x2="201.3" y2="1090.5" stroke="#e6e6e6" stroke-width="2.6"/>
<line x1="244.4" y1="1026.2" x2="244.4" y2="1090.5" stroke="#e6e6e6" stroke-width="2.6"/>
<line x1="57.8" y1="1088.1" x2="283.4" y2="1088.1" stroke="#e6e6e6" stroke-width="2.6"/>
<line x1="57.8" y1="1070.96" x2="283.4" y2="1070.96" stroke="#e6e6e6" stroke-width="2.6"/>
<line x1="57.8" y1="1053.81" x2="283.4" y2="1053.81" stroke="#e6e6e6" stroke-width="2.6"/>
<line x1="57.8" y1="1036.67" x2="283.4" y2="1036.67" stroke="#e6e6e6" stroke-width="2.6"/>
<rect x="109.07" y="1079.53" width="6.89" height="8.57" fill="#c4b3f7" fill-opacity="0.59"/>
<rect x="115.91" y="1070.96" width="6.89" height="17.14" fill="#c4b3f7" fill-opacity="0.59"/>
<rect x="122.75" y="1070.96" width="6.89" height="17.14" fill="#c4b3f7" fill-opacity="0.59"/>
<rect x="129.58" y="1079.53" width="6.89" height="8.57" fill="#c4b3f7" fill-opacity="0.59"/>
<rect x="136.42" y="1070.96" width="6.89" height="17.14" fill="#c4b3f7" fill-opacity="0.59"/>
<rect x="150.09" y="1079.53" width="6.89" height="8.57" fill="#c4b3f7" fill-opacity="0.59"/>
<rect x="156.93" y="1070.96" width="6.89" height="17.14" fill="#c4b3f7" fill-opacity="0.59"/>
<rect x="163.76" y="1079.53" width="6.89" height="8.57" fill="#c4b3f7" fill-opacity="0.59"/>
<rect x="170.6" y="1079.53" width="6.89" height="8.57" fill="#c4b3f7" fill-opacity="0.59"/>
<rect x="177.44" y="1079.53" width="6.89" height="8.57" fill="#c4b3f7" fill-opacity="0.59"/>
<rect x="184.27" y="1036.67" width="6.89" height="51.43" fill="#c4b3f7" fill-opacity="0.59"/>
<rect x="191.11" y="1079.53" width="6.89" height="8.57" fill="#c4b3f7" fill-opacity="0.59"/>
<rect x="204.78" y="1079.53" width="6.89" height="8.57" fill="#c4b3f7" fill-opacity="0.59"/>
<rect x="211.62" y="1070.96" width="6.89" height="17.14" fill="#c4b3f7" fill-opacity="0.59"/>
<rect x="218.45" y="1070.96" width="6.89" height="17.14" fill="#c4b3f7" fill-opacity="0.59"/>
<rect x="225.29" y="1079.53" width="6.89" height="8.57" fill="#c4b3f7" fill-opacity="0.59"/>
<rect x="232.13" y="1070.96" width="6.89" height="17.14" fill="#c4b3f7" fill-opacity="0.59"/>
<rect x="238.96" y="1079.53" width="6.89" height="8.57" fill="#c4b3f7" fill-opacity="0.59"/>
<rect x="252.64" y="1070.96" width="6.89" height="17.14" fill="#c4b3f7" fill-opacity="0.59"/>
<line x1="92.2" y1="1106.8" x2="92.2" y2="1171.1" stroke="#e6e6e6" stroke-width="1.4"/>
<line x1="135.7" y1="1106.8" x2="135.7" y2="1171.1" stroke="#e6e6e6" stroke-width="1.4"/>
<line x1="179.2" y1="1106.8" x2="179.2" y2="1171.1" stroke="#e6e6e6" stroke-width="1.4"/>
<line x1="222.6" y1="1106.8" x2="222.6" y2="1171.1" stroke="#e6e6e6" stroke-width="1.4"/>
<line x1="266.1" y1="1106.8" x2="266.1" y2="1171.1" stroke="#e6e6e6" stroke-width="1.4"/>
<line x1="57.8" y1="1160.13" x2="283.4" y2="1160.13" stroke="#e6e6e6" stroke-width="1.4"/>
<line x1="57.8" y1="1142.99" x2="283.4" y2="1142.99" stroke="#e6e6e6" stroke-width="1.4"/>
<line x1="57.8" y1="1125.84" x2="283.4" y2="1125.84" stroke="#e6e6e6" stroke-width="1.4"/>
<line x1="57.8" y1="1108.7" x2="283.4" y2="1108.7" stroke="#e6e6e6" stroke-width="1.4"/>
<line x1="70.1" y1="1106.8" x2="70.1" y2="1171.1" stroke="#e6e6e6" stroke-width="2.6"/>
<line x1="113.5" y1="1106.8" x2="113.5" y2="1171.1" stroke="#e6e6e6" stroke-width="2.6"/>
<line x1="157" y1="1106.8" x2="157" y2="1171.1" stroke="#e6e6e6" stroke-width="2.6"/>
<line x1="201.3" y1="1106.8" x2="201.3" y2="1171.1" stroke="#e6e6e6" stroke-width="2.6"/>
<line x1="244.4" y1="1106.8" x2="244.4" y2="1171.1" stroke="#e6e6e6" stroke-width="2.6"/>
<line x1="57.8" y1="1168.7" x2="283.4" y2="1168.7" stroke="#e6e6e6" stroke-width="2.6"/>
<line x1="57.8" y1="1151.56" x2="283.4" y2="1151.56" stroke="#e6e6e6" stroke-width="2.6"/>
<line x1="57.8" y1="1134.41" x2="283.4" y2="1134.41" stroke="#e6e6e6" stroke-width="2.6"/>
<line x1="57.8" y1="1117.27" x2="283.4" y2="1117.27" stroke="#e6e6e6" stroke-width="2.6"/>
<rect x="115.91" y="1160.13" width="6.89" height="8.57" fill="#fea13c" fill-opacity="0.59"/>
<rect x="136.42" y="1151.56" width="6.89" height="17.14" fill="#fea13c" fill-opacity="0.59"/>
<rect x="143.25" y="1151.56" width="6.89" height="17.14" fill="#fea13c" fill-opacity="0.59"/>
<rect x="150.09" y="1160.13" width="6.89" height="8.57" fill="#fea13c" fill-opacity="0.59"/>
<rect x="163.76" y="1160.13" width="6.89" height="8.57" fill="#fea13c" fill-opacity="0.59"/>
<rect x="170.6" y="1160.13" width="6.89" height="8.57" fill="#fea13c" fill-opacity="0.59"/>
<rect x="177.44" y="1160.13" width="6.89" height="8.57" fill="#fea13c" fill-opacity="0.59"/>
<rect x="184.27" y="1160.13" width="6.89" height="8.57" fill="#fea13c" fill-opacity="0.59"/>
<rect x="211.62" y="1160.13" width="6.89" height="8.57" fill="#fea13c" fill-opacity="0.59"/>
<rect x="218.45" y="1151.56" width="6.89" height="17.14" fill="#fea13c" fill-opacity="0.59"/>
<rect x="225.29" y="1125.84" width="6.89" height="42.86" fill="#fea13c" fill-opacity="0.59"/>
<rect x="232.13" y="1160.13" width="6.89" height="8.57" fill="#fea13c" fill-opacity="0.59"/>
<rect x="238.96" y="1151.56" width="6.89" height="17.14" fill="#fea13c" fill-opacity="0.59"/>
<rect x="245.8" y="1151.56" width="6.89" height="17.14" fill="#fea13c" fill-opacity="0.59"/>
<rect x="252.64" y="1134.41" width="6.89" height="34.29" fill="#fea13c" fill-opacity="0.59"/>
<rect x="259.47" y="1142.99" width="6.89" height="25.71" fill="#fea13c" fill-opacity="0.59"/>
<rect x="266.31" y="1151.56" width="6.89" height="17.14" fill="#fea13c" fill-opacity="0.59"/>
<line x1="92.2" y1="1187.4" x2="92.2" y2="1251.7" stroke="#e6e6e6" stroke-width="1.4"/>
<line x1="135.7" y1="1187.4" x2="135.7" y2="1251.7" stroke="#e6e6e6" stroke-width="1.4"/>
<line x1="179.2" y1="1187.4" x2="179.2" y2="1251.7" stroke="#e6e6e6" stroke-width="1.4"/>
<line x1="222.6" y1="1187.4" x2="222.6" y2="1251.7" stroke="#e6e6e6" stroke-width="1.4"/>
<line x1="266.1" y1="1187.4" x2="266.1" y2="1251.7" stroke="#e6e6e6" stroke-width="1.4"/>
<line x1="57.8" y1="1240.73" x2="283.4" y2="1240.73" stroke="#e6e6e6" stroke-width="1.4"/>
<line x1="57.8" y1="1223.59" x2="283.4" y2="1223.59" stroke="#e6e6e6" stroke-width="1.4"/>
<line x1="57.8" y1="1206.44" x2="283.4" y2="1206.44" stroke="#e6e6e6" stroke-width="1.4"/>
<line x1="57.8" y1="1189.3" x2="283.4" y2="1189.3" stroke="#e6e6e6" stroke-width="1.4"/>
<line x1="70.1" y1="1187.4" x2="70.1" y2="1251.7" stroke="#e6e6e6" stroke-width="2.6"/>
<line x1="113.5" y1="1187.4" x2="113.5" y2="1251.7" stroke="#e6e6e6" stroke-width="2.6"/>
<line x1="157" y1="1187.4" x2="157" y2="1251.7" stroke="#e6e6e6" stroke-width="2.6"/>
<line x1="201.3" y1="1187.4" x2="201.3" y2="1251.7" stroke="#e6e6e6" stroke-width="2.6"/>
<line x1="244.4" y1="1187.4" x2="244.4" y2="1251.7" stroke="#e6e6e6" stroke-width="2.6"/>
<line x1="57.8" y1="1249.3" x2="283.4" y2="1249.3" stroke="#e6e6e6" stroke-width="2.6"/>
<line x1="57.8" y1="1232.16" x2="283.4" y2="1232.16" stroke="#e6e6e6" stroke-width="2.6"/>
<line x1="57.8" y1="1215.01" x2="283.4" y2="1215.01" stroke="#e6e6e6" stroke-width="2.6"/>
<line x1="57.8" y1="1197.87" x2="283.4" y2="1197.87" stroke="#e6e6e6" stroke-width="2.6"/>
<rect x="68.05" y="1240.73" width="6.89" height="8.57" fill="#ec36f6" fill-opacity="0.59"/>
<rect x="81.73" y="1189.3" width="6.89" height="60" fill="#ec36f6" fill-opacity="0.59"/>
<rect x="143.25" y="1240.73" width="6.89" height="8.57" fill="#ec36f6" fill-opacity="0.59"/>
<rect x="150.09" y="1240.73" width="6.89" height="8.57" fill="#ec36f6" fill-opacity="0.59"/>
<rect x="156.93" y="1232.16" width="6.89" height="17.14" fill="#ec36f6" fill-opacity="0.59"/>
<rect x="163.76" y="1223.59" width="6.89" height="25.71" fill="#ec36f6" fill-opacity="0.59"/>
<rect x="170.6" y="1223.59" width="6.89" height="25.71" fill="#ec36f6" fill-opacity="0.59"/>
<rect x="184.27" y="1240.73" width="6.89" height="8.57" fill="#ec36f6" fill-opacity="0.59"/>
<rect x="191.11" y="1223.59" width="6.89" height="25.71" fill="#ec36f6" fill-opacity="0.59"/>
<rect x="197.95" y="1215.01" width="6.89" height="34.29" fill="#ec36f6" fill-opacity="0.59"/>
<rect x="204.78" y="1232.16" width="6.89" height="17.14" fill="#ec36f6" fill-opacity="0.59"/>
<rect x="211.62" y="1223.59" width="6.89" height="25.71" fill="#ec36f6" fill-opacity="0.59"/>
<rect x="218.45" y="1240.73" width="6.89" height="8.57" fill="#ec36f6" fill-opacity="0.59"/>
<line x1="339.6" y1="1026.2" x2="339.6" y2="1090.5" stroke="#e6e6e6" stroke-width="1.4"/>
<line x1="394.6" y1="1026.2" x2="394.6" y2="1090.5" stroke="#e6e6e6" stroke-width="1.4"/>
<line x1="449.5" y1="1026.2" x2="449.5" y2="1090.5" stroke="#e6e6e6" stroke-width="1.4"/>
<line x1="504.5" y1="1026.2" x2="504.5" y2="1090.5" stroke="#e6e6e6" stroke-width="1.4"/>
<line x1="299.5" y1="1080.6" x2="525.1" y2="1080.6" stroke="#e6e6e6" stroke-width="1.4"/>
<line x1="299.5" y1="1065.6" x2="525.1" y2="1065.6" stroke="#e6e6e6" stroke-width="1.4"/>
<line x1="299.5" y1="1050.6" x2="525.1" y2="1050.6" stroke="#e6e6e6" stroke-width="1.4"/>
<line x1="299.5" y1="1035.6" x2="525.1" y2="1035.6" stroke="#e6e6e6" stroke-width="1.4"/>
<line x1="312.1" y1="1026.2" x2="312.1" y2="1090.5" stroke="#e6e6e6" stroke-width="2.6"/>
<line x1="367.1" y1="1026.2" x2="367.1" y2="1090.5" stroke="#e6e6e6" stroke-width="2.6"/>
<line x1="422" y1="1026.2" x2="422" y2="1090.5" stroke="#e6e6e6" stroke-width="2.6"/>
<line x1="477" y1="1026.2" x2="477" y2="1090.5" stroke="#e6e6e6" stroke-width="2.6"/>
<line x1="299.5" y1="1088.1" x2="525.1" y2="1088.1" stroke="#e6e6e6" stroke-width="2.6"/>
<line x1="299.5" y1="1073.1" x2="525.1" y2="1073.1" stroke="#e6e6e6" stroke-width="2.6"/>
<line x1="299.5" y1="1058.1" x2="525.1" y2="1058.1" stroke="#e6e6e6" stroke-width="2.6"/>
<line x1="299.5" y1="1043.1" x2="525.1" y2="1043.1" stroke="#e6e6e6" stroke-width="2.6"/>
<line x1="299.5" y1="1028.1" x2="525.1" y2="1028.1" stroke="#e6e6e6" stroke-width="2.6"/>
<rect x="309.75" y="1028.1" width="6.89" height="60" fill="#c4b3f7" fill-opacity="0.59"/>
<rect x="323.43" y="1058.1" width="6.89" height="30" fill="#c4b3f7" fill-opacity="0.59"/>
<rect x="337.1" y="1058.1" width="6.89" height="30" fill="#c4b3f7" fill-opacity="0.59"/>
<rect x="391.79" y="1058.1" width="6.89" height="30" fill="#c4b3f7" fill-opacity="0.59"/>
<rect x="405.46" y="1058.1" width="6.89" height="30" fill="#c4b3f7" fill-opacity="0.59"/>
<rect x="425.97" y="1058.1" width="6.89" height="30" fill="#c4b3f7" fill-opacity="0.59"/>
<rect x="439.65" y="1058.1" width="6.89" height="30" fill="#c4b3f7" fill-opacity="0.59"/>
<rect x="460.15" y="1058.1" width="6.89" height="30" fill="#c4b3f7" fill-opacity="0.59"/>
<rect x="466.99" y="1058.1" width="6.89" height="30" fill="#c4b3f7" fill-opacity="0.59"/>
<rect x="473.83" y="1028.1" width="6.89" height="60" fill="#c4b3f7" fill-opacity="0.59"/>
<rect x="480.66" y="1058.1" width="6.89" height="30" fill="#c4b3f7" fill-opacity="0.59"/>
<rect x="487.5" y="1028.1" width="6.89" height="60" fill="#c4b3f7" fill-opacity="0.59"/>
<rect x="508.01" y="1058.1" width="6.89" height="30" fill="#c4b3f7" fill-opacity="0.59"/>
<line x1="339.6" y1="1106.8" x2="339.6" y2="1171.1" stroke="#e6e6e6" stroke-width="1.4"/>
<line x1="394.6" y1="1106.8" x2="394.6" y2="1171.1" stroke="#e6e6e6" stroke-width="1.4"/>
<line x1="449.5" y1="1106.8" x2="449.5" y2="1171.1" stroke="#e6e6e6" stroke-width="1.4"/>
<line x1="504.5" y1="1106.8" x2="504.5" y2="1171.1" stroke="#e6e6e6" stroke-width="1.4"/>
<line x1="299.5" y1="1161.2" x2="525.1" y2="1161.2" stroke="#e6e6e6" stroke-width="1.4"/>
<line x1="299.5" y1="1146.2" x2="525.1" y2="1146.2" stroke="#e6e6e6" stroke-width="1.4"/>
<line x1="299.5" y1="1131.2" x2="525.1" y2="1131.2" stroke="#e6e6e6" stroke-width="1.4"/>
<line x1="299.5" y1="1116.2" x2="525.1" y2="1116.2" stroke="#e6e6e6" stroke-width="1.4"/>
<line x1="312.1" y1="1106.8" x2="312.1" y2="1171.1" stroke="#e6e6e6" stroke-width="2.6"/>
<line x1="367.1" y1="1106.8" x2="367.1" y2="1171.1" stroke="#e6e6e6" stroke-width="2.6"/>
<line x1="422" y1="1106.8" x2="422" y2="1171.1" stroke="#e6e6e6" stroke-width="2.6"/>
<line x1="477" y1="1106.8" x2="477" y2="1171.1" stroke="#e6e6e6" stroke-width="2.6"/>
<line x1="299.5" y1="1168.7" x2="525.1" y2="1168.7" stroke="#e6e6e6" stroke-width="2.6"/>
<line x1="299.5" y1="1153.7" x2="525.1" y2="1153.7" stroke="#e6e6e6" stroke-width="2.6"/>
<line x1="299.5" y1="1138.7" x2="525.1" y2="1138.7" stroke="#e6e6e6" stroke-width="2.6"/>
<line x1="299.5" y1="1123.7" x2="525.1" y2="1123.7" stroke="#e6e6e6" stroke-width="2.6"/>
<line x1="299.5" y1="1108.7" x2="525.1" y2="1108.7" stroke="#e6e6e6" stroke-width="2.6"/>
<rect x="309.75" y="1108.7" width="6.89" height="60" fill="#fea13c" fill-opacity="0.59"/>
<rect x="323.43" y="1138.7" width="6.89" height="30" fill="#fea13c" fill-opacity="0.59"/>
<rect x="337.1" y="1138.7" width="6.89" height="30" fill="#fea13c" fill-opacity="0.59"/>
<rect x="391.79" y="1138.7" width="6.89" height="30" fill="#fea13c" fill-opacity="0.59"/>
<rect x="405.46" y="1138.7" width="6.89" height="30" fill="#fea13c" fill-opacity="0.59"/>
<rect x="425.97" y="1138.7" width="6.89" height="30" fill="#fea13c" fill-opacity="0.59"/>
<rect x="439.65" y="1138.7" width="6.89" height="30" fill="#fea13c" fill-opacity="0.59"/>
<rect x="460.15" y="1138.7" width="6.89" height="30" fill="#fea13c" fill-opacity="0.59"/>
<rect x="466.99" y="1138.7" width="6.89" height="30" fill="#fea13c" fill-opacity="0.59"/>
<rect x="473.83" y="1108.7" width="6.89" height="60" fill="#fea13c" fill-opacity="0.59"/>
<rect x="480.66" y="1138.7" width="6.89" height="30" fill="#fea13c" fill-opacity="0.59"/>
<rect x="487.5" y="1108.7" width="6.89" height="60" fill="#fea13c" fill-opacity="0.59"/>
<rect x="508.01" y="1138.7" width="6.89" height="30" fill="#fea13c" fill-opacity="0.59"/>
<line x1="339.6" y1="1187.4" x2="339.6" y2="1251.7" stroke="#e6e6e6" stroke-width="1.4"/>
<line x1="394.6" y1="1187.4" x2="394.6" y2="1251.7" stroke="#e6e6e6" stroke-width="1.4"/>
<line x1="449.5" y1="1187.4" x2="449.5" y2="1251.7" stroke="#e6e6e6" stroke-width="1.4"/>
<line x1="504.5" y1="1187.4" x2="504.5" y2="1251.7" stroke="#e6e6e6" stroke-width="1.4"/>
<line x1="299.5" y1="1241.8" x2="525.1" y2="1241.8" stroke="#e6e6e6" stroke-width="1.4"/>
<line x1="299.5" y1="1226.8" x2="525.1" y2="1226.8" stroke="#e6e6e6" stroke-width="1.4"/>
<line x1="299.5" y1="1211.8" x2="525.1" y2="1211.8" stroke="#e6e6e6" stroke-width="1.4"/>
<line x1="299.5" y1="1196.8" x2="525.1" y2="1196.8" stroke="#e6e6e6" stroke-width="1.4"/>
<line x1="312.1" y1="1187.4" x2="312.1" y2="1251.7" stroke="#e6e6e6" stroke-width="2.6"/>
<line x1="367.1" y1="1187.4" x2="367.1" y2="1251.7" stroke="#e6e6e6" stroke-width="2.6"/>
<line x1="422" y1="1187.4" x2="422" y2="1251.7" stroke="#e6e6e6" stroke-width="2.6"/>
<line x1="477" y1="1187.4" x2="477" y2="1251.7" stroke="#e6e6e6" stroke-width="2.6"/>
<line x1="299.5" y1="1249.3" x2="525.1" y2="1249.3" stroke="#e6e6e6" stroke-width="2.6"/>
<line x1="299.5" y1="1234.3" x2="525.1" y2="1234.3" stroke="#e6e6e6" stroke-width="2.6"/>
<line x1="299.5" y1="1219.3" x2="525.1" y2="1219.3" stroke="#e6e6e6" stroke-width="2.6"/>
<line x1="299.5" y1="1204.3" x2="525.1" y2="1204.3" stroke="#e6e6e6" stroke-width="2.6"/>
<line x1="299.5" y1="1189.3" x2="525.1" y2="1189.3" stroke="#e6e6e6" stroke-width="2.6"/>
<rect x="309.75" y="1189.3" width="6.89" height="60" fill="#ec36f6" fill-opacity="0.59"/>
<rect x="323.43" y="1219.3" width="6.89" height="30" fill="#ec36f6" fill-opacity="0.59"/>
<rect x="337.1" y="1219.3" width="6.89" height="30" fill="#ec36f6" fill-opacity="0.59"/>
<rect x="391.79" y="1219.3" width="6.89" height="30" fill="#ec36f6" fill-opacity="0.59"/>
<rect x="405.46" y="1219.3" width="6.89" height="30" fill="#ec36f6" fill-opacity="0.59"/>
<rect x="425.97" y="1219.3" width="6.89" height="30" fill="#ec36f6" fill-opacity="0.59"/>
<rect x="439.65" y="1219.3" width="6.89" height="30" fill="#ec36f6" fill-opacity="0.59"/>
<rect x="460.15" y="1219.3" width="6.89" height="30" fill="#ec36f6" fill-opacity="0.59"/>
<rect x="466.99" y="1219.3" width="6.89" height="30" fill="#ec36f6" fill-opacity="0.59"/>
<rect x="473.83" y="1189.3" width="6.89" height="60" fill="#ec36f6" fill-opacity="0.59"/>
<rect x="480.66" y="1219.3" width="6.89" height="30" fill="#ec36f6" fill-opacity="0.59"/>
<rect x="487.5" y="1189.3" width="6.89" height="60" fill="#ec36f6" fill-opacity="0.59"/>
<rect x="508.01" y="1219.3" width="6.89" height="30" fill="#ec36f6" fill-opacity="0.59"/>
<line x1="553.2" y1="1026.2" x2="553.2" y2="1090.5" stroke="#e6e6e6" stroke-width="1.4"/>
<line x1="598.4" y1="1026.2" x2="598.4" y2="1090.5" stroke="#e6e6e6" stroke-width="1.4"/>
<line x1="643.6" y1="1026.2" x2="643.6" y2="1090.5" stroke="#e6e6e6" stroke-width="1.4"/>
<line x1="688.9" y1="1026.2" x2="688.9" y2="1090.5" stroke="#e6e6e6" stroke-width="1.4"/>
<line x1="734.1" y1="1026.2" x2="734.1" y2="1090.5" stroke="#e6e6e6" stroke-width="1.4"/>
<line x1="541.2" y1="1080.6" x2="766.8" y2="1080.6" stroke="#e6e6e6" stroke-width="1.4"/>
<line x1="541.2" y1="1065.6" x2="766.8" y2="1065.6" stroke="#e6e6e6" stroke-width="1.4"/>
<line x1="541.2" y1="1050.6" x2="766.8" y2="1050.6" stroke="#e6e6e6" stroke-width="1.4"/>
<line x1="541.2" y1="1035.6" x2="766.8" y2="1035.6" stroke="#e6e6e6" stroke-width="1.4"/>
<line x1="575.4" y1="1026.2" x2="575.4" y2="1090.5" stroke="#e6e6e6" stroke-width="2.6"/>
<line x1="621" y1="1026.2" x2="621" y2="1090.5" stroke="#e6e6e6" stroke-width="2.6"/>
<line x1="666.4" y1="1026.2" x2="666.4" y2="1090.5" stroke="#e6e6e6" stroke-width="2.6"/>
<line x1="711.4" y1="1026.2" x2="711.4" y2="1090.5" stroke="#e6e6e6" stroke-width="2.6"/>
<line x1="757.2" y1="1026.2" x2="757.2" y2="1090.5" stroke="#e6e6e6" stroke-width="2.6"/>
<line x1="541.2" y1="1088.1" x2="766.8" y2="1088.1" stroke="#e6e6e6" stroke-width="2.6"/>
<line x1="541.2" y1="1073.1" x2="766.8" y2="1073.1" stroke="#e6e6e6" stroke-width="2.6"/>
<line x1="541.2" y1="1058.1" x2="766.8" y2="1058.1" stroke="#e6e6e6" stroke-width="2.6"/>
<line x1="541.2" y1="1043.1" x2="766.8" y2="1043.1" stroke="#e6e6e6" stroke-width="2.6"/>
<line x1="541.2" y1="1028.1" x2="766.8" y2="1028.1" stroke="#e6e6e6" stroke-width="2.6"/>
<rect x="647.16" y="1080.6" width="6.89" height="7.5" fill="#c4b3f7" fill-opacity="0.59"/>
<rect x="654" y="1028.1" width="6.89" height="60" fill="#c4b3f7" fill-opacity="0.59"/>
<rect x="660.84" y="1058.1" width="6.89" height="30" fill="#c4b3f7" fill-opacity="0.59"/>
<rect x="674.51" y="1058.1" width="6.89" height="30" fill="#c4b3f7" fill-opacity="0.59"/>
<rect x="681.35" y="1035.6" width="6.89" height="52.5" fill="#c4b3f7" fill-opacity="0.59"/>
<rect x="688.18" y="1058.1" width="6.89" height="30" fill="#c4b3f7" fill-opacity="0.59"/>
<rect x="701.85" y="1058.1" width="6.89" height="30" fill="#c4b3f7" fill-opacity="0.59"/>
<line x1="553.2" y1="1106.8" x2="553.2" y2="1171.1" stroke="#e6e6e6" stroke-width="1.4"/>
<line x1="598.4" y1="1106.8" x2="598.4" y2="1171.1" stroke="#e6e6e6" stroke-width="1.4"/>
<line x1="643.6" y1="1106.8" x2="643.6" y2="1171.1" stroke="#e6e6e6" stroke-width="1.4"/>
<line x1="688.9" y1="1106.8" x2="688.9" y2="1171.1" stroke="#e6e6e6" stroke-width="1.4"/>
<line x1="734.1" y1="1106.8" x2="734.1" y2="1171.1" stroke="#e6e6e6" stroke-width="1.4"/>
<line x1="541.2" y1="1161.2" x2="766.8" y2="1161.2" stroke="#e6e6e6" stroke-width="1.4"/>
<line x1="541.2" y1="1146.2" x2="766.8" y2="1146.2" stroke="#e6e6e6" stroke-width="1.4"/>
<line x1="541.2" y1="1131.2" x2="766.8" y2="1131.2" stroke="#e6e6e6" stroke-width="1.4"/>
<line x1="541.2" y1="1116.2" x2="766.8" y2="1116.2" stroke="#e6e6e6" stroke-width="1.4"/>
<line x1="575.4" y1="1106.8" x2="575.4" y2="1171.1" stroke="#e6e6e6" stroke-width="2.6"/>
<line x1="621" y1="1106.8" x2="621" y2="1171.1" stroke="#e6e6e6" stroke-width="2.6"/>
<line x1="666.4" y1="1106.8" x2="666.4" y2="1171.1" stroke="#e6e6e6" stroke-width="2.6"/>
<line x1="711.4" y1="1106.8" x2="711.4" y2="1171.1" stroke="#e6e6e6" stroke-width="2.6"/>
<line x1="757.2" y1="1106.8" x2="757.2" y2="1171.1" stroke="#e6e6e6" stroke-width="2.6"/>
<line x1="541.2" y1="1168.7" x2="766.8" y2="1168.7" stroke="#e6e6e6" stroke-width="2.6"/>
<line x1="541.2" y1="1153.7" x2="766.8" y2="1153.7" stroke="#e6e6e6" stroke-width="2.6"/>
<line x1="541.2" y1="1138.7" x2="766.8" y2="1138.7" stroke="#e6e6e6" stroke-width="2.6"/>
<line x1="541.2" y1="1123.7" x2="766.8" y2="1123.7" stroke="#e6e6e6" stroke-width="2.6"/>
<line x1="541.2" y1="1108.7" x2="766.8" y2="1108.7" stroke="#e6e6e6" stroke-width="2.6"/>
<rect x="619.82" y="1161.2" width="6.89" height="7.5" fill="#fea13c" fill-opacity="0.59"/>
<rect x="626.65" y="1153.7" width="6.89" height="15" fill="#fea13c" fill-opacity="0.59"/>
<rect x="633.49" y="1146.2" width="6.89" height="22.5" fill="#fea13c" fill-opacity="0.59"/>
<rect x="660.84" y="1161.2" width="6.89" height="7.5" fill="#fea13c" fill-opacity="0.59"/>
<rect x="674.51" y="1153.7" width="6.89" height="15" fill="#fea13c" fill-opacity="0.59"/>
<rect x="681.35" y="1153.7" width="6.89" height="15" fill="#fea13c" fill-opacity="0.59"/>
<rect x="688.18" y="1153.7" width="6.89" height="15" fill="#fea13c" fill-opacity="0.59"/>
<rect x="701.85" y="1138.7" width="6.89" height="30" fill="#fea13c" fill-opacity="0.59"/>
<rect x="708.69" y="1108.7" width="6.89" height="60" fill="#fea13c" fill-opacity="0.59"/>
<rect x="715.53" y="1138.7" width="6.89" height="30" fill="#fea13c" fill-opacity="0.59"/>
<rect x="729.2" y="1153.7" width="6.89" height="15" fill="#fea13c" fill-opacity="0.59"/>
<rect x="749.71" y="1161.2" width="6.89" height="7.5" fill="#fea13c" fill-opacity="0.59"/>
<line x1="553.2" y1="1187.4" x2="553.2" y2="1251.7" stroke="#e6e6e6" stroke-width="1.4"/>
<line x1="598.4" y1="1187.4" x2="598.4" y2="1251.7" stroke="#e6e6e6" stroke-width="1.4"/>
<line x1="643.6" y1="1187.4" x2="643.6" y2="1251.7" stroke="#e6e6e6" stroke-width="1.4"/>
<line x1="688.9" y1="1187.4" x2="688.9" y2="1251.7" stroke="#e6e6e6" stroke-width="1.4"/>
<line x1="734.1" y1="1187.4" x2="734.1" y2="1251.7" stroke="#e6e6e6" stroke-width="1.4"/>
<line x1="541.2" y1="1241.8" x2="766.8" y2="1241.8" stroke="#e6e6e6" stroke-width="1.4"/>
<line x1="541.2" y1="1226.8" x2="766.8" y2="1226.8" stroke="#e6e6e6" stroke-width="1.4"/>
<line x1="541.2" y1="1211.8" x2="766.8" y2="1211.8" stroke="#e6e6e6" stroke-width="1.4"/>
<line x1="541.2" y1="1196.8" x2="766.8" y2="1196.8" stroke="#e6e6e6" stroke-width="1.4"/>
<line x1="575.4" y1="1187.4" x2="575.4" y2="1251.7" stroke="#e6e6e6" stroke-width="2.6"/>
<line x1="621" y1="1187.4" x2="621" y2="1251.7" stroke="#e6e6e6" stroke-width="2.6"/>
<line x1="666.4" y1="1187.4" x2="666.4" y2="1251.7" stroke="#e6e6e6" stroke-width="2.6"/>
<line x1="711.4" y1="1187.4" x2="711.4" y2="1251.7" stroke="#e6e6e6" stroke-width="2.6"/>
<line x1="757.2" y1="1187.4" x2="757.2" y2="1251.7" stroke="#e6e6e6" stroke-width="2.6"/>
<line x1="541.2" y1="1249.3" x2="766.8" y2="1249.3" stroke="#e6e6e6" stroke-width="2.6"/>
<line x1="541.2" y1="1234.3" x2="766.8" y2="1234.3" stroke="#e6e6e6" stroke-width="2.6"/>
<line x1="541.2" y1="1219.3" x2="766.8" y2="1219.3" stroke="#e6e6e6" stroke-width="2.6"/>
<line x1="541.2" y1="1204.3" x2="766.8" y2="1204.3" stroke="#e6e6e6" stroke-width="2.6"/>
<line x1="541.2" y1="1189.3" x2="766.8" y2="1189.3" stroke="#e6e6e6" stroke-width="2.6"/>
<rect x="551.45" y="1241.8" width="6.89" height="7.5" fill="#ec36f6" fill-opacity="0.59"/>
<rect x="565.13" y="1219.3" width="6.89" height="30" fill="#ec36f6" fill-opacity="0.59"/>
<rect x="571.96" y="1241.8" width="6.89" height="7.5" fill="#ec36f6" fill-opacity="0.59"/>
<rect x="599.31" y="1234.3" width="6.89" height="15" fill="#ec36f6" fill-opacity="0.59"/>
<rect x="681.35" y="1226.8" width="6.89" height="22.5" fill="#ec36f6" fill-opacity="0.59"/>
<rect x="688.18" y="1219.3" width="6.89" height="30" fill="#ec36f6" fill-opacity="0.59"/>
<rect x="701.85" y="1204.3" width="6.89" height="45" fill="#ec36f6" fill-opacity="0.59"/>
<rect x="708.69" y="1226.8" width="6.89" height="22.5" fill="#ec36f6" fill-opacity="0.59"/>
<rect x="715.53" y="1219.3" width="6.89" height="30" fill="#ec36f6" fill-opacity="0.59"/>
<rect x="729.2" y="1234.3" width="6.89" height="15" fill="#ec36f6" fill-opacity="0.59"/>
<rect x="736.04" y="1234.3" width="6.89" height="15" fill="#ec36f6" fill-opacity="0.59"/>
<line x1="822.1" y1="1026.2" x2="822.1" y2="1090.5" stroke="#e6e6e6" stroke-width="1.4"/>
<line x1="878.6" y1="1026.2" x2="878.6" y2="1090.5" stroke="#e6e6e6" stroke-width="1.4"/>
<line x1="935.3" y1="1026.2" x2="935.3" y2="1090.5" stroke="#e6e6e6" stroke-width="1.4"/>
<line x1="992.1" y1="1026.2" x2="992.1" y2="1090.5" stroke="#e6e6e6" stroke-width="1.4"/>
<line x1="783" y1="1078.72" x2="1008.6" y2="1078.72" stroke="#e6e6e6" stroke-width="1.4"/>
<line x1="783" y1="1059.97" x2="1008.6" y2="1059.97" stroke="#e6e6e6" stroke-width="1.4"/>
<line x1="783" y1="1041.22" x2="1008.6" y2="1041.22" stroke="#e6e6e6" stroke-width="1.4"/>
<line x1="793.8" y1="1026.2" x2="793.8" y2="1090.5" stroke="#e6e6e6" stroke-width="2.6"/>
<line x1="850.5" y1="1026.2" x2="850.5" y2="1090.5" stroke="#e6e6e6" stroke-width="2.6"/>
<line x1="907.3" y1="1026.2" x2="907.3" y2="1090.5" stroke="#e6e6e6" stroke-width="2.6"/>
<line x1="963.7" y1="1026.2" x2="963.7" y2="1090.5" stroke="#e6e6e6" stroke-width="2.6"/>
<line x1="783" y1="1088.1" x2="1008.6" y2="1088.1" stroke="#e6e6e6" stroke-width="2.6"/>
<line x1="783" y1="1069.35" x2="1008.6" y2="1069.35" stroke="#e6e6e6" stroke-width="2.6"/>
<line x1="783" y1="1050.6" x2="1008.6" y2="1050.6" stroke="#e6e6e6" stroke-width="2.6"/>
<line x1="783" y1="1031.85" x2="1008.6" y2="1031.85" stroke="#e6e6e6" stroke-width="2.6"/>
<rect x="793.25" y="1080.6" width="6.89" height="7.5" fill="#c4b3f7" fill-opacity="0.59"/>
<rect x="800.09" y="1028.1" width="6.89" height="60" fill="#c4b3f7" fill-opacity="0.59"/>
<rect x="806.93" y="1046.85" width="6.89" height="41.25" fill="#c4b3f7" fill-opacity="0.59"/>
<rect x="813.76" y="1076.85" width="6.89" height="11.25" fill="#c4b3f7" fill-opacity="0.59"/>
<line x1="822.1" y1="1106.8" x2="822.1" y2="1171.1" stroke="#e6e6e6" stroke-width="1.4"/>
<line x1="878.6" y1="1106.8" x2="878.6" y2="1171.1" stroke="#e6e6e6" stroke-width="1.4"/>
<line x1="935.3" y1="1106.8" x2="935.3" y2="1171.1" stroke="#e6e6e6" stroke-width="1.4"/>
<line x1="992.1" y1="1106.8" x2="992.1" y2="1171.1" stroke="#e6e6e6" stroke-width="1.4"/>
<line x1="783" y1="1159.32" x2="1008.6" y2="1159.32" stroke="#e6e6e6" stroke-width="1.4"/>
<line x1="783" y1="1140.57" x2="1008.6" y2="1140.57" stroke="#e6e6e6" stroke-width="1.4"/>
<line x1="783" y1="1121.82" x2="1008.6" y2="1121.82" stroke="#e6e6e6" stroke-width="1.4"/>
<line x1="793.8" y1="1106.8" x2="793.8" y2="1171.1" stroke="#e6e6e6" stroke-width="2.6"/>
<line x1="850.5" y1="1106.8" x2="850.5" y2="1171.1" stroke="#e6e6e6" stroke-width="2.6"/>
<line x1="907.3" y1="1106.8" x2="907.3" y2="1171.1" stroke="#e6e6e6" stroke-width="2.6"/>
<line x1="963.7" y1="1106.8" x2="963.7" y2="1171.1" stroke="#e6e6e6" stroke-width="2.6"/>
<line x1="783" y1="1168.7" x2="1008.6" y2="1168.7" stroke="#e6e6e6" stroke-width="2.6"/>
<line x1="783" y1="1149.95" x2="1008.6" y2="1149.95" stroke="#e6e6e6" stroke-width="2.6"/>
<line x1="783" y1="1131.2" x2="1008.6" y2="1131.2" stroke="#e6e6e6" stroke-width="2.6"/>
<line x1="783" y1="1112.45" x2="1008.6" y2="1112.45" stroke="#e6e6e6" stroke-width="2.6"/>
<rect x="827.44" y="1157.45" width="6.89" height="11.25" fill="#fea13c" fill-opacity="0.59"/>
<rect x="834.27" y="1161.2" width="6.89" height="7.5" fill="#fea13c" fill-opacity="0.59"/>
<rect x="841.11" y="1157.45" width="6.89" height="11.25" fill="#fea13c" fill-opacity="0.59"/>
<rect x="847.95" y="1157.45" width="6.89" height="11.25" fill="#fea13c" fill-opacity="0.59"/>
<rect x="854.78" y="1161.2" width="6.89" height="7.5" fill="#fea13c" fill-opacity="0.59"/>
<rect x="868.45" y="1161.2" width="6.89" height="7.5" fill="#fea13c" fill-opacity="0.59"/>
<rect x="875.29" y="1153.7" width="6.89" height="15" fill="#fea13c" fill-opacity="0.59"/>
<rect x="882.13" y="1157.45" width="6.89" height="11.25" fill="#fea13c" fill-opacity="0.59"/>
<rect x="888.96" y="1153.7" width="6.89" height="15" fill="#fea13c" fill-opacity="0.59"/>
<rect x="902.64" y="1164.95" width="6.89" height="3.75" fill="#fea13c" fill-opacity="0.59"/>
<rect x="909.47" y="1164.95" width="6.89" height="3.75" fill="#fea13c" fill-opacity="0.59"/>
<rect x="916.31" y="1164.95" width="6.89" height="3.75" fill="#fea13c" fill-opacity="0.59"/>
<rect x="923.15" y="1161.2" width="6.89" height="7.5" fill="#fea13c" fill-opacity="0.59"/>
<rect x="936.82" y="1164.95" width="6.89" height="3.75" fill="#fea13c" fill-opacity="0.59"/>
<line x1="822.1" y1="1187.4" x2="822.1" y2="1251.7" stroke="#e6e6e6" stroke-width="1.4"/>
<line x1="878.6" y1="1187.4" x2="878.6" y2="1251.7" stroke="#e6e6e6" stroke-width="1.4"/>
<line x1="935.3" y1="1187.4" x2="935.3" y2="1251.7" stroke="#e6e6e6" stroke-width="1.4"/>
<line x1="992.1" y1="1187.4" x2="992.1" y2="1251.7" stroke="#e6e6e6" stroke-width="1.4"/>
<line x1="783" y1="1239.92" x2="1008.6" y2="1239.92" stroke="#e6e6e6" stroke-width="1.4"/>
<line x1="783" y1="1221.17" x2="1008.6" y2="1221.17" stroke="#e6e6e6" stroke-width="1.4"/>
<line x1="783" y1="1202.42" x2="1008.6" y2="1202.42" stroke="#e6e6e6" stroke-width="1.4"/>
<line x1="793.8" y1="1187.4" x2="793.8" y2="1251.7" stroke="#e6e6e6" stroke-width="2.6"/>
<line x1="850.5" y1="1187.4" x2="850.5" y2="1251.7" stroke="#e6e6e6" stroke-width="2.6"/>
<line x1="907.3" y1="1187.4" x2="907.3" y2="1251.7" stroke="#e6e6e6" stroke-width="2.6"/>
<line x1="963.7" y1="1187.4" x2="963.7" y2="1251.7" stroke="#e6e6e6" stroke-width="2.6"/>
<line x1="783" y1="1249.3" x2="1008.6" y2="1249.3" stroke="#e6e6e6" stroke-width="2.6"/>
<line x1="783" y1="1230.55" x2="1008.6" y2="1230.55" stroke="#e6e6e6" stroke-width="2.6"/>
<line x1="783" y1="1211.8" x2="1008.6" y2="1211.8" stroke="#e6e6e6" stroke-width="2.6"/>
<line x1="783" y1="1193.05" x2="1008.6" y2="1193.05" stroke="#e6e6e6" stroke-width="2.6"/>
<rect x="861.62" y="1245.55" width="6.89" height="3.75" fill="#ec36f6" fill-opacity="0.59"/>
<rect x="868.45" y="1238.05" width="6.89" height="11.25" fill="#ec36f6" fill-opacity="0.59"/>
<rect x="875.29" y="1241.8" width="6.89" height="7.5" fill="#ec36f6" fill-opacity="0.59"/>
<rect x="888.96" y="1241.8" width="6.89" height="7.5" fill="#ec36f6" fill-opacity="0.59"/>
<rect x="923.15" y="1245.55" width="6.89" height="3.75" fill="#ec36f6" fill-opacity="0.59"/>
<rect x="929.98" y="1245.55" width="6.89" height="3.75" fill="#ec36f6" fill-opacity="0.59"/>
<rect x="936.82" y="1241.8" width="6.89" height="7.5" fill="#ec36f6" fill-opacity="0.59"/>
<rect x="943.65" y="1241.8" width="6.89" height="7.5" fill="#ec36f6" fill-opacity="0.59"/>
<rect x="950.49" y="1238.05" width="6.89" height="11.25" fill="#ec36f6" fill-opacity="0.59"/>
<rect x="957.33" y="1245.55" width="6.89" height="3.75" fill="#ec36f6" fill-opacity="0.59"/>
<rect x="964.16" y="1230.55" width="6.89" height="18.75" fill="#ec36f6" fill-opacity="0.59"/>
<rect x="971" y="1238.05" width="6.89" height="11.25" fill="#ec36f6" fill-opacity="0.59"/>
<rect x="977.84" y="1234.3" width="6.89" height="15" fill="#ec36f6" fill-opacity="0.59"/>
<rect x="984.67" y="1245.55" width="6.89" height="3.75" fill="#ec36f6" fill-opacity="0.59"/>
<rect x="991.51" y="1245.55" width="6.89" height="3.75" fill="#ec36f6" fill-opacity="0.59"/>
<line x1="1024.9" y1="1209.55" x2="1250.5" y2="1209.55" stroke="#e6e6e6" stroke-width="1.4"/>
<line x1="1024.9" y1="1145.25" x2="1250.5" y2="1145.25" stroke="#e6e6e6" stroke-width="1.4"/>
<line x1="1024.9" y1="1080.95" x2="1250.5" y2="1080.95" stroke="#e6e6e6" stroke-width="1.4"/>
<line x1="1066.6" y1="1026.2" x2="1066.6" y2="1251.8" stroke="#e6e6e6" stroke-width="2.6"/>
<line x1="1137.7" y1="1026.2" x2="1137.7" y2="1251.8" stroke="#e6e6e6" stroke-width="2.6"/>
<line x1="1208.8" y1="1026.2" x2="1208.8" y2="1251.8" stroke="#e6e6e6" stroke-width="2.6"/>
<line x1="1024.9" y1="1241.7" x2="1250.5" y2="1241.7" stroke="#e6e6e6" stroke-width="2.6"/>
<line x1="1024.9" y1="1177.4" x2="1250.5" y2="1177.4" stroke="#e6e6e6" stroke-width="2.6"/>
<line x1="1024.9" y1="1113.1" x2="1250.5" y2="1113.1" stroke="#e6e6e6" stroke-width="2.6"/>
<line x1="1024.9" y1="1048.8" x2="1250.5" y2="1048.8" stroke="#e6e6e6" stroke-width="2.6"/>
<rect x="1034.6" y="1035.94" width="64" height="205.76" fill="#c4b3f7" fill-opacity="0.59"/>
<rect x="1105.7" y="1035.94" width="64" height="205.76" fill="#fea13c" fill-opacity="0.59"/>
<rect x="1176.8" y="1035.94" width="64" height="205.76" fill="#ec36f6" fill-opacity="0.59"/>
<rect x="57.8" y="57.7" width="225.6" height="226.5" fill="none" stroke="#333333" stroke-width="2.2"/>
<rect x="299.5" y="57.7" width="225.6" height="226.5" fill="none" stroke="#333333" stroke-width="2.2"/>
<rect x="541.2" y="57.7" width="225.6" height="226.5" fill="none" stroke="#333333" stroke-width="2.2"/>
<rect x="783" y="57.7" width="225.6" height="226.5" fill="none" stroke="#333333" stroke-width="2.2"/>
<rect x="1024.9" y="57.7" width="225.6" height="226.5" fill="none" stroke="#333333" stroke-width="2.2"/>
<rect x="57.8" y="300.4" width="225.6" height="225.7" fill="none" stroke="#333333" stroke-width="2.2"/>
<rect x="299.5" y="300.4" width="225.6" height="225.7" fill="none" stroke="#333333" stroke-width="2.2"/>
<rect x="541.2" y="300.4" width="225.6" height="225.7" fill="none" stroke="#333333" stroke-width="2.2"/>
<rect x="783" y="300.4" width="225.6" height="225.7" fill="none" stroke="#333333" stroke-width="2.2"/>
<rect x="1024.9" y="300.4" width="225.6" height="225.7" fill="none" stroke="#7a7a7a" stroke-width="1.2"/>
<line x1="1250.5" y1="300.4" x2="1250.5" y2="526.1" stroke="#333333" stroke-width="1.8"/>
<rect x="57.8" y="542.1" width="225.6" height="225.8" fill="none" stroke="#333333" stroke-width="2.2"/>
<rect x="299.5" y="542.1" width="225.6" height="225.8" fill="none" stroke="#333333" stroke-width="2.2"/>
<rect x="541.2" y="542.1" width="225.6" height="225.8" fill="none" stroke="#333333" stroke-width="2.2"/>
<rect x="783" y="542.1" width="225.6" height="225.8" fill="none" stroke="#333333" stroke-width="2.2"/>
<rect x="1024.9" y="542.1" width="225.6" height="225.8" fill="none" stroke="#333333" stroke-width="2.2"/>
<rect x="57.8" y="784.1" width="225.6" height="225.7" fill="none" stroke="#333333" stroke-width="2.2"/>
<rect x="299.5" y="784.1" width="225.6" height="225.7" fill="none" stroke="#333333" stroke-width="2.2"/>
<rect x="541.2" y="784.1" width="225.6" height="225.7" fill="none" stroke="#333333" stroke-width="2.2"/>
<rect x="783" y="784.1" width="225.6" height="225.7" fill="none" stroke="#333333" stroke-width="2.2"/>
<rect x="1024.9" y="784.1" width="225.6" height="225.7" fill="none" stroke="#333333" stroke-width="2.2"/>
<rect x="57.8" y="1026.2" width="225.6" height="64.3" fill="none" stroke="#333333" stroke-width="2.2"/>
<rect x="57.8" y="1106.8" width="225.6" height="64.3" fill="none" stroke="#333333" stroke-width="2.2"/>
<rect x="57.8" y="1187.4" width="225.6" height="64.3" fill="none" stroke="#333333" stroke-width="2.2"/>
<rect x="299.5" y="1026.2" width="225.6" height="64.3" fill="none" stroke="#333333" stroke-width="2.2"/>
<rect x="299.5" y="1106.8" width="225.6" height="64.3" fill="none" stroke="#333333" stroke-width="2.2"/>
<rect x="299.5" y="1187.4" width="225.6" height="64.3" fill="none" stroke="#333333" stroke-width="2.2"/>
<rect x="541.2" y="1026.2" width="225.6" height="64.3" fill="none" stroke="#333333" stroke-width="2.2"/>
<rect x="541.2" y="1106.8" width="225.6" height="64.3" fill="none" stroke="#333333" stroke-width="2.2"/>
<rect x="541.2" y="1187.4" width="225.6" height="64.3" fill="none" stroke="#333333" stroke-width="2.2"/>
<rect x="783" y="1026.2" width="225.6" height="64.3" fill="none" stroke="#333333" stroke-width="2.2"/>
<rect x="783" y="1106.8" width="225.6" height="64.3" fill="none" stroke="#333333" stroke-width="2.2"/>
<rect x="783" y="1187.4" width="225.6" height="64.3" fill="none" stroke="#333333" stroke-width="2.2"/>
<rect x="1024.9" y="1026.2" width="225.6" height="225.6" fill="none" stroke="#333333" stroke-width="2.2"/>
<line x1="49.6" y1="274.6" x2="57.7" y2="274.6" stroke="#1e1e1e" stroke-width="2.6"/>
<text x="43.6" y="281.2" text-anchor="end" class="ax">0.00</text>
<line x1="49.6" y1="216.6" x2="57.7" y2="216.6" stroke="#1e1e1e" stroke-width="2.6"/>
<text x="43.6" y="223.2" text-anchor="end" class="ax">0.25</text>
<line x1="49.6" y1="158.3" x2="57.7" y2="158.3" stroke="#1e1e1e" stroke-width="2.6"/>
<text x="43.6" y="164.9" text-anchor="end" class="ax">0.50</text>
<line x1="49.6" y1="100.3" x2="57.7" y2="100.3" stroke="#1e1e1e" stroke-width="2.6"/>
<text x="43.6" y="106.9" text-anchor="end" class="ax">0.75</text>
<line x1="49.6" y1="526.2" x2="57.7" y2="526.2" stroke="#1e1e1e" stroke-width="2.6"/>
<text x="43.6" y="532.8" text-anchor="end" class="ax">2</text>
<line x1="49.6" y1="481" x2="57.7" y2="481" stroke="#1e1e1e" stroke-width="2.6"/>
<text x="43.6" y="487.6" text-anchor="end" class="ax">4</text>
<line x1="49.6" y1="434.8" x2="57.7" y2="434.8" stroke="#1e1e1e" stroke-width="2.6"/>
<text x="43.6" y="441.4" text-anchor="end" class="ax">6</text>
<line x1="49.6" y1="389.8" x2="57.7" y2="389.8" stroke="#1e1e1e" stroke-width="2.6"/>
<text x="43.6" y="396.4" text-anchor="end" class="ax">8</text>
<line x1="49.6" y1="344.6" x2="57.7" y2="344.6" stroke="#1e1e1e" stroke-width="2.6"/>
<text x="43.6" y="351.2" text-anchor="end" class="ax">10</text>
<line x1="49.6" y1="739.4" x2="57.7" y2="739.4" stroke="#1e1e1e" stroke-width="2.6"/>
<text x="43.6" y="746" text-anchor="end" class="ax">0.35</text>
<line x1="49.6" y1="692.2" x2="57.7" y2="692.2" stroke="#1e1e1e" stroke-width="2.6"/>
<text x="43.6" y="698.8" text-anchor="end" class="ax">0.40</text>
<line x1="49.6" y1="645.7" x2="57.7" y2="645.7" stroke="#1e1e1e" stroke-width="2.6"/>
<text x="43.6" y="652.3" text-anchor="end" class="ax">0.45</text>
<line x1="49.6" y1="598.6" x2="57.7" y2="598.6" stroke="#1e1e1e" stroke-width="2.6"/>
<text x="43.6" y="605.2" text-anchor="end" class="ax">0.50</text>
<line x1="49.6" y1="551.4" x2="57.7" y2="551.4" stroke="#1e1e1e" stroke-width="2.6"/>
<text x="43.6" y="558" text-anchor="end" class="ax">0.55</text>
<line x1="49.6" y1="1003.2" x2="57.7" y2="1003.2" stroke="#1e1e1e" stroke-width="2.6"/>
<text x="43.6" y="1009.8" text-anchor="end" class="ax">1.2</text>
<line x1="49.6" y1="944.9" x2="57.7" y2="944.9" stroke="#1e1e1e" stroke-width="2.6"/>
<text x="43.6" y="951.5" text-anchor="end" class="ax">1.6</text>
<line x1="49.6" y1="885.9" x2="57.7" y2="885.9" stroke="#1e1e1e" stroke-width="2.6"/>
<text x="43.6" y="892.5" text-anchor="end" class="ax">2.0</text>
<line x1="49.6" y1="827.6" x2="57.7" y2="827.6" stroke="#1e1e1e" stroke-width="2.6"/>
<text x="43.6" y="834.2" text-anchor="end" class="ax">2.4</text>
<line x1="49.6" y1="1088.1" x2="57.7" y2="1088.1" stroke="#1e1e1e" stroke-width="2.6"/>
<text x="43.6" y="1094.7" text-anchor="end" class="ax">0</text>
<line x1="49.6" y1="1070.96" x2="57.7" y2="1070.96" stroke="#1e1e1e" stroke-width="2.6"/>
<text x="43.6" y="1077.56" text-anchor="end" class="ax">2</text>
<line x1="49.6" y1="1053.81" x2="57.7" y2="1053.81" stroke="#1e1e1e" stroke-width="2.6"/>
<text x="43.6" y="1060.41" text-anchor="end" class="ax">4</text>
<line x1="49.6" y1="1036.67" x2="57.7" y2="1036.67" stroke="#1e1e1e" stroke-width="2.6"/>
<text x="43.6" y="1043.27" text-anchor="end" class="ax">6</text>
<line x1="49.6" y1="1168.7" x2="57.7" y2="1168.7" stroke="#1e1e1e" stroke-width="2.6"/>
<text x="43.6" y="1175.3" text-anchor="end" class="ax">0</text>
<line x1="49.6" y1="1151.56" x2="57.7" y2="1151.56" stroke="#1e1e1e" stroke-width="2.6"/>
<text x="43.6" y="1158.16" text-anchor="end" class="ax">2</text>
<line x1="49.6" y1="1134.41" x2="57.7" y2="1134.41" stroke="#1e1e1e" stroke-width="2.6"/>
<text x="43.6" y="1141.01" text-anchor="end" class="ax">4</text>
<line x1="49.6" y1="1117.27" x2="57.7" y2="1117.27" stroke="#1e1e1e" stroke-width="2.6"/>
<text x="43.6" y="1123.87" text-anchor="end" class="ax">6</text>
<line x1="49.6" y1="1249.3" x2="57.7" y2="1249.3" stroke="#1e1e1e" stroke-width="2.6"/>
<text x="43.6" y="1255.9" text-anchor="end" class="ax">0</text>
<line x1="49.6" y1="1232.16" x2="57.7" y2="1232.16" stroke="#1e1e1e" stroke-width="2.6"/>
<text x="43.6" y="1238.76" text-anchor="end" class="ax">2</text>
<line x1="49.6" y1="1215.01" x2="57.7" y2="1215.01" stroke="#1e1e1e" stroke-width="2.6"/>
<text x="43.6" y="1221.61" text-anchor="end" class="ax">4</text>
<line x1="49.6" y1="1197.87" x2="57.7" y2="1197.87" stroke="#1e1e1e" stroke-width="2.6"/>
<text x="43.6" y="1204.47" text-anchor="end" class="ax">6</text>
<line x1="70.1" y1="1251.8" x2="70.1" y2="1259.8" stroke="#1e1e1e" stroke-width="2.6"/>
<text transform="translate(82.7,1266.4) rotate(-90)" text-anchor="end" class="ax">1.5</text>
<line x1="113.5" y1="1251.8" x2="113.5" y2="1259.8" stroke="#1e1e1e" stroke-width="2.6"/>
<text transform="translate(126.1,1266.4) rotate(-90)" text-anchor="end" class="ax">2.0</text>
<line x1="156.9" y1="1251.8" x2="156.9" y2="1259.8" stroke="#1e1e1e" stroke-width="2.6"/>
<text transform="translate(169.5,1266.4) rotate(-90)" text-anchor="end" class="ax">2.5</text>
<line x1="200.6" y1="1251.8" x2="200.6" y2="1259.8" stroke="#1e1e1e" stroke-width="2.6"/>
<text transform="translate(213.2,1266.4) rotate(-90)" text-anchor="end" class="ax">3.0</text>
<line x1="244.1" y1="1251.8" x2="244.1" y2="1259.8" stroke="#1e1e1e" stroke-width="2.6"/>
<text transform="translate(256.7,1266.4) rotate(-90)" text-anchor="end" class="ax">3.5</text>
<line x1="312.1" y1="1251.8" x2="312.1" y2="1259.8" stroke="#1e1e1e" stroke-width="2.6"/>
<text transform="translate(324.7,1266.4) rotate(-90)" text-anchor="end" class="ax">2.5</text>
<line x1="367.1" y1="1251.8" x2="367.1" y2="1259.8" stroke="#1e1e1e" stroke-width="2.6"/>
<text transform="translate(379.7,1266.4) rotate(-90)" text-anchor="end" class="ax">5.0</text>
<line x1="422" y1="1251.8" x2="422" y2="1259.8" stroke="#1e1e1e" stroke-width="2.6"/>
<text transform="translate(434.6,1266.4) rotate(-90)" text-anchor="end" class="ax">7.5</text>
<line x1="477" y1="1251.8" x2="477" y2="1259.8" stroke="#1e1e1e" stroke-width="2.6"/>
<text transform="translate(489.6,1266.4) rotate(-90)" text-anchor="end" class="ax">10.0</text>
<line x1="575.4" y1="1251.8" x2="575.4" y2="1259.8" stroke="#1e1e1e" stroke-width="2.6"/>
<text transform="translate(588,1266.4) rotate(-90)" text-anchor="end" class="ax">0.35</text>
<line x1="621" y1="1251.8" x2="621" y2="1259.8" stroke="#1e1e1e" stroke-width="2.6"/>
<text transform="translate(633.6,1266.4) rotate(-90)" text-anchor="end" class="ax">0.40</text>
<line x1="666.4" y1="1251.8" x2="666.4" y2="1259.8" stroke="#1e1e1e" stroke-width="2.6"/>
<text transform="translate(679,1266.4) rotate(-90)" text-anchor="end" class="ax">0.45</text>
<line x1="711.4" y1="1251.8" x2="711.4" y2="1259.8" stroke="#1e1e1e" stroke-width="2.6"/>
<text transform="translate(724,1266.4) rotate(-90)" text-anchor="end" class="ax">0.50</text>
<line x1="757.2" y1="1251.8" x2="757.2" y2="1259.8" stroke="#1e1e1e" stroke-width="2.6"/>
<text transform="translate(769.8,1266.4) rotate(-90)" text-anchor="end" class="ax">0.55</text>
<line x1="793.8" y1="1251.8" x2="793.8" y2="1259.8" stroke="#1e1e1e" stroke-width="2.6"/>
<text transform="translate(806.4,1266.4) rotate(-90)" text-anchor="end" class="ax">1.2</text>
<line x1="850.5" y1="1251.8" x2="850.5" y2="1259.8" stroke="#1e1e1e" stroke-width="2.6"/>
<text transform="translate(863.1,1266.4) rotate(-90)" text-anchor="end" class="ax">1.6</text>
<line x1="907.3" y1="1251.8" x2="907.3" y2="1259.8" stroke="#1e1e1e" stroke-width="2.6"/>
<text transform="translate(919.9,1266.4) rotate(-90)" text-anchor="end" class="ax">2.0</text>
<line x1="963.7" y1="1251.8" x2="963.7" y2="1259.8" stroke="#1e1e1e" stroke-width="2.6"/>
<text transform="translate(976.3,1266.4) rotate(-90)" text-anchor="end" class="ax">2.4</text>
<line x1="1066.4" y1="1251.8" x2="1066.4" y2="1259.8" stroke="#1e1e1e" stroke-width="2.6"/>
<text transform="translate(1079,1266.4) rotate(-90)" text-anchor="end" class="ax">V4</text>
<line x1="1137.4" y1="1251.8" x2="1137.4" y2="1259.8" stroke="#1e1e1e" stroke-width="2.6"/>
<text transform="translate(1150,1266.4) rotate(-90)" text-anchor="end" class="ax">V6</text>
<line x1="1208.3" y1="1251.8" x2="1208.3" y2="1259.8" stroke="#1e1e1e" stroke-width="2.6"/>
<text transform="translate(1220.9,1266.4) rotate(-90)" text-anchor="end" class="ax">VT</text>
</g>
</svg></div>
</body></html>
